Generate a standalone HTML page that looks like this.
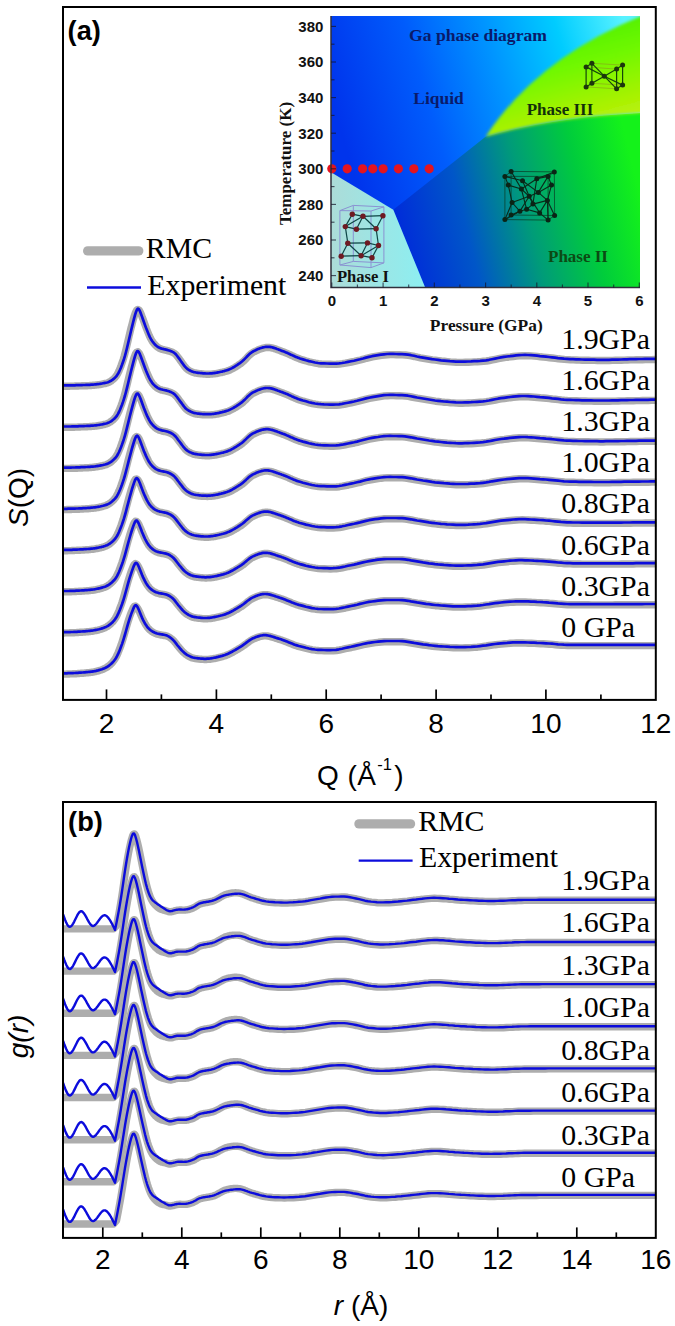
<!DOCTYPE html>
<html><head><meta charset="utf-8"><title>Ga S(Q) and g(r)</title>
<style>html,body{margin:0;padding:0;background:#fff}body{width:675px;height:1326px;overflow:hidden;position:relative;font-family:"Liberation Sans",sans-serif}svg{display:block}.sans{font-family:"Liberation Sans",sans-serif}.serif{font-family:"Liberation Serif",serif}</style></head><body>
<svg width="675" height="1326" viewBox="0 0 675 1326">
<defs>
<linearGradient id="gliq" gradientUnits="userSpaceOnUse" x1="335" y1="110" x2="625" y2="25"><stop offset="0" stop-color="#0034ec"/><stop offset="0.3" stop-color="#005cfc"/><stop offset="0.55" stop-color="#0094ff"/><stop offset="0.78" stop-color="#00ccff"/><stop offset="1" stop-color="#58f2ff"/></linearGradient>
<linearGradient id="gp2" gradientUnits="userSpaceOnUse" x1="395" y1="255" x2="640" y2="195"><stop offset="0" stop-color="#0026dc"/><stop offset="0.3" stop-color="#0056c8"/><stop offset="0.55" stop-color="#009c78"/><stop offset="0.78" stop-color="#00cc3c"/><stop offset="1" stop-color="#14f21a"/></linearGradient>
<linearGradient id="gp3" gradientUnits="userSpaceOnUse" x1="560" y1="20" x2="590" y2="135"><stop offset="0" stop-color="#48ee00"/><stop offset="0.4" stop-color="#70f804"/><stop offset="0.75" stop-color="#a4f200"/><stop offset="1" stop-color="#c4f014"/></linearGradient>
<linearGradient id="gp1" gradientUnits="userSpaceOnUse" x1="331" y1="240" x2="420" y2="240"><stop offset="0" stop-color="#acdcd8"/><stop offset="1" stop-color="#8eeef0"/></linearGradient>
<filter id="bl" x="-10%" y="-10%" width="120%" height="120%"><feGaussianBlur stdDeviation="1.8"/></filter>
<clipPath id="cpin"><rect x="331" y="16" width="309" height="271.5"/></clipPath>
</defs>
<rect width="675" height="1326" fill="#fff"/>
<g fill="none" stroke-linejoin="round">
<path d="M62.1 674.1L63.1 674.1L64.1 674.1L65.1 674.1L66.1 674.1L67.1 674.0L68.1 674.0L69.1 674.0L70.1 673.9L71.1 673.9L72.1 673.9L73.1 673.8L74.1 673.8L75.1 673.7L76.1 673.7L77.1 673.6L78.1 673.5L79.1 673.5L80.1 673.4L81.1 673.3L82.1 673.3L83.1 673.2L84.1 673.1L85.1 673.0L86.1 672.9L87.1 672.8L88.1 672.7L89.1 672.6L90.1 672.5L91.1 672.4L92.1 672.2L93.1 672.1L94.1 671.9L95.1 671.7L96.1 671.4L97.1 671.2L98.1 670.9L99.1 670.6L100.1 670.3L101.1 670.0L102.1 669.6L103.1 669.2L104.1 668.8L105.1 668.3L106.1 667.8L107.1 667.1L108.1 666.4L109.1 665.6L110.1 664.8L111.1 663.8L112.1 662.8L113.1 661.6L114.1 660.3L115.1 658.8L116.1 657.0L117.1 655.0L118.1 652.7L119.1 650.2L120.1 647.6L121.1 644.9L122.1 641.9L123.1 638.7L124.1 635.3L125.1 631.8L126.1 628.2L127.1 624.7L128.1 621.4L129.1 618.3L130.1 615.4L131.1 612.7L132.2 610.2L133.2 607.9L134.3 606.3L135.4 606.0L136.6 606.9L137.9 608.7L139.1 611.0L140.2 613.4L141.3 615.9L142.3 618.3L143.4 620.5L144.4 622.4L145.4 624.2L146.4 625.8L147.4 627.3L148.4 628.5L149.4 629.6L150.4 630.4L151.4 631.2L152.4 631.9L153.4 632.5L154.4 633.0L155.4 633.5L156.4 633.8L157.4 634.2L158.4 634.4L159.4 634.6L160.4 634.8L161.4 635.0L162.4 635.1L163.4 635.3L164.4 635.5L165.4 635.7L166.4 635.9L167.4 636.3L168.4 636.8L169.4 637.3L170.4 638.0L171.4 638.7L172.4 639.6L173.4 640.5L174.4 641.6L175.4 642.8L176.4 644.1L177.4 645.5L178.4 646.7L179.4 647.9L180.4 649.1L181.4 650.2L182.4 651.3L183.4 652.3L184.4 653.2L185.4 654.1L186.4 654.8L187.4 655.5L188.4 656.1L189.4 656.6L190.4 657.1L191.4 657.6L192.4 657.9L193.4 658.2L194.4 658.4L195.4 658.6L196.4 658.7L197.4 658.9L198.4 659.0L199.4 659.1L200.4 659.2L201.4 659.3L202.4 659.4L203.4 659.4L204.4 659.5L205.4 659.5L206.4 659.5L207.4 659.4L208.4 659.4L209.4 659.3L210.4 659.2L211.4 659.0L212.4 658.9L213.4 658.7L214.4 658.5L215.4 658.3L216.4 658.1L217.4 657.8L218.4 657.6L219.4 657.3L220.4 657.1L221.4 656.8L222.4 656.6L223.4 656.3L224.4 656.0L225.4 655.7L226.4 655.3L227.4 654.9L228.4 654.5L229.4 654.0L230.4 653.5L231.4 653.0L232.4 652.5L233.4 651.9L234.4 651.3L235.4 650.8L236.4 650.2L237.4 649.6L238.4 649.0L239.4 648.4L240.4 647.8L241.4 647.2L242.4 646.5L243.4 645.8L244.4 645.1L245.4 644.4L246.4 643.6L247.4 642.8L248.4 642.1L249.4 641.3L250.4 640.7L251.4 640.1L252.4 639.5L253.4 639.0L254.4 638.6L255.4 638.2L256.4 637.8L257.4 637.4L258.4 637.1L259.4 636.8L260.4 636.5L261.4 636.2L262.4 636.1L263.4 635.9L264.4 635.9L265.4 635.9L266.4 635.9L267.4 636.0L268.4 636.2L269.4 636.4L270.4 636.6L271.4 636.9L272.4 637.2L273.4 637.5L274.4 637.8L275.4 638.1L276.4 638.5L277.4 638.8L278.4 639.1L279.4 639.4L280.4 639.7L281.4 640.0L282.4 640.4L283.4 640.8L284.4 641.1L285.4 641.5L286.4 641.9L287.4 642.3L288.4 642.7L289.4 643.1L290.4 643.5L291.4 643.9L292.4 644.3L293.4 644.7L294.4 645.1L295.4 645.5L296.4 645.8L297.4 646.1L298.4 646.4L299.4 646.7L300.4 646.9L303.4 647.7L306.4 648.5L309.4 649.2L312.4 649.8L315.4 650.2L318.4 650.5L321.4 650.6L324.4 650.7L327.4 650.8L330.4 650.8L333.4 650.7L336.4 650.5L339.4 650.0L342.4 649.4L345.4 648.7L348.4 648.1L351.4 647.5L354.4 646.8L357.4 646.1L360.4 645.4L363.4 644.7L366.4 644.1L369.4 643.5L372.4 643.1L375.4 642.7L378.4 642.3L381.4 642.0L384.4 641.8L387.4 641.7L390.4 641.7L393.4 641.7L396.4 641.7L399.4 641.7L402.4 641.8L405.4 642.1L408.4 642.6L411.4 643.1L414.4 643.6L417.4 644.0L420.4 644.5L423.4 645.0L426.4 645.4L429.4 645.9L432.4 646.2L435.4 646.5L438.4 646.8L441.4 647.0L444.4 647.2L447.4 647.4L450.4 647.6L453.4 647.7L456.4 647.8L459.4 647.9L462.4 647.9L465.4 647.8L468.4 647.7L471.4 647.6L474.4 647.4L477.4 647.2L480.4 646.8L483.4 646.4L486.4 646.0L489.4 645.5L492.4 645.1L495.4 644.7L498.4 644.4L501.4 644.1L504.4 643.8L507.4 643.6L510.4 643.3L513.4 643.1L516.4 643.0L519.4 643.0L522.4 643.0L525.4 643.1L528.4 643.2L531.4 643.3L534.4 643.4L537.4 643.6L540.4 643.7L543.4 643.8L546.4 644.0L549.4 644.2L552.4 644.4L555.4 644.7L558.4 645.0L561.4 645.2L564.4 645.4L567.4 645.5L570.4 645.6L573.4 645.6L576.4 645.6L579.4 645.6L582.4 645.6L585.4 645.6L588.4 645.6L591.4 645.6L594.4 645.6L597.4 645.6L600.4 645.6L603.4 645.6L606.4 645.6L609.4 645.6L612.4 645.6L615.4 645.6L618.4 645.6L621.4 645.6L624.4 645.6L627.4 645.6L630.4 645.6L633.4 645.6L636.4 645.6L639.4 645.6L642.4 645.6L645.4 645.6L648.4 645.6L651.4 645.6L654.4 645.6L656.4 645.6" stroke="#adadad" stroke-width="7.4"/>
<path d="M62.1 633.0L63.1 633.0L64.1 633.0L65.1 632.9L66.1 632.9L67.1 632.9L68.1 632.9L69.1 632.9L70.1 632.8L71.1 632.8L72.1 632.8L73.1 632.7L74.1 632.7L75.1 632.6L76.1 632.6L77.1 632.5L78.1 632.5L79.1 632.4L80.1 632.3L81.1 632.3L82.1 632.2L83.1 632.1L84.1 632.1L85.1 632.0L86.1 631.9L87.1 631.8L88.1 631.7L89.1 631.6L90.1 631.5L91.1 631.4L92.1 631.3L93.1 631.1L94.1 630.9L95.1 630.7L96.1 630.5L97.1 630.3L98.1 630.1L99.1 629.8L100.1 629.5L101.1 629.2L102.1 628.9L103.1 628.5L104.1 628.1L105.1 627.7L106.1 627.2L107.1 626.6L108.1 625.9L109.1 625.2L110.1 624.4L111.1 623.5L112.1 622.5L113.1 621.4L114.1 620.1L115.1 618.7L116.1 617.0L117.1 615.0L118.1 612.7L119.1 610.3L120.1 607.7L121.1 605.0L122.1 602.1L123.1 598.9L124.1 595.5L125.1 591.8L126.1 588.2L127.1 584.5L128.1 581.0L129.1 577.7L130.1 574.6L131.1 571.7L132.2 568.9L133.2 566.4L134.3 564.4L135.4 563.6L136.6 564.1L137.9 565.8L139.1 568.0L140.2 570.4L141.3 573.0L142.3 575.5L143.4 577.8L144.4 580.0L145.4 581.9L146.4 583.7L147.4 585.3L148.4 586.7L149.4 587.9L150.4 589.0L151.4 589.8L152.4 590.6L153.4 591.3L154.4 591.9L155.4 592.4L156.4 592.9L157.4 593.2L158.4 593.5L159.4 593.8L160.4 594.0L161.4 594.1L162.4 594.3L163.4 594.5L164.4 594.7L165.4 594.9L166.4 595.1L167.4 595.5L168.4 595.9L169.4 596.4L170.4 597.0L171.4 597.7L172.4 598.5L173.4 599.3L174.4 600.4L175.4 601.6L176.4 602.9L177.4 604.2L178.4 605.5L179.4 606.7L180.4 607.9L181.4 609.1L182.4 610.2L183.4 611.3L184.4 612.3L185.4 613.2L186.4 613.9L187.4 614.6L188.4 615.2L189.4 615.8L190.4 616.3L191.4 616.7L192.4 617.1L193.4 617.4L194.4 617.6L195.4 617.8L196.4 617.9L197.4 618.1L198.4 618.2L199.4 618.3L200.4 618.4L201.4 618.5L202.4 618.6L203.4 618.7L204.4 618.7L205.4 618.7L206.4 618.7L207.4 618.7L208.4 618.6L209.4 618.6L210.4 618.5L211.4 618.3L212.4 618.2L213.4 618.0L214.4 617.8L215.4 617.6L216.4 617.4L217.4 617.2L218.4 617.0L219.4 616.7L220.4 616.5L221.4 616.2L222.4 616.0L223.4 615.7L224.4 615.4L225.4 615.1L226.4 614.7L227.4 614.3L228.4 613.9L229.4 613.5L230.4 613.0L231.4 612.5L232.4 611.9L233.4 611.4L234.4 610.8L235.4 610.2L236.4 609.6L237.4 609.1L238.4 608.4L239.4 607.8L240.4 607.2L241.4 606.6L242.4 605.9L243.4 605.2L244.4 604.4L245.4 603.6L246.4 602.8L247.4 602.0L248.4 601.2L249.4 600.5L250.4 599.8L251.4 599.1L252.4 598.6L253.4 598.1L254.4 597.6L255.4 597.2L256.4 596.8L257.4 596.4L258.4 596.0L259.4 595.7L260.4 595.4L261.4 595.1L262.4 594.9L263.4 594.8L264.4 594.7L265.4 594.7L266.4 594.7L267.4 594.8L268.4 594.9L269.4 595.1L270.4 595.3L271.4 595.6L272.4 595.9L273.4 596.2L274.4 596.5L275.4 596.8L276.4 597.2L277.4 597.5L278.4 597.8L279.4 598.1L280.4 598.5L281.4 598.8L282.4 599.1L283.4 599.5L284.4 599.9L285.4 600.3L286.4 600.7L287.4 601.1L288.4 601.5L289.4 601.9L290.4 602.3L291.4 602.7L292.4 603.2L293.4 603.5L294.4 603.9L295.4 604.3L296.4 604.6L297.4 605.0L298.4 605.3L299.4 605.6L300.4 605.8L303.4 606.6L306.4 607.4L309.4 608.1L312.4 608.8L315.4 609.2L318.4 609.5L321.4 609.7L324.4 609.8L327.4 609.8L330.4 609.9L333.4 609.8L336.4 609.6L339.4 609.2L342.4 608.6L345.4 608.0L348.4 607.3L351.4 606.7L354.4 606.1L357.4 605.4L360.4 604.6L363.4 603.9L366.4 603.2L369.4 602.6L372.4 602.2L375.4 601.8L378.4 601.4L381.4 601.0L384.4 600.8L387.4 600.7L390.4 600.7L393.4 600.7L396.4 600.7L399.4 600.7L402.4 600.8L405.4 601.1L408.4 601.5L411.4 602.1L414.4 602.6L417.4 603.1L420.4 603.5L423.4 604.0L426.4 604.5L429.4 604.9L432.4 605.3L435.4 605.7L438.4 605.9L441.4 606.2L444.4 606.4L447.4 606.6L450.4 606.8L453.4 607.0L456.4 607.1L459.4 607.1L462.4 607.1L465.4 607.0L468.4 606.9L471.4 606.8L474.4 606.6L477.4 606.4L480.4 606.1L483.4 605.7L486.4 605.2L489.4 604.8L492.4 604.3L495.4 603.9L498.4 603.5L501.4 603.2L504.4 602.9L507.4 602.6L510.4 602.4L513.4 602.2L516.4 602.0L519.4 602.0L522.4 602.0L525.4 602.0L528.4 602.1L531.4 602.3L534.4 602.4L537.4 602.6L540.4 602.7L543.4 602.9L546.4 603.0L549.4 603.3L552.4 603.5L555.4 603.8L558.4 604.1L561.4 604.3L564.4 604.5L567.4 604.7L570.4 604.8L573.4 604.8L576.4 604.8L579.4 604.8L582.4 604.8L585.4 604.8L588.4 604.8L591.4 604.9L594.4 604.9L597.4 604.9L600.4 604.9L603.4 604.9L606.4 604.9L609.4 604.9L612.4 604.9L615.4 604.8L618.4 604.8L621.4 604.8L624.4 604.8L627.4 604.8L630.4 604.8L633.4 604.8L636.4 604.8L639.4 604.8L642.4 604.8L645.4 604.7L648.4 604.7L651.4 604.7L654.4 604.7L656.4 604.7" stroke="#adadad" stroke-width="7.4"/>
<path d="M62.1 591.8L63.1 591.8L64.1 591.8L65.1 591.8L66.1 591.8L67.1 591.8L68.1 591.8L69.1 591.7L70.1 591.7L71.1 591.7L72.1 591.6L73.1 591.6L74.1 591.6L75.1 591.5L76.1 591.5L77.1 591.4L78.1 591.4L79.1 591.3L80.1 591.3L81.1 591.2L82.1 591.1L83.1 591.1L84.1 591.0L85.1 590.9L86.1 590.9L87.1 590.8L88.1 590.7L89.1 590.6L90.1 590.5L91.1 590.4L92.1 590.3L93.1 590.2L94.1 590.0L95.1 589.8L96.1 589.6L97.1 589.4L98.1 589.2L99.1 589.0L100.1 588.7L101.1 588.4L102.1 588.1L103.1 587.8L104.1 587.5L105.1 587.1L106.1 586.6L107.1 586.1L108.1 585.5L109.1 584.7L110.1 584.0L111.1 583.1L112.1 582.1L113.1 581.1L114.1 579.9L115.1 578.5L116.1 576.9L117.1 574.9L118.1 572.8L119.1 570.4L120.1 567.8L121.1 565.1L122.1 562.2L123.1 559.0L124.1 555.6L125.1 551.9L126.1 548.2L127.1 544.4L128.1 540.8L129.1 537.3L130.1 533.9L131.1 530.8L132.2 527.7L133.2 524.9L134.3 522.6L135.4 521.3L136.6 521.4L137.9 522.8L139.1 524.9L140.2 527.4L141.3 530.0L142.3 532.6L143.4 535.1L144.4 537.4L145.4 539.5L146.4 541.4L147.4 543.2L148.4 544.9L149.4 546.2L150.4 547.4L151.4 548.4L152.4 549.3L153.4 550.1L154.4 550.8L155.4 551.4L156.4 551.9L157.4 552.3L158.4 552.6L159.4 552.9L160.4 553.1L161.4 553.3L162.4 553.5L163.4 553.7L164.4 553.9L165.4 554.1L166.4 554.3L167.4 554.6L168.4 555.0L169.4 555.5L170.4 556.0L171.4 556.7L172.4 557.4L173.4 558.2L174.4 559.2L175.4 560.3L176.4 561.6L177.4 562.9L178.4 564.2L179.4 565.5L180.4 566.7L181.4 567.9L182.4 569.1L183.4 570.2L184.4 571.3L185.4 572.2L186.4 573.0L187.4 573.7L188.4 574.4L189.4 574.9L190.4 575.4L191.4 575.9L192.4 576.2L193.4 576.6L194.4 576.8L195.4 577.0L196.4 577.1L197.4 577.3L198.4 577.4L199.4 577.5L200.4 577.6L201.4 577.7L202.4 577.8L203.4 577.9L204.4 577.9L205.4 578.0L206.4 578.0L207.4 577.9L208.4 577.9L209.4 577.8L210.4 577.8L211.4 577.6L212.4 577.5L213.4 577.3L214.4 577.2L215.4 577.0L216.4 576.8L217.4 576.6L218.4 576.3L219.4 576.1L220.4 575.9L221.4 575.6L222.4 575.3L223.4 575.1L224.4 574.8L225.4 574.5L226.4 574.2L227.4 573.8L228.4 573.4L229.4 572.9L230.4 572.5L231.4 571.9L232.4 571.4L233.4 570.9L234.4 570.3L235.4 569.7L236.4 569.1L237.4 568.5L238.4 567.9L239.4 567.3L240.4 566.6L241.4 566.0L242.4 565.3L243.4 564.6L244.4 563.8L245.4 562.9L246.4 562.1L247.4 561.2L248.4 560.4L249.4 559.6L250.4 558.8L251.4 558.2L252.4 557.6L253.4 557.1L254.4 556.6L255.4 556.2L256.4 555.8L257.4 555.4L258.4 555.0L259.4 554.6L260.4 554.3L261.4 554.1L262.4 553.8L263.4 553.6L264.4 553.5L265.4 553.5L266.4 553.5L267.4 553.5L268.4 553.7L269.4 553.8L270.4 554.0L271.4 554.3L272.4 554.6L273.4 554.9L274.4 555.2L275.4 555.5L276.4 555.9L277.4 556.2L278.4 556.6L279.4 556.9L280.4 557.2L281.4 557.5L282.4 557.9L283.4 558.2L284.4 558.6L285.4 559.0L286.4 559.4L287.4 559.8L288.4 560.3L289.4 560.7L290.4 561.1L291.4 561.5L292.4 562.0L293.4 562.4L294.4 562.8L295.4 563.1L296.4 563.5L297.4 563.8L298.4 564.2L299.4 564.5L300.4 564.8L303.4 565.6L306.4 566.4L309.4 567.1L312.4 567.7L315.4 568.2L318.4 568.6L321.4 568.7L324.4 568.8L327.4 568.9L330.4 569.0L333.4 568.9L336.4 568.7L339.4 568.4L342.4 567.8L345.4 567.2L348.4 566.5L351.4 565.9L354.4 565.3L357.4 564.6L360.4 563.8L363.4 563.1L366.4 562.4L369.4 561.8L372.4 561.3L375.4 560.9L378.4 560.4L381.4 560.1L384.4 559.8L387.4 559.7L390.4 559.7L393.4 559.7L396.4 559.7L399.4 559.7L402.4 559.8L405.4 560.1L408.4 560.5L411.4 561.1L414.4 561.6L417.4 562.1L420.4 562.6L423.4 563.1L426.4 563.5L429.4 564.0L432.4 564.4L435.4 564.8L438.4 565.1L441.4 565.3L444.4 565.6L447.4 565.8L450.4 566.0L453.4 566.2L456.4 566.3L459.4 566.3L462.4 566.3L465.4 566.2L468.4 566.1L471.4 566.0L474.4 565.8L477.4 565.6L480.4 565.3L483.4 565.0L486.4 564.5L489.4 564.0L492.4 563.5L495.4 563.0L498.4 562.6L501.4 562.3L504.4 562.0L507.4 561.7L510.4 561.4L513.4 561.2L516.4 561.0L519.4 560.9L522.4 560.9L525.4 561.0L528.4 561.1L531.4 561.2L534.4 561.4L537.4 561.5L540.4 561.7L543.4 561.9L546.4 562.1L549.4 562.3L552.4 562.6L555.4 562.9L558.4 563.2L561.4 563.4L564.4 563.7L567.4 563.8L570.4 563.9L573.4 564.0L576.4 564.0L579.4 564.0L582.4 564.1L585.4 564.1L588.4 564.1L591.4 564.1L594.4 564.1L597.4 564.1L600.4 564.1L603.4 564.1L606.4 564.1L609.4 564.1L612.4 564.1L615.4 564.1L618.4 564.1L621.4 564.0L624.4 564.0L627.4 564.0L630.4 564.0L633.4 564.0L636.4 563.9L639.4 563.9L642.4 563.9L645.4 563.9L648.4 563.9L651.4 563.9L654.4 563.9L656.4 563.9" stroke="#adadad" stroke-width="7.4"/>
<path d="M62.1 550.7L63.1 550.7L64.1 550.7L65.1 550.7L66.1 550.7L67.1 550.7L68.1 550.6L69.1 550.6L70.1 550.6L71.1 550.6L72.1 550.5L73.1 550.5L74.1 550.5L75.1 550.4L76.1 550.4L77.1 550.3L78.1 550.3L79.1 550.2L80.1 550.2L81.1 550.1L82.1 550.1L83.1 550.0L84.1 550.0L85.1 549.9L86.1 549.8L87.1 549.8L88.1 549.7L89.1 549.6L90.1 549.5L91.1 549.4L92.1 549.3L93.1 549.2L94.1 549.1L95.1 548.9L96.1 548.7L97.1 548.5L98.1 548.3L99.1 548.1L100.1 547.9L101.1 547.6L102.1 547.4L103.1 547.1L104.1 546.8L105.1 546.4L106.1 546.0L107.1 545.5L108.1 544.9L109.1 544.3L110.1 543.5L111.1 542.7L112.1 541.8L113.1 540.8L114.1 539.7L115.1 538.3L116.1 536.8L117.1 534.9L118.1 532.8L119.1 530.4L120.1 527.9L121.1 525.2L122.1 522.3L123.1 519.2L124.1 515.8L125.1 512.1L126.1 508.2L127.1 504.4L128.1 500.6L129.1 496.9L130.1 493.4L131.1 489.9L132.2 486.7L133.2 483.6L134.3 481.0L135.4 479.3L136.6 478.9L137.9 479.9L139.1 481.9L140.2 484.3L141.3 486.9L142.3 489.6L143.4 492.2L144.4 494.7L145.4 496.9L146.4 499.1L147.4 501.0L148.4 502.8L149.4 504.4L150.4 505.8L151.4 506.9L152.4 507.9L153.4 508.8L154.4 509.6L155.4 510.3L156.4 510.8L157.4 511.3L158.4 511.7L159.4 512.0L160.4 512.3L161.4 512.5L162.4 512.7L163.4 512.9L164.4 513.1L165.4 513.3L166.4 513.5L167.4 513.8L168.4 514.2L169.4 514.6L170.4 515.1L171.4 515.7L172.4 516.3L173.4 517.1L174.4 518.0L175.4 519.1L176.4 520.3L177.4 521.6L178.4 522.9L179.4 524.2L180.4 525.5L181.4 526.7L182.4 528.0L183.4 529.2L184.4 530.3L185.4 531.3L186.4 532.1L187.4 532.9L188.4 533.5L189.4 534.1L190.4 534.6L191.4 535.0L192.4 535.4L193.4 535.7L194.4 536.0L195.4 536.2L196.4 536.4L197.4 536.5L198.4 536.6L199.4 536.8L200.4 536.9L201.4 537.0L202.4 537.0L203.4 537.1L204.4 537.2L205.4 537.2L206.4 537.2L207.4 537.2L208.4 537.2L209.4 537.1L210.4 537.0L211.4 536.9L212.4 536.8L213.4 536.7L214.4 536.5L215.4 536.3L216.4 536.1L217.4 535.9L218.4 535.7L219.4 535.5L220.4 535.2L221.4 535.0L222.4 534.7L223.4 534.5L224.4 534.2L225.4 533.9L226.4 533.6L227.4 533.2L228.4 532.8L229.4 532.4L230.4 531.9L231.4 531.4L232.4 530.9L233.4 530.3L234.4 529.8L235.4 529.2L236.4 528.6L237.4 528.0L238.4 527.3L239.4 526.7L240.4 526.1L241.4 525.4L242.4 524.7L243.4 523.9L244.4 523.1L245.4 522.2L246.4 521.3L247.4 520.4L248.4 519.6L249.4 518.7L250.4 517.9L251.4 517.2L252.4 516.6L253.4 516.1L254.4 515.6L255.4 515.2L256.4 514.8L257.4 514.3L258.4 514.0L259.4 513.6L260.4 513.3L261.4 513.0L262.4 512.7L263.4 512.5L264.4 512.4L265.4 512.3L266.4 512.3L267.4 512.3L268.4 512.4L269.4 512.5L270.4 512.7L271.4 513.0L272.4 513.3L273.4 513.6L274.4 513.9L275.4 514.2L276.4 514.6L277.4 514.9L278.4 515.3L279.4 515.6L280.4 515.9L281.4 516.3L282.4 516.6L283.4 517.0L284.4 517.4L285.4 517.8L286.4 518.2L287.4 518.6L288.4 519.0L289.4 519.5L290.4 519.9L291.4 520.3L292.4 520.7L293.4 521.2L294.4 521.6L295.4 522.0L296.4 522.3L297.4 522.7L298.4 523.0L299.4 523.4L300.4 523.7L303.4 524.5L306.4 525.3L309.4 526.0L312.4 526.7L315.4 527.2L318.4 527.6L321.4 527.8L324.4 527.9L327.4 528.0L330.4 528.0L333.4 528.0L336.4 527.9L339.4 527.5L342.4 527.0L345.4 526.4L348.4 525.7L351.4 525.1L354.4 524.5L357.4 523.8L360.4 523.1L363.4 522.3L366.4 521.6L369.4 520.9L372.4 520.4L375.4 519.9L378.4 519.5L381.4 519.1L384.4 518.8L387.4 518.7L390.4 518.7L393.4 518.7L396.4 518.7L399.4 518.8L402.4 518.8L405.4 519.1L408.4 519.5L411.4 520.0L414.4 520.6L417.4 521.2L420.4 521.6L423.4 522.1L426.4 522.6L429.4 523.1L432.4 523.5L435.4 523.9L438.4 524.2L441.4 524.5L444.4 524.7L447.4 525.0L450.4 525.2L453.4 525.3L456.4 525.5L459.4 525.5L462.4 525.5L465.4 525.5L468.4 525.4L471.4 525.2L474.4 525.0L477.4 524.9L480.4 524.6L483.4 524.2L486.4 523.8L489.4 523.3L492.4 522.8L495.4 522.3L498.4 521.8L501.4 521.4L504.4 521.1L507.4 520.8L510.4 520.5L513.4 520.2L516.4 520.0L519.4 519.9L522.4 519.8L525.4 519.9L528.4 520.0L531.4 520.2L534.4 520.3L537.4 520.5L540.4 520.7L543.4 520.9L546.4 521.2L549.4 521.4L552.4 521.7L555.4 522.0L558.4 522.3L561.4 522.6L564.4 522.8L567.4 523.0L570.4 523.1L573.4 523.2L576.4 523.2L579.4 523.2L582.4 523.3L585.4 523.3L588.4 523.3L591.4 523.4L594.4 523.4L597.4 523.4L600.4 523.4L603.4 523.4L606.4 523.4L609.4 523.4L612.4 523.4L615.4 523.3L618.4 523.3L621.4 523.3L624.4 523.2L627.4 523.2L630.4 523.2L633.4 523.1L636.4 523.1L639.4 523.1L642.4 523.1L645.4 523.0L648.4 523.0L651.4 523.0L654.4 523.0L656.4 523.0" stroke="#adadad" stroke-width="7.4"/>
<path d="M62.1 509.6L63.1 509.6L64.1 509.6L65.1 509.6L66.1 509.6L67.1 509.5L68.1 509.5L69.1 509.5L70.1 509.5L71.1 509.5L72.1 509.4L73.1 509.4L74.1 509.4L75.1 509.3L76.1 509.3L77.1 509.3L78.1 509.2L79.1 509.2L80.1 509.1L81.1 509.1L82.1 509.0L83.1 509.0L84.1 508.9L85.1 508.9L86.1 508.8L87.1 508.7L88.1 508.7L89.1 508.6L90.1 508.5L91.1 508.4L92.1 508.3L93.1 508.2L94.1 508.1L95.1 508.0L96.1 507.8L97.1 507.6L98.1 507.5L99.1 507.3L100.1 507.0L101.1 506.8L102.1 506.6L103.1 506.3L104.1 506.0L105.1 505.7L106.1 505.4L107.1 504.9L108.1 504.4L109.1 503.8L110.1 503.1L111.1 502.3L112.1 501.4L113.1 500.5L114.1 499.4L115.1 498.2L116.1 496.7L117.1 494.9L118.1 492.8L119.1 490.5L120.1 488.0L121.1 485.3L122.1 482.4L123.1 479.3L124.1 475.9L125.1 472.2L126.1 468.3L127.1 464.4L128.1 460.4L129.1 456.6L130.1 452.9L131.1 449.2L132.2 445.7L133.2 442.5L134.3 439.5L135.4 437.4L136.6 436.5L137.9 437.1L139.1 438.9L140.2 441.3L141.3 443.9L142.3 446.6L143.4 449.3L144.4 451.9L145.4 454.3L146.4 456.6L147.4 458.7L148.4 460.7L149.4 462.5L150.4 464.0L151.4 465.3L152.4 466.4L153.4 467.4L154.4 468.3L155.4 469.1L156.4 469.8L157.4 470.3L158.4 470.8L159.4 471.1L160.4 471.4L161.4 471.7L162.4 471.9L163.4 472.1L164.4 472.3L165.4 472.5L166.4 472.7L167.4 473.0L168.4 473.3L169.4 473.7L170.4 474.2L171.4 474.7L172.4 475.3L173.4 476.0L174.4 476.8L175.4 477.8L176.4 479.0L177.4 480.3L178.4 481.7L179.4 483.0L180.4 484.3L181.4 485.5L182.4 486.8L183.4 488.1L184.4 489.3L185.4 490.3L186.4 491.2L187.4 492.0L188.4 492.6L189.4 493.2L190.4 493.7L191.4 494.2L192.4 494.6L193.4 494.9L194.4 495.2L195.4 495.4L196.4 495.6L197.4 495.7L198.4 495.8L199.4 496.0L200.4 496.1L201.4 496.2L202.4 496.3L203.4 496.3L204.4 496.4L205.4 496.4L206.4 496.4L207.4 496.5L208.4 496.4L209.4 496.4L210.4 496.3L211.4 496.2L212.4 496.1L213.4 496.0L214.4 495.8L215.4 495.7L216.4 495.5L217.4 495.3L218.4 495.1L219.4 494.8L220.4 494.6L221.4 494.4L222.4 494.1L223.4 493.9L224.4 493.6L225.4 493.3L226.4 493.0L227.4 492.7L228.4 492.3L229.4 491.9L230.4 491.4L231.4 490.9L232.4 490.4L233.4 489.8L234.4 489.2L235.4 488.7L236.4 488.0L237.4 487.4L238.4 486.8L239.4 486.1L240.4 485.5L241.4 484.8L242.4 484.1L243.4 483.3L244.4 482.4L245.4 481.5L246.4 480.6L247.4 479.6L248.4 478.7L249.4 477.8L250.4 477.0L251.4 476.3L252.4 475.7L253.4 475.1L254.4 474.6L255.4 474.2L256.4 473.7L257.4 473.3L258.4 472.9L259.4 472.5L260.4 472.2L261.4 471.9L262.4 471.6L263.4 471.4L264.4 471.2L265.4 471.1L266.4 471.1L267.4 471.1L268.4 471.1L269.4 471.3L270.4 471.5L271.4 471.7L272.4 471.9L273.4 472.2L274.4 472.6L275.4 472.9L276.4 473.3L277.4 473.6L278.4 474.0L279.4 474.3L280.4 474.7L281.4 475.0L282.4 475.4L283.4 475.7L284.4 476.1L285.4 476.5L286.4 476.9L287.4 477.3L288.4 477.8L289.4 478.2L290.4 478.6L291.4 479.1L292.4 479.5L293.4 480.0L294.4 480.4L295.4 480.8L296.4 481.2L297.4 481.6L298.4 481.9L299.4 482.2L300.4 482.5L303.4 483.4L306.4 484.2L309.4 485.0L312.4 485.7L315.4 486.2L318.4 486.6L321.4 486.8L324.4 486.9L327.4 487.0L330.4 487.1L333.4 487.1L336.4 487.0L339.4 486.7L342.4 486.2L345.4 485.6L348.4 485.0L351.4 484.3L354.4 483.7L357.4 483.0L360.4 482.3L363.4 481.5L366.4 480.7L369.4 480.1L372.4 479.5L375.4 479.0L378.4 478.6L381.4 478.2L384.4 477.9L387.4 477.7L390.4 477.6L393.4 477.7L396.4 477.7L399.4 477.8L402.4 477.8L405.4 478.1L408.4 478.5L411.4 479.0L414.4 479.6L417.4 480.2L420.4 480.7L423.4 481.2L426.4 481.6L429.4 482.1L432.4 482.6L435.4 483.0L438.4 483.3L441.4 483.6L444.4 483.9L447.4 484.1L450.4 484.4L453.4 484.5L456.4 484.7L459.4 484.7L462.4 484.7L465.4 484.7L468.4 484.6L471.4 484.4L474.4 484.3L477.4 484.1L480.4 483.9L483.4 483.5L486.4 483.1L489.4 482.6L492.4 482.0L495.4 481.5L498.4 481.0L501.4 480.6L504.4 480.2L507.4 479.9L510.4 479.6L513.4 479.3L516.4 479.0L519.4 478.8L522.4 478.8L525.4 478.8L528.4 478.9L531.4 479.1L534.4 479.3L537.4 479.5L540.4 479.8L543.4 480.0L546.4 480.2L549.4 480.5L552.4 480.8L555.4 481.1L558.4 481.4L561.4 481.7L564.4 482.0L567.4 482.2L570.4 482.3L573.4 482.3L576.4 482.4L579.4 482.5L582.4 482.5L585.4 482.6L588.4 482.6L591.4 482.6L594.4 482.7L597.4 482.7L600.4 482.7L603.4 482.7L606.4 482.7L609.4 482.7L612.4 482.6L615.4 482.6L618.4 482.5L621.4 482.5L624.4 482.4L627.4 482.4L630.4 482.4L633.4 482.3L636.4 482.3L639.4 482.3L642.4 482.2L645.4 482.2L648.4 482.2L651.4 482.1L654.4 482.1L656.4 482.1" stroke="#adadad" stroke-width="7.4"/>
<path d="M62.1 468.5L63.1 468.5L64.1 468.4L65.1 468.4L66.1 468.4L67.1 468.4L68.1 468.4L69.1 468.4L70.1 468.4L71.1 468.3L72.1 468.3L73.1 468.3L74.1 468.3L75.1 468.2L76.1 468.2L77.1 468.2L78.1 468.1L79.1 468.1L80.1 468.0L81.1 468.0L82.1 468.0L83.1 467.9L84.1 467.9L85.1 467.8L86.1 467.8L87.1 467.7L88.1 467.7L89.1 467.6L90.1 467.5L91.1 467.5L92.1 467.4L93.1 467.3L94.1 467.2L95.1 467.0L96.1 466.9L97.1 466.7L98.1 466.6L99.1 466.4L100.1 466.2L101.1 466.0L102.1 465.8L103.1 465.5L104.1 465.3L105.1 465.0L106.1 464.7L107.1 464.3L108.1 463.8L109.1 463.3L110.1 462.6L111.1 461.9L112.1 461.0L113.1 460.1L114.1 459.1L115.1 457.9L116.1 456.5L117.1 454.8L118.1 452.8L119.1 450.5L120.1 448.1L121.1 445.4L122.1 442.6L123.1 439.5L124.1 436.1L125.1 432.4L126.1 428.5L127.1 424.4L128.1 420.3L129.1 416.3L130.1 412.4L131.1 408.6L132.2 404.9L133.2 401.4L134.3 398.2L135.4 395.6L136.6 394.2L137.9 394.4L139.1 395.9L140.2 398.2L141.3 400.8L142.3 403.5L143.4 406.3L144.4 409.0L145.4 411.5L146.4 414.0L147.4 416.3L148.4 418.4L149.4 420.4L150.4 422.1L151.4 423.6L152.4 424.9L153.4 426.0L154.4 427.0L155.4 427.8L156.4 428.6L157.4 429.3L158.4 429.8L159.4 430.2L160.4 430.5L161.4 430.8L162.4 431.1L163.4 431.3L164.4 431.5L165.4 431.7L166.4 431.9L167.4 432.2L168.4 432.5L169.4 432.9L170.4 433.3L171.4 433.7L172.4 434.3L173.4 434.9L174.4 435.7L175.4 436.6L176.4 437.7L177.4 439.0L178.4 440.4L179.4 441.7L180.4 443.0L181.4 444.3L182.4 445.7L183.4 447.0L184.4 448.2L185.4 449.4L186.4 450.3L187.4 451.1L188.4 451.8L189.4 452.4L190.4 452.9L191.4 453.3L192.4 453.8L193.4 454.1L194.4 454.4L195.4 454.6L196.4 454.8L197.4 454.9L198.4 455.1L199.4 455.2L200.4 455.3L201.4 455.4L202.4 455.5L203.4 455.6L204.4 455.6L205.4 455.7L206.4 455.7L207.4 455.7L208.4 455.7L209.4 455.7L210.4 455.6L211.4 455.5L212.4 455.4L213.4 455.3L214.4 455.1L215.4 455.0L216.4 454.8L217.4 454.6L218.4 454.4L219.4 454.2L220.4 454.0L221.4 453.7L222.4 453.5L223.4 453.3L224.4 453.0L225.4 452.7L226.4 452.4L227.4 452.1L228.4 451.7L229.4 451.3L230.4 450.9L231.4 450.4L232.4 449.8L233.4 449.3L234.4 448.7L235.4 448.1L236.4 447.5L237.4 446.9L238.4 446.2L239.4 445.6L240.4 444.9L241.4 444.2L242.4 443.5L243.4 442.6L244.4 441.7L245.4 440.8L246.4 439.8L247.4 438.8L248.4 437.9L249.4 437.0L250.4 436.1L251.4 435.4L252.4 434.7L253.4 434.1L254.4 433.6L255.4 433.2L256.4 432.7L257.4 432.3L258.4 431.9L259.4 431.5L260.4 431.1L261.4 430.8L262.4 430.5L263.4 430.3L264.4 430.1L265.4 430.0L266.4 429.9L267.4 429.9L268.4 429.9L269.4 430.0L270.4 430.2L271.4 430.4L272.4 430.6L273.4 430.9L274.4 431.2L275.4 431.6L276.4 431.9L277.4 432.3L278.4 432.7L279.4 433.0L280.4 433.4L281.4 433.8L282.4 434.1L283.4 434.5L284.4 434.8L285.4 435.2L286.4 435.6L287.4 436.1L288.4 436.5L289.4 437.0L290.4 437.4L291.4 437.9L292.4 438.3L293.4 438.7L294.4 439.2L295.4 439.6L296.4 440.0L297.4 440.4L298.4 440.8L299.4 441.1L300.4 441.4L303.4 442.3L306.4 443.1L309.4 443.9L312.4 444.6L315.4 445.2L318.4 445.6L321.4 445.9L324.4 446.0L327.4 446.1L330.4 446.2L333.4 446.2L336.4 446.1L339.4 445.8L342.4 445.4L345.4 444.8L348.4 444.2L351.4 443.6L354.4 443.0L357.4 442.3L360.4 441.5L363.4 440.7L366.4 439.9L369.4 439.2L372.4 438.6L375.4 438.1L378.4 437.7L381.4 437.2L384.4 436.9L387.4 436.7L390.4 436.6L393.4 436.7L396.4 436.7L399.4 436.8L402.4 436.9L405.4 437.1L408.4 437.5L411.4 438.0L414.4 438.6L417.4 439.2L420.4 439.7L423.4 440.2L426.4 440.7L429.4 441.2L432.4 441.6L435.4 442.1L438.4 442.4L441.4 442.7L444.4 443.0L447.4 443.3L450.4 443.5L453.4 443.7L456.4 443.9L459.4 444.0L462.4 444.0L465.4 443.9L468.4 443.8L471.4 443.7L474.4 443.5L477.4 443.3L480.4 443.1L483.4 442.8L486.4 442.4L489.4 441.9L492.4 441.3L495.4 440.7L498.4 440.2L501.4 439.7L504.4 439.4L507.4 439.0L510.4 438.6L513.4 438.3L516.4 438.0L519.4 437.8L522.4 437.7L525.4 437.7L528.4 437.9L531.4 438.0L534.4 438.2L537.4 438.5L540.4 438.8L543.4 439.0L546.4 439.3L549.4 439.5L552.4 439.9L555.4 440.2L558.4 440.5L561.4 440.8L564.4 441.1L567.4 441.3L570.4 441.4L573.4 441.5L576.4 441.6L579.4 441.7L582.4 441.7L585.4 441.8L588.4 441.8L591.4 441.9L594.4 441.9L597.4 441.9L600.4 442.0L603.4 442.0L606.4 441.9L609.4 441.9L612.4 441.9L615.4 441.8L618.4 441.8L621.4 441.7L624.4 441.7L627.4 441.6L630.4 441.5L633.4 441.5L636.4 441.5L639.4 441.4L642.4 441.4L645.4 441.3L648.4 441.3L651.4 441.3L654.4 441.3L656.4 441.2" stroke="#adadad" stroke-width="7.4"/>
<path d="M62.1 427.3L63.1 427.3L64.1 427.3L65.1 427.3L66.1 427.3L67.1 427.3L68.1 427.3L69.1 427.3L70.1 427.3L71.1 427.2L72.1 427.2L73.1 427.2L74.1 427.2L75.1 427.1L76.1 427.1L77.1 427.1L78.1 427.0L79.1 427.0L80.1 427.0L81.1 426.9L82.1 426.9L83.1 426.9L84.1 426.8L85.1 426.8L86.1 426.7L87.1 426.7L88.1 426.6L89.1 426.6L90.1 426.5L91.1 426.5L92.1 426.4L93.1 426.3L94.1 426.2L95.1 426.1L96.1 426.0L97.1 425.8L98.1 425.7L99.1 425.5L100.1 425.3L101.1 425.2L102.1 425.0L103.1 424.7L104.1 424.5L105.1 424.3L106.1 424.0L107.1 423.6L108.1 423.2L109.1 422.7L110.1 422.1L111.1 421.4L112.1 420.6L113.1 419.8L114.1 418.8L115.1 417.7L116.1 416.4L117.1 414.7L118.1 412.8L119.1 410.6L120.1 408.1L121.1 405.5L122.1 402.7L123.1 399.6L124.1 396.3L125.1 392.6L126.1 388.6L127.1 384.5L128.1 380.3L129.1 376.2L130.1 372.1L131.1 368.1L132.2 364.2L133.2 360.4L134.3 357.0L135.4 354.1L136.6 352.2L137.9 351.8L139.1 353.0L140.2 355.1L141.3 357.7L142.3 360.5L143.4 363.3L144.4 366.0L145.4 368.7L146.4 371.3L147.4 373.7L148.4 376.0L149.4 378.2L150.4 380.2L151.4 381.8L152.4 383.3L153.4 384.5L154.4 385.6L155.4 386.6L156.4 387.4L157.4 388.1L158.4 388.8L159.4 389.3L160.4 389.6L161.4 390.0L162.4 390.2L163.4 390.5L164.4 390.7L165.4 390.9L166.4 391.1L167.4 391.4L168.4 391.7L169.4 392.0L170.4 392.4L171.4 392.8L172.4 393.3L173.4 393.8L174.4 394.5L175.4 395.4L176.4 396.5L177.4 397.7L178.4 399.1L179.4 400.4L180.4 401.8L181.4 403.1L182.4 404.5L183.4 405.8L184.4 407.2L185.4 408.4L186.4 409.4L187.4 410.2L188.4 410.9L189.4 411.5L190.4 412.0L191.4 412.5L192.4 412.9L193.4 413.3L194.4 413.6L195.4 413.8L196.4 414.0L197.4 414.2L198.4 414.3L199.4 414.4L200.4 414.5L201.4 414.6L202.4 414.7L203.4 414.8L204.4 414.8L205.4 414.9L206.4 414.9L207.4 414.9L208.4 414.9L209.4 414.9L210.4 414.9L211.4 414.8L212.4 414.7L213.4 414.6L214.4 414.5L215.4 414.3L216.4 414.1L217.4 414.0L218.4 413.8L219.4 413.6L220.4 413.3L221.4 413.1L222.4 412.9L223.4 412.6L224.4 412.4L225.4 412.1L226.4 411.8L227.4 411.5L228.4 411.2L229.4 410.8L230.4 410.3L231.4 409.8L232.4 409.3L233.4 408.8L234.4 408.2L235.4 407.6L236.4 407.0L237.4 406.3L238.4 405.7L239.4 405.0L240.4 404.3L241.4 403.6L242.4 402.8L243.4 402.0L244.4 401.0L245.4 400.1L246.4 399.1L247.4 398.0L248.4 397.0L249.4 396.1L250.4 395.2L251.4 394.4L252.4 393.7L253.4 393.1L254.4 392.6L255.4 392.2L256.4 391.7L257.4 391.3L258.4 390.8L259.4 390.4L260.4 390.1L261.4 389.7L262.4 389.4L263.4 389.2L264.4 389.0L265.4 388.8L266.4 388.7L267.4 388.7L268.4 388.7L269.4 388.8L270.4 388.9L271.4 389.1L272.4 389.3L273.4 389.6L274.4 389.9L275.4 390.3L276.4 390.6L277.4 391.0L278.4 391.4L279.4 391.7L280.4 392.1L281.4 392.5L282.4 392.8L283.4 393.2L284.4 393.6L285.4 394.0L286.4 394.4L287.4 394.8L288.4 395.2L289.4 395.7L290.4 396.1L291.4 396.6L292.4 397.1L293.4 397.5L294.4 398.0L295.4 398.4L296.4 398.8L297.4 399.2L298.4 399.6L299.4 400.0L300.4 400.3L303.4 401.2L306.4 402.0L309.4 402.9L312.4 403.6L315.4 404.2L318.4 404.6L321.4 404.9L324.4 405.1L327.4 405.2L330.4 405.3L333.4 405.3L336.4 405.2L339.4 405.0L342.4 404.6L345.4 404.0L348.4 403.4L351.4 402.8L354.4 402.2L357.4 401.5L360.4 400.7L363.4 399.9L366.4 399.1L369.4 398.4L372.4 397.8L375.4 397.3L378.4 396.8L381.4 396.3L384.4 395.9L387.4 395.7L390.4 395.6L393.4 395.6L396.4 395.7L399.4 395.8L402.4 395.9L405.4 396.1L408.4 396.4L411.4 397.0L414.4 397.6L417.4 398.2L420.4 398.7L423.4 399.2L426.4 399.7L429.4 400.2L432.4 400.7L435.4 401.2L438.4 401.5L441.4 401.9L444.4 402.2L447.4 402.4L450.4 402.7L453.4 402.9L456.4 403.1L459.4 403.2L462.4 403.2L465.4 403.1L468.4 403.0L471.4 402.9L474.4 402.7L477.4 402.5L480.4 402.3L483.4 402.1L486.4 401.7L489.4 401.2L492.4 400.6L495.4 400.0L498.4 399.4L501.4 398.9L504.4 398.5L507.4 398.1L510.4 397.7L513.4 397.4L516.4 397.1L519.4 396.8L522.4 396.7L525.4 396.7L528.4 396.8L531.4 397.0L534.4 397.2L537.4 397.5L540.4 397.8L543.4 398.0L546.4 398.3L549.4 398.6L552.4 399.0L555.4 399.3L558.4 399.6L561.4 400.0L564.4 400.3L567.4 400.5L570.4 400.6L573.4 400.7L576.4 400.8L579.4 400.9L582.4 401.0L585.4 401.0L588.4 401.1L591.4 401.1L594.4 401.2L597.4 401.2L600.4 401.2L603.4 401.2L606.4 401.2L609.4 401.2L612.4 401.1L615.4 401.1L618.4 401.0L621.4 400.9L624.4 400.9L627.4 400.8L630.4 400.7L633.4 400.7L636.4 400.6L639.4 400.6L642.4 400.5L645.4 400.5L648.4 400.5L651.4 400.4L654.4 400.4L656.4 400.4" stroke="#adadad" stroke-width="7.4"/>
<path d="M62.1 386.2L63.1 386.2L64.1 386.2L65.1 386.2L66.1 386.2L67.1 386.2L68.1 386.2L69.1 386.2L70.1 386.1L71.1 386.1L72.1 386.1L73.1 386.1L74.1 386.1L75.1 386.0L76.1 386.0L77.1 386.0L78.1 386.0L79.1 385.9L80.1 385.9L81.1 385.9L82.1 385.8L83.1 385.8L84.1 385.8L85.1 385.7L86.1 385.7L87.1 385.7L88.1 385.6L89.1 385.6L90.1 385.5L91.1 385.5L92.1 385.4L93.1 385.3L94.1 385.2L95.1 385.1L96.1 385.0L97.1 384.9L98.1 384.8L99.1 384.6L100.1 384.5L101.1 384.3L102.1 384.1L103.1 383.9L104.1 383.7L105.1 383.5L106.1 383.3L107.1 383.0L108.1 382.6L109.1 382.1L110.1 381.6L111.1 381.0L112.1 380.2L113.1 379.4L114.1 378.5L115.1 377.4L116.1 376.2L117.1 374.6L118.1 372.8L119.1 370.6L120.1 368.2L121.1 365.6L122.1 362.8L123.1 359.8L124.1 356.5L125.1 352.8L126.1 348.8L127.1 344.6L128.1 340.3L129.1 336.0L130.1 331.8L131.1 327.7L132.2 323.6L133.2 319.6L134.3 315.9L135.4 312.7L136.6 310.3L137.9 309.4L139.1 310.1L140.2 312.1L141.3 314.6L142.3 317.4L143.4 320.2L144.4 323.0L145.4 325.8L146.4 328.5L147.4 331.0L148.4 333.5L149.4 335.9L150.4 338.0L151.4 339.9L152.4 341.5L153.4 342.9L154.4 344.1L155.4 345.2L156.4 346.2L157.4 347.0L158.4 347.7L159.4 348.3L160.4 348.7L161.4 349.1L162.4 349.4L163.4 349.6L164.4 349.9L165.4 350.1L166.4 350.3L167.4 350.6L168.4 350.9L169.4 351.2L170.4 351.5L171.4 351.9L172.4 352.3L173.4 352.8L174.4 353.4L175.4 354.2L176.4 355.2L177.4 356.5L178.4 357.8L179.4 359.1L180.4 360.5L181.4 361.9L182.4 363.3L183.4 364.7L184.4 366.1L185.4 367.3L186.4 368.4L187.4 369.3L188.4 370.1L189.4 370.7L190.4 371.2L191.4 371.7L192.4 372.1L193.4 372.5L194.4 372.8L195.4 373.0L196.4 373.2L197.4 373.4L198.4 373.5L199.4 373.6L200.4 373.7L201.4 373.8L202.4 373.9L203.4 374.0L204.4 374.1L205.4 374.1L206.4 374.2L207.4 374.2L208.4 374.2L209.4 374.2L210.4 374.1L211.4 374.1L212.4 374.0L213.4 373.9L214.4 373.8L215.4 373.6L216.4 373.5L217.4 373.3L218.4 373.1L219.4 372.9L220.4 372.7L221.4 372.5L222.4 372.3L223.4 372.0L224.4 371.8L225.4 371.5L226.4 371.2L227.4 370.9L228.4 370.6L229.4 370.2L230.4 369.8L231.4 369.3L232.4 368.8L233.4 368.2L234.4 367.7L235.4 367.1L236.4 366.4L237.4 365.8L238.4 365.1L239.4 364.4L240.4 363.8L241.4 363.0L242.4 362.2L243.4 361.3L244.4 360.4L245.4 359.3L246.4 358.3L247.4 357.2L248.4 356.2L249.4 355.2L250.4 354.3L251.4 353.5L252.4 352.8L253.4 352.2L254.4 351.6L255.4 351.2L256.4 350.7L257.4 350.2L258.4 349.8L259.4 349.4L260.4 349.0L261.4 348.7L262.4 348.4L263.4 348.1L264.4 347.9L265.4 347.7L266.4 347.5L267.4 347.5L268.4 347.5L269.4 347.5L270.4 347.6L271.4 347.8L272.4 348.0L273.4 348.3L274.4 348.6L275.4 348.9L276.4 349.3L277.4 349.7L278.4 350.0L279.4 350.4L280.4 350.8L281.4 351.2L282.4 351.6L283.4 351.9L284.4 352.3L285.4 352.7L286.4 353.1L287.4 353.5L288.4 354.0L289.4 354.4L290.4 354.9L291.4 355.4L292.4 355.8L293.4 356.3L294.4 356.7L295.4 357.2L296.4 357.6L297.4 358.0L298.4 358.4L299.4 358.8L300.4 359.2L303.4 360.1L306.4 361.0L309.4 361.8L312.4 362.5L315.4 363.2L318.4 363.7L321.4 364.0L324.4 364.1L327.4 364.2L330.4 364.3L333.4 364.4L336.4 364.3L339.4 364.1L342.4 363.7L345.4 363.2L348.4 362.6L351.4 362.0L354.4 361.4L357.4 360.7L360.4 360.0L363.4 359.2L366.4 358.3L369.4 357.6L372.4 356.9L375.4 356.4L378.4 355.9L381.4 355.4L384.4 355.0L387.4 354.7L390.4 354.6L393.4 354.6L396.4 354.7L399.4 354.8L402.4 354.9L405.4 355.0L408.4 355.4L411.4 355.9L414.4 356.5L417.4 357.2L420.4 357.8L423.4 358.3L426.4 358.8L429.4 359.3L432.4 359.8L435.4 360.2L438.4 360.6L441.4 361.0L444.4 361.3L447.4 361.6L450.4 361.9L453.4 362.1L456.4 362.3L459.4 362.4L462.4 362.4L465.4 362.3L468.4 362.2L471.4 362.1L474.4 361.9L477.4 361.8L480.4 361.6L483.4 361.3L486.4 361.0L489.4 360.5L492.4 359.9L495.4 359.3L498.4 358.7L501.4 358.1L504.4 357.6L507.4 357.2L510.4 356.9L513.4 356.5L516.4 356.1L519.4 355.9L522.4 355.7L525.4 355.6L528.4 355.7L531.4 355.9L534.4 356.1L537.4 356.4L540.4 356.8L543.4 357.1L546.4 357.4L549.4 357.7L552.4 358.0L555.4 358.4L558.4 358.8L561.4 359.1L564.4 359.4L567.4 359.6L570.4 359.8L573.4 359.9L576.4 360.0L579.4 360.1L582.4 360.2L585.4 360.3L588.4 360.3L591.4 360.4L594.4 360.4L597.4 360.5L600.4 360.5L603.4 360.5L606.4 360.5L609.4 360.5L612.4 360.4L615.4 360.3L618.4 360.3L621.4 360.2L624.4 360.1L627.4 360.0L630.4 359.9L633.4 359.9L636.4 359.8L639.4 359.7L642.4 359.7L645.4 359.6L648.4 359.6L651.4 359.6L654.4 359.5L656.4 359.5" stroke="#adadad" stroke-width="7.4"/>
<path d="M63.0 673.3L64.0 673.3L65.0 673.3L66.0 673.3L67.0 673.3L68.0 673.2L69.0 673.2L70.0 673.2L71.0 673.1L72.0 673.1L73.0 673.1L74.0 673.0L75.0 673.0L76.0 672.9L77.0 672.9L78.0 672.8L79.0 672.7L80.0 672.7L81.0 672.6L82.0 672.5L83.0 672.5L84.0 672.4L85.0 672.3L86.0 672.2L87.0 672.1L88.0 672.0L89.0 671.9L90.0 671.8L91.0 671.7L92.0 671.6L93.0 671.4L94.0 671.3L95.0 671.1L96.0 670.9L97.0 670.6L98.0 670.4L99.0 670.1L100.0 669.8L101.0 669.5L102.0 669.2L103.0 668.8L104.0 668.4L105.0 668.0L106.0 667.5L107.0 667.0L108.0 666.3L109.0 665.6L110.0 664.8L111.0 664.0L112.0 663.0L113.0 662.0L114.0 660.8L115.0 659.5L116.0 658.0L117.0 656.2L118.0 654.2L119.0 651.9L120.0 649.4L121.0 646.8L122.0 644.1L123.0 641.1L124.0 637.9L125.0 634.5L126.0 631.0L127.0 627.4L128.0 623.9L129.0 620.6L130.0 617.5L131.0 614.6L132.0 611.9L133.0 609.4L134.0 607.1L135.0 605.6L136.0 605.2L137.0 606.2L138.0 608.0L139.0 610.3L140.0 612.7L141.0 615.2L142.0 617.6L143.0 619.8L144.0 621.7L145.0 623.5L146.0 625.1L147.0 626.6L148.0 627.8L149.0 628.8L150.0 629.7L151.0 630.5L152.0 631.2L153.0 631.8L154.0 632.3L155.0 632.8L156.0 633.1L157.0 633.5L158.0 633.7L159.0 633.9L160.0 634.1L161.0 634.3L162.0 634.4L163.0 634.6L164.0 634.8L165.0 635.0L166.0 635.2L167.0 635.6L168.0 636.1L169.0 636.6L170.0 637.3L171.0 638.0L172.0 638.9L173.0 639.8L174.0 640.9L175.0 642.1L176.0 643.4L177.0 644.8L178.0 646.0L179.0 647.2L180.0 648.4L181.0 649.5L182.0 650.6L183.0 651.6L184.0 652.5L185.0 653.4L186.0 654.1L187.0 654.8L188.0 655.4L189.0 655.9L190.0 656.4L191.0 656.9L192.0 657.2L193.0 657.5L194.0 657.7L195.0 657.9L196.0 658.0L197.0 658.2L198.0 658.3L199.0 658.4L200.0 658.5L201.0 658.6L202.0 658.7L203.0 658.7L204.0 658.8L205.0 658.8L206.0 658.8L207.0 658.7L208.0 658.7L209.0 658.6L210.0 658.5L211.0 658.3L212.0 658.2L213.0 658.0L214.0 657.8L215.0 657.6L216.0 657.4L217.0 657.1L218.0 656.9L219.0 656.6L220.0 656.4L221.0 656.1L222.0 655.9L223.0 655.6L224.0 655.3L225.0 655.0L226.0 654.6L227.0 654.2L228.0 653.8L229.0 653.3L230.0 652.8L231.0 652.3L232.0 651.8L233.0 651.2L234.0 650.6L235.0 650.1L236.0 649.5L237.0 648.9L238.0 648.3L239.0 647.7L240.0 647.1L241.0 646.5L242.0 645.8L243.0 645.1L244.0 644.4L245.0 643.7L246.0 642.9L247.0 642.1L248.0 641.4L249.0 640.6L250.0 640.0L251.0 639.4L252.0 638.8L253.0 638.3L254.0 637.9L255.0 637.5L256.0 637.1L257.0 636.7L258.0 636.4L259.0 636.1L260.0 635.8L261.0 635.5L262.0 635.4L263.0 635.2L264.0 635.2L265.0 635.2L266.0 635.2L267.0 635.3L268.0 635.5L269.0 635.7L270.0 635.9L271.0 636.2L272.0 636.5L273.0 636.8L274.0 637.1L275.0 637.4L276.0 637.8L277.0 638.1L278.0 638.4L279.0 638.7L280.0 639.0L281.0 639.3L282.0 639.7L283.0 640.1L284.0 640.4L285.0 640.8L286.0 641.2L287.0 641.6L288.0 642.0L289.0 642.4L290.0 642.8L291.0 643.2L292.0 643.6L293.0 644.0L294.0 644.4L295.0 644.8L296.0 645.1L297.0 645.4L298.0 645.7L299.0 646.0L300.0 646.2L303.0 647.0L306.0 647.8L309.0 648.5L312.0 649.1L315.0 649.5L318.0 649.8L321.0 649.9L324.0 650.0L327.0 650.1L330.0 650.1L333.0 650.0L336.0 649.8L339.0 649.3L342.0 648.7L345.0 648.0L348.0 647.4L351.0 646.8L354.0 646.1L357.0 645.4L360.0 644.7L363.0 644.0L366.0 643.4L369.0 642.8L372.0 642.4L375.0 642.0L378.0 641.6L381.0 641.3L384.0 641.1L387.0 641.0L390.0 641.0L393.0 641.0L396.0 641.0L399.0 641.0L402.0 641.1L405.0 641.4L408.0 641.9L411.0 642.4L414.0 642.9L417.0 643.3L420.0 643.8L423.0 644.3L426.0 644.7L429.0 645.2L432.0 645.5L435.0 645.8L438.0 646.1L441.0 646.3L444.0 646.5L447.0 646.7L450.0 646.9L453.0 647.0L456.0 647.1L459.0 647.2L462.0 647.2L465.0 647.1L468.0 647.0L471.0 646.9L474.0 646.7L477.0 646.5L480.0 646.1L483.0 645.7L486.0 645.3L489.0 644.8L492.0 644.4L495.0 644.0L498.0 643.7L501.0 643.4L504.0 643.1L507.0 642.9L510.0 642.6L513.0 642.4L516.0 642.3L519.0 642.3L522.0 642.3L525.0 642.4L528.0 642.5L531.0 642.6L534.0 642.7L537.0 642.9L540.0 643.0L543.0 643.1L546.0 643.3L549.0 643.5L552.0 643.7L555.0 644.0L558.0 644.3L561.0 644.5L564.0 644.7L567.0 644.8L570.0 644.9L573.0 644.9L576.0 644.9L579.0 644.9L582.0 644.9L585.0 644.9L588.0 644.9L591.0 644.9L594.0 644.9L597.0 644.9L600.0 644.9L603.0 644.9L606.0 644.9L609.0 644.9L612.0 644.9L615.0 644.9L618.0 644.9L621.0 644.9L624.0 644.9L627.0 644.9L630.0 644.9L633.0 644.9L636.0 644.9L639.0 644.9L642.0 644.9L645.0 644.9L648.0 644.9L651.0 644.9L654.0 644.9L656.0 644.9" stroke="#0c0cdc" stroke-width="2.7"/>
<path d="M63.0 632.2L64.0 632.2L65.0 632.2L66.0 632.1L67.0 632.1L68.0 632.1L69.0 632.1L70.0 632.1L71.0 632.0L72.0 632.0L73.0 632.0L74.0 631.9L75.0 631.9L76.0 631.8L77.0 631.8L78.0 631.7L79.0 631.7L80.0 631.6L81.0 631.5L82.0 631.5L83.0 631.4L84.0 631.3L85.0 631.3L86.0 631.2L87.0 631.1L88.0 631.0L89.0 630.9L90.0 630.8L91.0 630.7L92.0 630.6L93.0 630.5L94.0 630.3L95.0 630.1L96.0 629.9L97.0 629.7L98.0 629.5L99.0 629.3L100.0 629.0L101.0 628.7L102.0 628.4L103.0 628.1L104.0 627.7L105.0 627.3L106.0 626.9L107.0 626.4L108.0 625.8L109.0 625.1L110.0 624.4L111.0 623.6L112.0 622.7L113.0 621.7L114.0 620.6L115.0 619.3L116.0 617.9L117.0 616.2L118.0 614.2L119.0 611.9L120.0 609.5L121.0 606.9L122.0 604.2L123.0 601.3L124.0 598.1L125.0 594.7L126.0 591.0L127.0 587.4L128.0 583.7L129.0 580.2L130.0 576.9L131.0 573.8L132.0 570.9L133.0 568.1L134.0 565.6L135.0 563.6L136.0 562.8L137.0 563.4L138.0 565.0L139.0 567.2L140.0 569.7L141.0 572.2L142.0 574.8L143.0 577.1L144.0 579.2L145.0 581.2L146.0 583.0L147.0 584.6L148.0 586.0L149.0 587.2L150.0 588.3L151.0 589.1L152.0 589.9L153.0 590.6L154.0 591.2L155.0 591.7L156.0 592.2L157.0 592.5L158.0 592.8L159.0 593.1L160.0 593.3L161.0 593.4L162.0 593.6L163.0 593.8L164.0 594.0L165.0 594.2L166.0 594.4L167.0 594.8L168.0 595.2L169.0 595.7L170.0 596.3L171.0 597.0L172.0 597.8L173.0 598.6L174.0 599.7L175.0 600.9L176.0 602.2L177.0 603.5L178.0 604.8L179.0 606.0L180.0 607.2L181.0 608.4L182.0 609.5L183.0 610.6L184.0 611.6L185.0 612.5L186.0 613.2L187.0 613.9L188.0 614.5L189.0 615.1L190.0 615.6L191.0 616.0L192.0 616.4L193.0 616.7L194.0 616.9L195.0 617.1L196.0 617.2L197.0 617.4L198.0 617.5L199.0 617.6L200.0 617.7L201.0 617.8L202.0 617.9L203.0 618.0L204.0 618.0L205.0 618.0L206.0 618.0L207.0 618.0L208.0 617.9L209.0 617.9L210.0 617.8L211.0 617.6L212.0 617.5L213.0 617.3L214.0 617.1L215.0 616.9L216.0 616.7L217.0 616.5L218.0 616.3L219.0 616.0L220.0 615.8L221.0 615.5L222.0 615.3L223.0 615.0L224.0 614.7L225.0 614.4L226.0 614.0L227.0 613.6L228.0 613.2L229.0 612.8L230.0 612.3L231.0 611.8L232.0 611.2L233.0 610.7L234.0 610.1L235.0 609.5L236.0 608.9L237.0 608.4L238.0 607.7L239.0 607.1L240.0 606.5L241.0 605.9L242.0 605.2L243.0 604.5L244.0 603.7L245.0 602.9L246.0 602.1L247.0 601.3L248.0 600.5L249.0 599.8L250.0 599.1L251.0 598.4L252.0 597.9L253.0 597.4L254.0 596.9L255.0 596.5L256.0 596.1L257.0 595.7L258.0 595.3L259.0 595.0L260.0 594.7L261.0 594.4L262.0 594.2L263.0 594.1L264.0 594.0L265.0 594.0L266.0 594.0L267.0 594.1L268.0 594.2L269.0 594.4L270.0 594.6L271.0 594.9L272.0 595.2L273.0 595.5L274.0 595.8L275.0 596.1L276.0 596.5L277.0 596.8L278.0 597.1L279.0 597.4L280.0 597.8L281.0 598.1L282.0 598.4L283.0 598.8L284.0 599.2L285.0 599.6L286.0 600.0L287.0 600.4L288.0 600.8L289.0 601.2L290.0 601.6L291.0 602.0L292.0 602.5L293.0 602.8L294.0 603.2L295.0 603.6L296.0 603.9L297.0 604.3L298.0 604.6L299.0 604.9L300.0 605.1L303.0 605.9L306.0 606.7L309.0 607.4L312.0 608.1L315.0 608.5L318.0 608.8L321.0 609.0L324.0 609.1L327.0 609.1L330.0 609.2L333.0 609.1L336.0 608.9L339.0 608.5L342.0 607.9L345.0 607.3L348.0 606.6L351.0 606.0L354.0 605.4L357.0 604.7L360.0 603.9L363.0 603.2L366.0 602.5L369.0 601.9L372.0 601.5L375.0 601.1L378.0 600.7L381.0 600.3L384.0 600.1L387.0 600.0L390.0 600.0L393.0 600.0L396.0 600.0L399.0 600.0L402.0 600.1L405.0 600.4L408.0 600.8L411.0 601.4L414.0 601.9L417.0 602.4L420.0 602.8L423.0 603.3L426.0 603.8L429.0 604.2L432.0 604.6L435.0 605.0L438.0 605.2L441.0 605.5L444.0 605.7L447.0 605.9L450.0 606.1L453.0 606.3L456.0 606.4L459.0 606.4L462.0 606.4L465.0 606.3L468.0 606.2L471.0 606.1L474.0 605.9L477.0 605.7L480.0 605.4L483.0 605.0L486.0 604.5L489.0 604.1L492.0 603.6L495.0 603.2L498.0 602.8L501.0 602.5L504.0 602.2L507.0 601.9L510.0 601.7L513.0 601.5L516.0 601.3L519.0 601.3L522.0 601.3L525.0 601.3L528.0 601.4L531.0 601.6L534.0 601.7L537.0 601.9L540.0 602.0L543.0 602.2L546.0 602.3L549.0 602.6L552.0 602.8L555.0 603.1L558.0 603.4L561.0 603.6L564.0 603.8L567.0 604.0L570.0 604.1L573.0 604.1L576.0 604.1L579.0 604.1L582.0 604.1L585.0 604.1L588.0 604.1L591.0 604.2L594.0 604.2L597.0 604.2L600.0 604.2L603.0 604.2L606.0 604.2L609.0 604.2L612.0 604.2L615.0 604.1L618.0 604.1L621.0 604.1L624.0 604.1L627.0 604.1L630.0 604.1L633.0 604.1L636.0 604.1L639.0 604.1L642.0 604.1L645.0 604.0L648.0 604.0L651.0 604.0L654.0 604.0L656.0 604.0" stroke="#0c0cdc" stroke-width="2.7"/>
<path d="M63.0 591.0L64.0 591.0L65.0 591.0L66.0 591.0L67.0 591.0L68.0 591.0L69.0 591.0L70.0 590.9L71.0 590.9L72.0 590.9L73.0 590.8L74.0 590.8L75.0 590.8L76.0 590.7L77.0 590.7L78.0 590.6L79.0 590.6L80.0 590.5L81.0 590.5L82.0 590.4L83.0 590.3L84.0 590.3L85.0 590.2L86.0 590.1L87.0 590.1L88.0 590.0L89.0 589.9L90.0 589.8L91.0 589.7L92.0 589.6L93.0 589.5L94.0 589.4L95.0 589.2L96.0 589.0L97.0 588.8L98.0 588.6L99.0 588.4L100.0 588.2L101.0 587.9L102.0 587.6L103.0 587.3L104.0 587.0L105.0 586.7L106.0 586.3L107.0 585.8L108.0 585.3L109.0 584.7L110.0 583.9L111.0 583.2L112.0 582.3L113.0 581.3L114.0 580.3L115.0 579.1L116.0 577.7L117.0 576.1L118.0 574.1L119.0 572.0L120.0 569.6L121.0 567.0L122.0 564.3L123.0 561.4L124.0 558.2L125.0 554.8L126.0 551.2L127.0 547.4L128.0 543.6L129.0 540.0L130.0 536.5L131.0 533.2L132.0 530.0L133.0 526.9L134.0 524.2L135.0 521.9L136.0 520.6L137.0 520.7L138.0 522.1L139.0 524.2L140.0 526.7L141.0 529.3L142.0 531.9L143.0 534.3L144.0 536.6L145.0 538.8L146.0 540.7L147.0 542.5L148.0 544.1L149.0 545.5L150.0 546.7L151.0 547.7L152.0 548.6L153.0 549.4L154.0 550.1L155.0 550.7L156.0 551.2L157.0 551.6L158.0 551.9L159.0 552.2L160.0 552.4L161.0 552.6L162.0 552.8L163.0 553.0L164.0 553.2L165.0 553.4L166.0 553.6L167.0 553.9L168.0 554.3L169.0 554.8L170.0 555.3L171.0 556.0L172.0 556.7L173.0 557.5L174.0 558.5L175.0 559.6L176.0 560.9L177.0 562.2L178.0 563.5L179.0 564.8L180.0 566.0L181.0 567.2L182.0 568.4L183.0 569.5L184.0 570.6L185.0 571.5L186.0 572.3L187.0 573.0L188.0 573.7L189.0 574.2L190.0 574.7L191.0 575.2L192.0 575.5L193.0 575.9L194.0 576.1L195.0 576.3L196.0 576.4L197.0 576.6L198.0 576.7L199.0 576.8L200.0 576.9L201.0 577.0L202.0 577.1L203.0 577.2L204.0 577.2L205.0 577.3L206.0 577.3L207.0 577.2L208.0 577.2L209.0 577.1L210.0 577.1L211.0 576.9L212.0 576.8L213.0 576.6L214.0 576.5L215.0 576.3L216.0 576.1L217.0 575.9L218.0 575.6L219.0 575.4L220.0 575.2L221.0 574.9L222.0 574.6L223.0 574.4L224.0 574.1L225.0 573.8L226.0 573.5L227.0 573.1L228.0 572.7L229.0 572.2L230.0 571.8L231.0 571.2L232.0 570.7L233.0 570.2L234.0 569.6L235.0 569.0L236.0 568.4L237.0 567.8L238.0 567.2L239.0 566.6L240.0 565.9L241.0 565.3L242.0 564.6L243.0 563.9L244.0 563.1L245.0 562.2L246.0 561.4L247.0 560.5L248.0 559.7L249.0 558.9L250.0 558.1L251.0 557.5L252.0 556.9L253.0 556.4L254.0 555.9L255.0 555.5L256.0 555.1L257.0 554.7L258.0 554.3L259.0 553.9L260.0 553.6L261.0 553.4L262.0 553.1L263.0 552.9L264.0 552.8L265.0 552.8L266.0 552.8L267.0 552.8L268.0 553.0L269.0 553.1L270.0 553.3L271.0 553.6L272.0 553.9L273.0 554.2L274.0 554.5L275.0 554.8L276.0 555.2L277.0 555.5L278.0 555.9L279.0 556.2L280.0 556.5L281.0 556.8L282.0 557.2L283.0 557.5L284.0 557.9L285.0 558.3L286.0 558.7L287.0 559.1L288.0 559.6L289.0 560.0L290.0 560.4L291.0 560.8L292.0 561.3L293.0 561.7L294.0 562.1L295.0 562.4L296.0 562.8L297.0 563.1L298.0 563.5L299.0 563.8L300.0 564.1L303.0 564.9L306.0 565.7L309.0 566.4L312.0 567.0L315.0 567.5L318.0 567.9L321.0 568.0L324.0 568.1L327.0 568.2L330.0 568.3L333.0 568.2L336.0 568.0L339.0 567.7L342.0 567.1L345.0 566.5L348.0 565.8L351.0 565.2L354.0 564.6L357.0 563.9L360.0 563.1L363.0 562.4L366.0 561.7L369.0 561.1L372.0 560.6L375.0 560.2L378.0 559.7L381.0 559.4L384.0 559.1L387.0 559.0L390.0 559.0L393.0 559.0L396.0 559.0L399.0 559.0L402.0 559.1L405.0 559.4L408.0 559.8L411.0 560.4L414.0 560.9L417.0 561.4L420.0 561.9L423.0 562.4L426.0 562.8L429.0 563.3L432.0 563.7L435.0 564.1L438.0 564.4L441.0 564.6L444.0 564.9L447.0 565.1L450.0 565.3L453.0 565.5L456.0 565.6L459.0 565.6L462.0 565.6L465.0 565.5L468.0 565.4L471.0 565.3L474.0 565.1L477.0 564.9L480.0 564.6L483.0 564.3L486.0 563.8L489.0 563.3L492.0 562.8L495.0 562.3L498.0 561.9L501.0 561.6L504.0 561.3L507.0 561.0L510.0 560.7L513.0 560.5L516.0 560.3L519.0 560.2L522.0 560.2L525.0 560.3L528.0 560.4L531.0 560.5L534.0 560.7L537.0 560.8L540.0 561.0L543.0 561.2L546.0 561.4L549.0 561.6L552.0 561.9L555.0 562.2L558.0 562.5L561.0 562.7L564.0 563.0L567.0 563.1L570.0 563.2L573.0 563.3L576.0 563.3L579.0 563.3L582.0 563.4L585.0 563.4L588.0 563.4L591.0 563.4L594.0 563.4L597.0 563.4L600.0 563.4L603.0 563.4L606.0 563.4L609.0 563.4L612.0 563.4L615.0 563.4L618.0 563.4L621.0 563.3L624.0 563.3L627.0 563.3L630.0 563.3L633.0 563.3L636.0 563.2L639.0 563.2L642.0 563.2L645.0 563.2L648.0 563.2L651.0 563.2L654.0 563.2L656.0 563.2" stroke="#0c0cdc" stroke-width="2.7"/>
<path d="M63.0 549.9L64.0 549.9L65.0 549.9L66.0 549.9L67.0 549.9L68.0 549.9L69.0 549.8L70.0 549.8L71.0 549.8L72.0 549.8L73.0 549.7L74.0 549.7L75.0 549.7L76.0 549.6L77.0 549.6L78.0 549.5L79.0 549.5L80.0 549.4L81.0 549.4L82.0 549.3L83.0 549.3L84.0 549.2L85.0 549.2L86.0 549.1L87.0 549.0L88.0 549.0L89.0 548.9L90.0 548.8L91.0 548.7L92.0 548.6L93.0 548.5L94.0 548.4L95.0 548.3L96.0 548.1L97.0 547.9L98.0 547.7L99.0 547.5L100.0 547.3L101.0 547.1L102.0 546.8L103.0 546.6L104.0 546.3L105.0 546.0L106.0 545.6L107.0 545.2L108.0 544.7L109.0 544.1L110.0 543.5L111.0 542.7L112.0 541.9L113.0 541.0L114.0 540.0L115.0 538.9L116.0 537.5L117.0 536.0L118.0 534.1L119.0 532.0L120.0 529.6L121.0 527.1L122.0 524.4L123.0 521.5L124.0 518.4L125.0 515.0L126.0 511.3L127.0 507.4L128.0 503.6L129.0 499.8L130.0 496.1L131.0 492.6L132.0 489.2L133.0 485.9L134.0 482.9L135.0 480.2L136.0 478.5L137.0 478.1L138.0 479.2L139.0 481.2L140.0 483.6L141.0 486.2L142.0 488.9L143.0 491.5L144.0 493.9L145.0 496.2L146.0 498.3L147.0 500.3L148.0 502.1L149.0 503.7L150.0 505.1L151.0 506.2L152.0 507.2L153.0 508.1L154.0 508.9L155.0 509.6L156.0 510.1L157.0 510.6L158.0 511.0L159.0 511.3L160.0 511.6L161.0 511.8L162.0 512.0L163.0 512.2L164.0 512.4L165.0 512.6L166.0 512.8L167.0 513.1L168.0 513.5L169.0 513.9L170.0 514.4L171.0 515.0L172.0 515.6L173.0 516.4L174.0 517.3L175.0 518.4L176.0 519.6L177.0 520.9L178.0 522.2L179.0 523.5L180.0 524.8L181.0 526.0L182.0 527.3L183.0 528.5L184.0 529.6L185.0 530.6L186.0 531.4L187.0 532.2L188.0 532.8L189.0 533.4L190.0 533.9L191.0 534.3L192.0 534.7L193.0 535.0L194.0 535.3L195.0 535.5L196.0 535.7L197.0 535.8L198.0 535.9L199.0 536.1L200.0 536.2L201.0 536.3L202.0 536.3L203.0 536.4L204.0 536.5L205.0 536.5L206.0 536.5L207.0 536.5L208.0 536.5L209.0 536.4L210.0 536.3L211.0 536.2L212.0 536.1L213.0 536.0L214.0 535.8L215.0 535.6L216.0 535.4L217.0 535.2L218.0 535.0L219.0 534.8L220.0 534.5L221.0 534.3L222.0 534.0L223.0 533.8L224.0 533.5L225.0 533.2L226.0 532.9L227.0 532.5L228.0 532.1L229.0 531.7L230.0 531.2L231.0 530.7L232.0 530.2L233.0 529.6L234.0 529.1L235.0 528.5L236.0 527.9L237.0 527.3L238.0 526.6L239.0 526.0L240.0 525.4L241.0 524.7L242.0 524.0L243.0 523.2L244.0 522.4L245.0 521.5L246.0 520.6L247.0 519.7L248.0 518.9L249.0 518.0L250.0 517.2L251.0 516.5L252.0 515.9L253.0 515.4L254.0 514.9L255.0 514.5L256.0 514.1L257.0 513.6L258.0 513.3L259.0 512.9L260.0 512.6L261.0 512.3L262.0 512.0L263.0 511.8L264.0 511.7L265.0 511.6L266.0 511.6L267.0 511.6L268.0 511.7L269.0 511.8L270.0 512.0L271.0 512.3L272.0 512.6L273.0 512.9L274.0 513.2L275.0 513.5L276.0 513.9L277.0 514.2L278.0 514.6L279.0 514.9L280.0 515.2L281.0 515.6L282.0 515.9L283.0 516.3L284.0 516.7L285.0 517.1L286.0 517.5L287.0 517.9L288.0 518.3L289.0 518.8L290.0 519.2L291.0 519.6L292.0 520.0L293.0 520.5L294.0 520.9L295.0 521.3L296.0 521.6L297.0 522.0L298.0 522.3L299.0 522.7L300.0 523.0L303.0 523.8L306.0 524.6L309.0 525.3L312.0 526.0L315.0 526.5L318.0 526.9L321.0 527.1L324.0 527.2L327.0 527.3L330.0 527.3L333.0 527.3L336.0 527.2L339.0 526.8L342.0 526.3L345.0 525.7L348.0 525.0L351.0 524.4L354.0 523.8L357.0 523.1L360.0 522.4L363.0 521.6L366.0 520.9L369.0 520.2L372.0 519.7L375.0 519.2L378.0 518.8L381.0 518.4L384.0 518.1L387.0 518.0L390.0 518.0L393.0 518.0L396.0 518.0L399.0 518.1L402.0 518.1L405.0 518.4L408.0 518.8L411.0 519.3L414.0 519.9L417.0 520.5L420.0 520.9L423.0 521.4L426.0 521.9L429.0 522.4L432.0 522.8L435.0 523.2L438.0 523.5L441.0 523.8L444.0 524.0L447.0 524.3L450.0 524.5L453.0 524.6L456.0 524.8L459.0 524.8L462.0 524.8L465.0 524.8L468.0 524.7L471.0 524.5L474.0 524.3L477.0 524.2L480.0 523.9L483.0 523.5L486.0 523.1L489.0 522.6L492.0 522.1L495.0 521.6L498.0 521.1L501.0 520.7L504.0 520.4L507.0 520.1L510.0 519.8L513.0 519.5L516.0 519.3L519.0 519.2L522.0 519.1L525.0 519.2L528.0 519.3L531.0 519.5L534.0 519.6L537.0 519.8L540.0 520.0L543.0 520.2L546.0 520.5L549.0 520.7L552.0 521.0L555.0 521.3L558.0 521.6L561.0 521.9L564.0 522.1L567.0 522.3L570.0 522.4L573.0 522.5L576.0 522.5L579.0 522.5L582.0 522.6L585.0 522.6L588.0 522.6L591.0 522.7L594.0 522.7L597.0 522.7L600.0 522.7L603.0 522.7L606.0 522.7L609.0 522.7L612.0 522.7L615.0 522.6L618.0 522.6L621.0 522.6L624.0 522.5L627.0 522.5L630.0 522.5L633.0 522.4L636.0 522.4L639.0 522.4L642.0 522.4L645.0 522.3L648.0 522.3L651.0 522.3L654.0 522.3L656.0 522.3" stroke="#0c0cdc" stroke-width="2.7"/>
<path d="M63.0 508.8L64.0 508.8L65.0 508.8L66.0 508.8L67.0 508.8L68.0 508.7L69.0 508.7L70.0 508.7L71.0 508.7L72.0 508.7L73.0 508.6L74.0 508.6L75.0 508.6L76.0 508.5L77.0 508.5L78.0 508.5L79.0 508.4L80.0 508.4L81.0 508.3L82.0 508.3L83.0 508.2L84.0 508.2L85.0 508.1L86.0 508.1L87.0 508.0L88.0 507.9L89.0 507.9L90.0 507.8L91.0 507.7L92.0 507.6L93.0 507.5L94.0 507.4L95.0 507.3L96.0 507.2L97.0 507.0L98.0 506.8L99.0 506.7L100.0 506.5L101.0 506.2L102.0 506.0L103.0 505.8L104.0 505.5L105.0 505.2L106.0 504.9L107.0 504.6L108.0 504.1L109.0 503.6L110.0 503.0L111.0 502.3L112.0 501.5L113.0 500.6L114.0 499.7L115.0 498.6L116.0 497.4L117.0 495.9L118.0 494.1L119.0 492.0L120.0 489.7L121.0 487.2L122.0 484.5L123.0 481.6L124.0 478.5L125.0 475.1L126.0 471.4L127.0 467.5L128.0 463.6L129.0 459.6L130.0 455.8L131.0 452.1L132.0 448.4L133.0 445.0L134.0 441.7L135.0 438.8L136.0 436.6L137.0 435.7L138.0 436.4L139.0 438.2L140.0 440.6L141.0 443.2L142.0 445.9L143.0 448.6L144.0 451.2L145.0 453.6L146.0 455.9L147.0 458.0L148.0 460.0L149.0 461.8L150.0 463.3L151.0 464.6L152.0 465.7L153.0 466.7L154.0 467.6L155.0 468.4L156.0 469.1L157.0 469.6L158.0 470.1L159.0 470.4L160.0 470.7L161.0 471.0L162.0 471.2L163.0 471.4L164.0 471.6L165.0 471.8L166.0 472.0L167.0 472.3L168.0 472.6L169.0 473.0L170.0 473.5L171.0 474.0L172.0 474.6L173.0 475.3L174.0 476.1L175.0 477.1L176.0 478.3L177.0 479.6L178.0 481.0L179.0 482.3L180.0 483.6L181.0 484.8L182.0 486.1L183.0 487.4L184.0 488.6L185.0 489.6L186.0 490.5L187.0 491.3L188.0 491.9L189.0 492.5L190.0 493.0L191.0 493.5L192.0 493.9L193.0 494.2L194.0 494.5L195.0 494.7L196.0 494.9L197.0 495.0L198.0 495.1L199.0 495.3L200.0 495.4L201.0 495.5L202.0 495.6L203.0 495.6L204.0 495.7L205.0 495.7L206.0 495.7L207.0 495.8L208.0 495.7L209.0 495.7L210.0 495.6L211.0 495.5L212.0 495.4L213.0 495.3L214.0 495.1L215.0 495.0L216.0 494.8L217.0 494.6L218.0 494.4L219.0 494.1L220.0 493.9L221.0 493.7L222.0 493.4L223.0 493.2L224.0 492.9L225.0 492.6L226.0 492.3L227.0 492.0L228.0 491.6L229.0 491.2L230.0 490.7L231.0 490.2L232.0 489.7L233.0 489.1L234.0 488.5L235.0 488.0L236.0 487.3L237.0 486.7L238.0 486.1L239.0 485.4L240.0 484.8L241.0 484.1L242.0 483.4L243.0 482.6L244.0 481.7L245.0 480.8L246.0 479.9L247.0 478.9L248.0 478.0L249.0 477.1L250.0 476.3L251.0 475.6L252.0 475.0L253.0 474.4L254.0 473.9L255.0 473.5L256.0 473.0L257.0 472.6L258.0 472.2L259.0 471.8L260.0 471.5L261.0 471.2L262.0 470.9L263.0 470.7L264.0 470.5L265.0 470.4L266.0 470.4L267.0 470.4L268.0 470.4L269.0 470.6L270.0 470.8L271.0 471.0L272.0 471.2L273.0 471.5L274.0 471.9L275.0 472.2L276.0 472.6L277.0 472.9L278.0 473.3L279.0 473.6L280.0 474.0L281.0 474.3L282.0 474.7L283.0 475.0L284.0 475.4L285.0 475.8L286.0 476.2L287.0 476.6L288.0 477.1L289.0 477.5L290.0 477.9L291.0 478.4L292.0 478.8L293.0 479.3L294.0 479.7L295.0 480.1L296.0 480.5L297.0 480.9L298.0 481.2L299.0 481.5L300.0 481.8L303.0 482.7L306.0 483.5L309.0 484.3L312.0 485.0L315.0 485.5L318.0 485.9L321.0 486.1L324.0 486.2L327.0 486.3L330.0 486.4L333.0 486.4L336.0 486.3L339.0 486.0L342.0 485.5L345.0 484.9L348.0 484.3L351.0 483.6L354.0 483.0L357.0 482.3L360.0 481.6L363.0 480.8L366.0 480.0L369.0 479.4L372.0 478.8L375.0 478.3L378.0 477.9L381.0 477.5L384.0 477.2L387.0 477.0L390.0 476.9L393.0 477.0L396.0 477.0L399.0 477.1L402.0 477.1L405.0 477.4L408.0 477.8L411.0 478.3L414.0 478.9L417.0 479.5L420.0 480.0L423.0 480.5L426.0 480.9L429.0 481.4L432.0 481.9L435.0 482.3L438.0 482.6L441.0 482.9L444.0 483.2L447.0 483.4L450.0 483.7L453.0 483.8L456.0 484.0L459.0 484.0L462.0 484.0L465.0 484.0L468.0 483.9L471.0 483.7L474.0 483.6L477.0 483.4L480.0 483.2L483.0 482.8L486.0 482.4L489.0 481.9L492.0 481.3L495.0 480.8L498.0 480.3L501.0 479.9L504.0 479.5L507.0 479.2L510.0 478.9L513.0 478.6L516.0 478.3L519.0 478.1L522.0 478.1L525.0 478.1L528.0 478.2L531.0 478.4L534.0 478.6L537.0 478.8L540.0 479.1L543.0 479.3L546.0 479.5L549.0 479.8L552.0 480.1L555.0 480.4L558.0 480.7L561.0 481.0L564.0 481.3L567.0 481.5L570.0 481.6L573.0 481.6L576.0 481.7L579.0 481.8L582.0 481.8L585.0 481.9L588.0 481.9L591.0 481.9L594.0 482.0L597.0 482.0L600.0 482.0L603.0 482.0L606.0 482.0L609.0 482.0L612.0 481.9L615.0 481.9L618.0 481.8L621.0 481.8L624.0 481.7L627.0 481.7L630.0 481.7L633.0 481.6L636.0 481.6L639.0 481.6L642.0 481.5L645.0 481.5L648.0 481.5L651.0 481.4L654.0 481.4L656.0 481.4" stroke="#0c0cdc" stroke-width="2.7"/>
<path d="M63.0 467.7L64.0 467.7L65.0 467.6L66.0 467.6L67.0 467.6L68.0 467.6L69.0 467.6L70.0 467.6L71.0 467.6L72.0 467.5L73.0 467.5L74.0 467.5L75.0 467.5L76.0 467.4L77.0 467.4L78.0 467.4L79.0 467.3L80.0 467.3L81.0 467.2L82.0 467.2L83.0 467.2L84.0 467.1L85.0 467.1L86.0 467.0L87.0 467.0L88.0 466.9L89.0 466.9L90.0 466.8L91.0 466.7L92.0 466.7L93.0 466.6L94.0 466.5L95.0 466.4L96.0 466.2L97.0 466.1L98.0 465.9L99.0 465.8L100.0 465.6L101.0 465.4L102.0 465.2L103.0 465.0L104.0 464.7L105.0 464.5L106.0 464.2L107.0 463.9L108.0 463.5L109.0 463.0L110.0 462.5L111.0 461.8L112.0 461.1L113.0 460.2L114.0 459.3L115.0 458.3L116.0 457.1L117.0 455.7L118.0 454.0L119.0 452.0L120.0 449.7L121.0 447.3L122.0 444.6L123.0 441.8L124.0 438.7L125.0 435.3L126.0 431.6L127.0 427.7L128.0 423.6L129.0 419.5L130.0 415.5L131.0 411.6L132.0 407.8L133.0 404.1L134.0 400.6L135.0 397.4L136.0 394.9L137.0 393.5L138.0 393.6L139.0 395.2L140.0 397.5L141.0 400.1L142.0 402.8L143.0 405.6L144.0 408.3L145.0 410.8L146.0 413.3L147.0 415.6L148.0 417.7L149.0 419.7L150.0 421.4L151.0 422.9L152.0 424.2L153.0 425.3L154.0 426.3L155.0 427.1L156.0 427.9L157.0 428.6L158.0 429.1L159.0 429.5L160.0 429.8L161.0 430.1L162.0 430.4L163.0 430.6L164.0 430.8L165.0 431.0L166.0 431.2L167.0 431.5L168.0 431.8L169.0 432.2L170.0 432.6L171.0 433.0L172.0 433.6L173.0 434.2L174.0 435.0L175.0 435.9L176.0 437.0L177.0 438.3L178.0 439.7L179.0 441.0L180.0 442.3L181.0 443.6L182.0 445.0L183.0 446.3L184.0 447.5L185.0 448.7L186.0 449.6L187.0 450.4L188.0 451.1L189.0 451.7L190.0 452.2L191.0 452.6L192.0 453.1L193.0 453.4L194.0 453.7L195.0 453.9L196.0 454.1L197.0 454.2L198.0 454.4L199.0 454.5L200.0 454.6L201.0 454.7L202.0 454.8L203.0 454.9L204.0 454.9L205.0 455.0L206.0 455.0L207.0 455.0L208.0 455.0L209.0 455.0L210.0 454.9L211.0 454.8L212.0 454.7L213.0 454.6L214.0 454.4L215.0 454.3L216.0 454.1L217.0 453.9L218.0 453.7L219.0 453.5L220.0 453.3L221.0 453.0L222.0 452.8L223.0 452.6L224.0 452.3L225.0 452.0L226.0 451.7L227.0 451.4L228.0 451.0L229.0 450.6L230.0 450.2L231.0 449.7L232.0 449.1L233.0 448.6L234.0 448.0L235.0 447.4L236.0 446.8L237.0 446.2L238.0 445.5L239.0 444.9L240.0 444.2L241.0 443.5L242.0 442.8L243.0 441.9L244.0 441.0L245.0 440.1L246.0 439.1L247.0 438.1L248.0 437.2L249.0 436.3L250.0 435.4L251.0 434.7L252.0 434.0L253.0 433.4L254.0 432.9L255.0 432.5L256.0 432.0L257.0 431.6L258.0 431.2L259.0 430.8L260.0 430.4L261.0 430.1L262.0 429.8L263.0 429.6L264.0 429.4L265.0 429.3L266.0 429.2L267.0 429.2L268.0 429.2L269.0 429.3L270.0 429.5L271.0 429.7L272.0 429.9L273.0 430.2L274.0 430.5L275.0 430.9L276.0 431.2L277.0 431.6L278.0 432.0L279.0 432.3L280.0 432.7L281.0 433.1L282.0 433.4L283.0 433.8L284.0 434.1L285.0 434.5L286.0 434.9L287.0 435.4L288.0 435.8L289.0 436.3L290.0 436.7L291.0 437.2L292.0 437.6L293.0 438.0L294.0 438.5L295.0 438.9L296.0 439.3L297.0 439.7L298.0 440.1L299.0 440.4L300.0 440.7L303.0 441.6L306.0 442.4L309.0 443.2L312.0 443.9L315.0 444.5L318.0 444.9L321.0 445.2L324.0 445.3L327.0 445.4L330.0 445.5L333.0 445.5L336.0 445.4L339.0 445.1L342.0 444.7L345.0 444.1L348.0 443.5L351.0 442.9L354.0 442.3L357.0 441.6L360.0 440.8L363.0 440.0L366.0 439.2L369.0 438.5L372.0 437.9L375.0 437.4L378.0 437.0L381.0 436.5L384.0 436.2L387.0 436.0L390.0 435.9L393.0 436.0L396.0 436.0L399.0 436.1L402.0 436.2L405.0 436.4L408.0 436.8L411.0 437.3L414.0 437.9L417.0 438.5L420.0 439.0L423.0 439.5L426.0 440.0L429.0 440.5L432.0 440.9L435.0 441.4L438.0 441.7L441.0 442.0L444.0 442.3L447.0 442.6L450.0 442.8L453.0 443.0L456.0 443.2L459.0 443.3L462.0 443.3L465.0 443.2L468.0 443.1L471.0 443.0L474.0 442.8L477.0 442.6L480.0 442.4L483.0 442.1L486.0 441.7L489.0 441.2L492.0 440.6L495.0 440.0L498.0 439.5L501.0 439.0L504.0 438.7L507.0 438.3L510.0 437.9L513.0 437.6L516.0 437.3L519.0 437.1L522.0 437.0L525.0 437.0L528.0 437.2L531.0 437.3L534.0 437.5L537.0 437.8L540.0 438.1L543.0 438.3L546.0 438.6L549.0 438.8L552.0 439.2L555.0 439.5L558.0 439.8L561.0 440.1L564.0 440.4L567.0 440.6L570.0 440.7L573.0 440.8L576.0 440.9L579.0 441.0L582.0 441.0L585.0 441.1L588.0 441.1L591.0 441.2L594.0 441.2L597.0 441.2L600.0 441.3L603.0 441.3L606.0 441.2L609.0 441.2L612.0 441.2L615.0 441.1L618.0 441.1L621.0 441.0L624.0 441.0L627.0 440.9L630.0 440.8L633.0 440.8L636.0 440.8L639.0 440.7L642.0 440.7L645.0 440.6L648.0 440.6L651.0 440.6L654.0 440.6L656.0 440.5" stroke="#0c0cdc" stroke-width="2.7"/>
<path d="M63.0 426.5L64.0 426.5L65.0 426.5L66.0 426.5L67.0 426.5L68.0 426.5L69.0 426.5L70.0 426.5L71.0 426.5L72.0 426.4L73.0 426.4L74.0 426.4L75.0 426.4L76.0 426.3L77.0 426.3L78.0 426.3L79.0 426.2L80.0 426.2L81.0 426.2L82.0 426.1L83.0 426.1L84.0 426.1L85.0 426.0L86.0 426.0L87.0 425.9L88.0 425.9L89.0 425.8L90.0 425.8L91.0 425.7L92.0 425.7L93.0 425.6L94.0 425.5L95.0 425.4L96.0 425.3L97.0 425.2L98.0 425.0L99.0 424.9L100.0 424.7L101.0 424.5L102.0 424.4L103.0 424.2L104.0 423.9L105.0 423.7L106.0 423.5L107.0 423.2L108.0 422.8L109.0 422.4L110.0 421.9L111.0 421.3L112.0 420.6L113.0 419.8L114.0 419.0L115.0 418.0L116.0 416.9L117.0 415.6L118.0 413.9L119.0 412.0L120.0 409.8L121.0 407.3L122.0 404.7L123.0 401.9L124.0 398.8L125.0 395.5L126.0 391.8L127.0 387.8L128.0 383.7L129.0 379.5L130.0 375.4L131.0 371.3L132.0 367.3L133.0 363.4L134.0 359.7L135.0 356.2L136.0 353.3L137.0 351.4L138.0 351.1L139.0 352.2L140.0 354.4L141.0 357.0L142.0 359.7L143.0 362.5L144.0 365.3L145.0 368.0L146.0 370.6L147.0 373.0L148.0 375.3L149.0 377.5L150.0 379.5L151.0 381.1L152.0 382.6L153.0 383.8L154.0 384.9L155.0 385.9L156.0 386.7L157.0 387.4L158.0 388.1L159.0 388.6L160.0 388.9L161.0 389.3L162.0 389.5L163.0 389.8L164.0 390.0L165.0 390.2L166.0 390.4L167.0 390.7L168.0 391.0L169.0 391.3L170.0 391.7L171.0 392.1L172.0 392.6L173.0 393.1L174.0 393.8L175.0 394.7L176.0 395.8L177.0 397.0L178.0 398.4L179.0 399.7L180.0 401.1L181.0 402.4L182.0 403.8L183.0 405.1L184.0 406.5L185.0 407.7L186.0 408.7L187.0 409.5L188.0 410.2L189.0 410.8L190.0 411.3L191.0 411.8L192.0 412.2L193.0 412.6L194.0 412.9L195.0 413.1L196.0 413.3L197.0 413.5L198.0 413.6L199.0 413.7L200.0 413.8L201.0 413.9L202.0 414.0L203.0 414.1L204.0 414.1L205.0 414.2L206.0 414.2L207.0 414.2L208.0 414.2L209.0 414.2L210.0 414.2L211.0 414.1L212.0 414.0L213.0 413.9L214.0 413.8L215.0 413.6L216.0 413.4L217.0 413.3L218.0 413.1L219.0 412.9L220.0 412.6L221.0 412.4L222.0 412.2L223.0 411.9L224.0 411.7L225.0 411.4L226.0 411.1L227.0 410.8L228.0 410.5L229.0 410.1L230.0 409.6L231.0 409.1L232.0 408.6L233.0 408.1L234.0 407.5L235.0 406.9L236.0 406.3L237.0 405.6L238.0 405.0L239.0 404.3L240.0 403.6L241.0 402.9L242.0 402.1L243.0 401.3L244.0 400.3L245.0 399.4L246.0 398.4L247.0 397.3L248.0 396.3L249.0 395.4L250.0 394.5L251.0 393.7L252.0 393.0L253.0 392.4L254.0 391.9L255.0 391.5L256.0 391.0L257.0 390.6L258.0 390.1L259.0 389.7L260.0 389.4L261.0 389.0L262.0 388.7L263.0 388.5L264.0 388.3L265.0 388.1L266.0 388.0L267.0 388.0L268.0 388.0L269.0 388.1L270.0 388.2L271.0 388.4L272.0 388.6L273.0 388.9L274.0 389.2L275.0 389.6L276.0 389.9L277.0 390.3L278.0 390.7L279.0 391.0L280.0 391.4L281.0 391.8L282.0 392.1L283.0 392.5L284.0 392.9L285.0 393.3L286.0 393.7L287.0 394.1L288.0 394.5L289.0 395.0L290.0 395.4L291.0 395.9L292.0 396.4L293.0 396.8L294.0 397.3L295.0 397.7L296.0 398.1L297.0 398.5L298.0 398.9L299.0 399.3L300.0 399.6L303.0 400.5L306.0 401.3L309.0 402.2L312.0 402.9L315.0 403.5L318.0 403.9L321.0 404.2L324.0 404.4L327.0 404.5L330.0 404.6L333.0 404.6L336.0 404.5L339.0 404.3L342.0 403.9L345.0 403.3L348.0 402.7L351.0 402.1L354.0 401.5L357.0 400.8L360.0 400.0L363.0 399.2L366.0 398.4L369.0 397.7L372.0 397.1L375.0 396.6L378.0 396.1L381.0 395.6L384.0 395.2L387.0 395.0L390.0 394.9L393.0 394.9L396.0 395.0L399.0 395.1L402.0 395.2L405.0 395.4L408.0 395.7L411.0 396.3L414.0 396.9L417.0 397.5L420.0 398.0L423.0 398.5L426.0 399.0L429.0 399.5L432.0 400.0L435.0 400.5L438.0 400.8L441.0 401.2L444.0 401.5L447.0 401.7L450.0 402.0L453.0 402.2L456.0 402.4L459.0 402.5L462.0 402.5L465.0 402.4L468.0 402.3L471.0 402.2L474.0 402.0L477.0 401.8L480.0 401.6L483.0 401.4L486.0 401.0L489.0 400.5L492.0 399.9L495.0 399.3L498.0 398.7L501.0 398.2L504.0 397.8L507.0 397.4L510.0 397.0L513.0 396.7L516.0 396.4L519.0 396.1L522.0 396.0L525.0 396.0L528.0 396.1L531.0 396.3L534.0 396.5L537.0 396.8L540.0 397.1L543.0 397.3L546.0 397.6L549.0 397.9L552.0 398.3L555.0 398.6L558.0 398.9L561.0 399.3L564.0 399.6L567.0 399.8L570.0 399.9L573.0 400.0L576.0 400.1L579.0 400.2L582.0 400.3L585.0 400.3L588.0 400.4L591.0 400.4L594.0 400.5L597.0 400.5L600.0 400.5L603.0 400.5L606.0 400.5L609.0 400.5L612.0 400.4L615.0 400.4L618.0 400.3L621.0 400.2L624.0 400.2L627.0 400.1L630.0 400.0L633.0 400.0L636.0 399.9L639.0 399.9L642.0 399.8L645.0 399.8L648.0 399.8L651.0 399.7L654.0 399.7L656.0 399.7" stroke="#0c0cdc" stroke-width="2.7"/>
<path d="M63.0 385.4L64.0 385.4L65.0 385.4L66.0 385.4L67.0 385.4L68.0 385.4L69.0 385.4L70.0 385.4L71.0 385.3L72.0 385.3L73.0 385.3L74.0 385.3L75.0 385.3L76.0 385.2L77.0 385.2L78.0 385.2L79.0 385.2L80.0 385.1L81.0 385.1L82.0 385.1L83.0 385.0L84.0 385.0L85.0 385.0L86.0 384.9L87.0 384.9L88.0 384.9L89.0 384.8L90.0 384.8L91.0 384.7L92.0 384.7L93.0 384.6L94.0 384.5L95.0 384.4L96.0 384.3L97.0 384.2L98.0 384.1L99.0 384.0L100.0 383.8L101.0 383.7L102.0 383.5L103.0 383.3L104.0 383.1L105.0 382.9L106.0 382.7L107.0 382.5L108.0 382.2L109.0 381.8L110.0 381.3L111.0 380.8L112.0 380.2L113.0 379.4L114.0 378.6L115.0 377.7L116.0 376.6L117.0 375.4L118.0 373.8L119.0 372.0L120.0 369.8L121.0 367.4L122.0 364.8L123.0 362.0L124.0 359.0L125.0 355.7L126.0 352.0L127.0 348.0L128.0 343.8L129.0 339.5L130.0 335.2L131.0 331.0L132.0 326.9L133.0 322.8L134.0 318.8L135.0 315.1L136.0 311.9L137.0 309.5L138.0 308.6L139.0 309.4L140.0 311.3L141.0 313.9L142.0 316.6L143.0 319.5L144.0 322.3L145.0 325.1L146.0 327.8L147.0 330.3L148.0 332.8L149.0 335.2L150.0 337.3L151.0 339.2L152.0 340.8L153.0 342.2L154.0 343.4L155.0 344.5L156.0 345.5L157.0 346.3L158.0 347.0L159.0 347.6L160.0 348.0L161.0 348.4L162.0 348.7L163.0 348.9L164.0 349.2L165.0 349.4L166.0 349.6L167.0 349.9L168.0 350.2L169.0 350.5L170.0 350.8L171.0 351.2L172.0 351.6L173.0 352.1L174.0 352.7L175.0 353.5L176.0 354.5L177.0 355.8L178.0 357.1L179.0 358.4L180.0 359.8L181.0 361.2L182.0 362.6L183.0 364.0L184.0 365.4L185.0 366.6L186.0 367.7L187.0 368.6L188.0 369.4L189.0 370.0L190.0 370.5L191.0 371.0L192.0 371.4L193.0 371.8L194.0 372.1L195.0 372.3L196.0 372.5L197.0 372.7L198.0 372.8L199.0 372.9L200.0 373.0L201.0 373.1L202.0 373.2L203.0 373.3L204.0 373.4L205.0 373.4L206.0 373.5L207.0 373.5L208.0 373.5L209.0 373.5L210.0 373.4L211.0 373.4L212.0 373.3L213.0 373.2L214.0 373.1L215.0 372.9L216.0 372.8L217.0 372.6L218.0 372.4L219.0 372.2L220.0 372.0L221.0 371.8L222.0 371.6L223.0 371.3L224.0 371.1L225.0 370.8L226.0 370.5L227.0 370.2L228.0 369.9L229.0 369.5L230.0 369.1L231.0 368.6L232.0 368.1L233.0 367.5L234.0 367.0L235.0 366.4L236.0 365.7L237.0 365.1L238.0 364.4L239.0 363.7L240.0 363.1L241.0 362.3L242.0 361.5L243.0 360.6L244.0 359.7L245.0 358.6L246.0 357.6L247.0 356.5L248.0 355.5L249.0 354.5L250.0 353.6L251.0 352.8L252.0 352.1L253.0 351.5L254.0 350.9L255.0 350.5L256.0 350.0L257.0 349.5L258.0 349.1L259.0 348.7L260.0 348.3L261.0 348.0L262.0 347.7L263.0 347.4L264.0 347.2L265.0 347.0L266.0 346.8L267.0 346.8L268.0 346.8L269.0 346.8L270.0 346.9L271.0 347.1L272.0 347.3L273.0 347.6L274.0 347.9L275.0 348.2L276.0 348.6L277.0 349.0L278.0 349.3L279.0 349.7L280.0 350.1L281.0 350.5L282.0 350.9L283.0 351.2L284.0 351.6L285.0 352.0L286.0 352.4L287.0 352.8L288.0 353.3L289.0 353.7L290.0 354.2L291.0 354.7L292.0 355.1L293.0 355.6L294.0 356.0L295.0 356.5L296.0 356.9L297.0 357.3L298.0 357.7L299.0 358.1L300.0 358.5L303.0 359.4L306.0 360.3L309.0 361.1L312.0 361.8L315.0 362.5L318.0 363.0L321.0 363.3L324.0 363.4L327.0 363.5L330.0 363.6L333.0 363.7L336.0 363.6L339.0 363.4L342.0 363.0L345.0 362.5L348.0 361.9L351.0 361.3L354.0 360.7L357.0 360.0L360.0 359.3L363.0 358.5L366.0 357.6L369.0 356.9L372.0 356.2L375.0 355.7L378.0 355.2L381.0 354.7L384.0 354.3L387.0 354.0L390.0 353.9L393.0 353.9L396.0 354.0L399.0 354.1L402.0 354.2L405.0 354.3L408.0 354.7L411.0 355.2L414.0 355.8L417.0 356.5L420.0 357.1L423.0 357.6L426.0 358.1L429.0 358.6L432.0 359.1L435.0 359.5L438.0 359.9L441.0 360.3L444.0 360.6L447.0 360.9L450.0 361.2L453.0 361.4L456.0 361.6L459.0 361.7L462.0 361.7L465.0 361.6L468.0 361.5L471.0 361.4L474.0 361.2L477.0 361.1L480.0 360.9L483.0 360.6L486.0 360.3L489.0 359.8L492.0 359.2L495.0 358.6L498.0 358.0L501.0 357.4L504.0 356.9L507.0 356.5L510.0 356.2L513.0 355.8L516.0 355.4L519.0 355.2L522.0 355.0L525.0 354.9L528.0 355.0L531.0 355.2L534.0 355.4L537.0 355.7L540.0 356.1L543.0 356.4L546.0 356.7L549.0 357.0L552.0 357.3L555.0 357.7L558.0 358.1L561.0 358.4L564.0 358.7L567.0 358.9L570.0 359.1L573.0 359.2L576.0 359.3L579.0 359.4L582.0 359.5L585.0 359.6L588.0 359.6L591.0 359.7L594.0 359.7L597.0 359.8L600.0 359.8L603.0 359.8L606.0 359.8L609.0 359.8L612.0 359.7L615.0 359.6L618.0 359.6L621.0 359.5L624.0 359.4L627.0 359.3L630.0 359.2L633.0 359.2L636.0 359.1L639.0 359.0L642.0 359.0L645.0 358.9L648.0 358.9L651.0 358.9L654.0 358.8L656.0 358.8" stroke="#0c0cdc" stroke-width="2.7"/>
<path d="M63.1 1224.0L113.5 1224.0L116.5 1220.6L117.5 1215.5L118.5 1210.3L119.5 1204.9L120.5 1199.3L121.5 1193.4L122.5 1187.3L123.5 1180.9L124.5 1174.6L125.5 1168.4L126.5 1162.6L127.5 1157.2L128.5 1152.1L129.5 1147.4L130.5 1143.2L131.5 1139.4L132.5 1136.3L133.5 1134.4L134.5 1134.2L135.5 1135.8L136.5 1138.7L137.5 1142.3L138.5 1146.3L139.5 1150.6L140.5 1155.2L141.5 1159.8L142.5 1164.3L143.5 1168.7L144.5 1173.1L145.5 1177.3L146.5 1181.1L147.5 1184.6L148.5 1187.7L149.5 1190.4L150.5 1192.9L151.5 1194.9L152.5 1196.5L153.5 1197.9L154.5 1199.1L155.5 1200.1L156.5 1201.1L157.5 1201.9L158.5 1202.6L159.5 1203.2L160.5 1203.7L161.5 1204.1L162.5 1204.3L163.5 1204.5L164.5 1204.7L165.5 1205.0L166.5 1205.3L167.5 1205.6L168.5 1205.8L169.5 1206.0L170.5 1206.0L171.5 1205.9L172.5 1205.7L173.5 1205.5L174.5 1205.2L175.5 1204.9L176.5 1204.7L177.5 1204.5L178.5 1204.4L179.5 1204.3L180.5 1204.3L181.5 1204.4L182.5 1204.4L183.5 1204.4L184.5 1204.4L185.5 1204.4L186.5 1204.3L187.5 1204.1L188.5 1203.9L189.5 1203.6L190.5 1203.4L191.5 1203.0L192.5 1202.7L193.5 1202.3L194.5 1201.8L195.5 1201.3L196.5 1200.7L197.5 1200.0L198.5 1199.5L199.5 1199.0L200.5 1198.6L201.5 1198.4L202.5 1198.1L203.5 1197.9L204.5 1197.7L205.5 1197.6L206.5 1197.4L207.5 1197.2L208.5 1197.1L209.5 1196.9L210.5 1196.7L211.5 1196.5L212.5 1196.2L213.5 1195.9L214.5 1195.6L215.5 1195.1L216.5 1194.7L217.5 1194.1L218.5 1193.6L219.5 1193.0L220.5 1192.5L221.5 1191.9L222.5 1191.4L223.5 1190.9L224.5 1190.4L225.5 1190.1L226.5 1189.8L227.5 1189.5L228.5 1189.3L229.5 1189.0L230.5 1188.9L231.5 1188.7L232.5 1188.6L233.5 1188.5L234.5 1188.4L235.5 1188.4L236.5 1188.4L237.5 1188.5L238.5 1188.6L239.5 1188.7L240.5 1188.9L241.5 1189.1L242.5 1189.5L243.5 1189.8L244.5 1190.2L245.5 1190.6L246.5 1191.0L247.5 1191.5L248.5 1191.9L249.5 1192.3L250.5 1192.6L251.5 1193.0L252.5 1193.3L253.5 1193.6L254.5 1193.9L255.5 1194.2L256.5 1194.5L257.5 1194.7L258.5 1195.0L259.5 1195.3L260.5 1195.6L263.5 1196.3L266.5 1196.9L269.5 1197.2L272.5 1197.5L275.5 1197.7L278.5 1197.8L281.5 1197.9L284.5 1198.0L287.5 1197.9L290.5 1197.8L293.5 1197.7L296.5 1197.5L299.5 1197.3L302.5 1197.0L305.5 1196.7L308.5 1196.2L311.5 1195.7L314.5 1195.2L317.5 1194.7L320.5 1194.3L323.5 1193.8L326.5 1193.3L329.5 1192.9L332.5 1192.6L335.5 1192.5L338.5 1192.4L341.5 1192.4L344.5 1192.4L347.5 1192.7L350.5 1193.1L353.5 1193.7L356.5 1194.2L359.5 1194.8L362.5 1195.5L365.5 1196.2L368.5 1196.7L371.5 1197.1L374.5 1197.4L377.5 1197.6L380.5 1197.8L383.5 1197.8L386.5 1197.7L389.5 1197.6L392.5 1197.4L395.5 1197.2L398.5 1196.9L401.5 1196.7L404.5 1196.4L407.5 1196.1L410.5 1195.8L413.5 1195.4L416.5 1195.1L419.5 1194.8L422.5 1194.4L425.5 1194.1L428.5 1193.8L431.5 1193.6L434.5 1193.6L437.5 1193.6L440.5 1193.7L443.5 1193.9L446.5 1194.1L449.5 1194.4L452.5 1194.6L455.5 1194.9L458.5 1195.1L461.5 1195.3L464.5 1195.4L467.5 1195.6L470.5 1195.8L473.5 1195.9L476.5 1196.1L479.5 1196.2L482.5 1196.3L485.5 1196.4L488.5 1196.5L491.5 1196.5L494.5 1196.5L497.5 1196.4L500.5 1196.4L503.5 1196.3L506.5 1196.1L509.5 1196.0L512.5 1195.9L515.5 1195.7L518.5 1195.6L521.5 1195.5L524.5 1195.5L527.5 1195.5L530.5 1195.5L533.5 1195.5L536.5 1195.5L539.5 1195.4L542.5 1195.4L545.5 1195.4L548.5 1195.4L551.5 1195.4L554.5 1195.4L557.5 1195.4L560.5 1195.4L563.5 1195.4L566.5 1195.4L569.5 1195.4L572.5 1195.4L575.5 1195.4L578.5 1195.4L581.5 1195.4L584.5 1195.4L587.5 1195.4L590.5 1195.4L593.5 1195.4L596.5 1195.4L599.5 1195.4L602.5 1195.4L605.5 1195.4L608.5 1195.4L611.5 1195.4L614.5 1195.4L617.5 1195.4L620.5 1195.4L623.5 1195.4L626.5 1195.4L629.5 1195.4L632.5 1195.4L635.5 1195.4L638.5 1195.4L641.5 1195.4L644.5 1195.4L647.5 1195.4L650.5 1195.4L653.5 1195.4L656.5 1195.4" stroke="#adadad" stroke-width="7.4"/>
<path d="M63.1 1181.8L113.5 1181.8L116.5 1178.5L117.5 1173.4L118.5 1168.2L119.5 1162.8L120.5 1157.2L121.5 1151.3L122.5 1145.0L123.5 1138.6L124.5 1132.2L125.5 1125.9L126.5 1120.0L127.5 1114.5L128.5 1109.4L129.5 1104.6L130.5 1100.4L131.5 1096.6L132.5 1093.4L133.5 1091.5L134.5 1091.3L135.5 1092.9L136.5 1095.9L137.5 1099.5L138.5 1103.5L139.5 1107.9L140.5 1112.6L141.5 1117.2L142.5 1121.8L143.5 1126.3L144.5 1130.6L145.5 1134.9L146.5 1138.8L147.5 1142.3L148.5 1145.4L149.5 1148.2L150.5 1150.7L151.5 1152.7L152.5 1154.4L153.5 1155.7L154.5 1156.9L155.5 1158.0L156.5 1158.9L157.5 1159.8L158.5 1160.5L159.5 1161.1L160.5 1161.6L161.5 1162.0L162.5 1162.2L163.5 1162.5L164.5 1162.7L165.5 1162.9L166.5 1163.2L167.5 1163.6L168.5 1163.8L169.5 1164.0L170.5 1164.0L171.5 1163.9L172.5 1163.7L173.5 1163.4L174.5 1163.1L175.5 1162.9L176.5 1162.6L177.5 1162.4L178.5 1162.3L179.5 1162.3L180.5 1162.3L181.5 1162.3L182.5 1162.3L183.5 1162.4L184.5 1162.4L185.5 1162.3L186.5 1162.2L187.5 1162.1L188.5 1161.9L189.5 1161.6L190.5 1161.3L191.5 1161.0L192.5 1160.6L193.5 1160.2L194.5 1159.8L195.5 1159.2L196.5 1158.6L197.5 1157.9L198.5 1157.4L199.5 1156.9L200.5 1156.5L201.5 1156.2L202.5 1156.0L203.5 1155.8L204.5 1155.6L205.5 1155.4L206.5 1155.3L207.5 1155.1L208.5 1154.9L209.5 1154.8L210.5 1154.6L211.5 1154.3L212.5 1154.1L213.5 1153.8L214.5 1153.4L215.5 1153.0L216.5 1152.5L217.5 1152.0L218.5 1151.4L219.5 1150.8L220.5 1150.3L221.5 1149.7L222.5 1149.2L223.5 1148.7L224.5 1148.2L225.5 1147.9L226.5 1147.6L227.5 1147.3L228.5 1147.0L229.5 1146.8L230.5 1146.6L231.5 1146.5L232.5 1146.4L233.5 1146.3L234.5 1146.2L235.5 1146.2L236.5 1146.2L237.5 1146.3L238.5 1146.4L239.5 1146.5L240.5 1146.7L241.5 1146.9L242.5 1147.2L243.5 1147.6L244.5 1148.0L245.5 1148.4L246.5 1148.8L247.5 1149.3L248.5 1149.7L249.5 1150.1L250.5 1150.4L251.5 1150.8L252.5 1151.1L253.5 1151.4L254.5 1151.7L255.5 1152.0L256.5 1152.3L257.5 1152.6L258.5 1152.9L259.5 1153.2L260.5 1153.4L263.5 1154.2L266.5 1154.8L269.5 1155.1L272.5 1155.3L275.5 1155.5L278.5 1155.7L281.5 1155.8L284.5 1155.8L287.5 1155.8L290.5 1155.7L293.5 1155.6L296.5 1155.4L299.5 1155.1L302.5 1154.9L305.5 1154.5L308.5 1154.1L311.5 1153.6L314.5 1153.0L317.5 1152.6L320.5 1152.1L323.5 1151.6L326.5 1151.1L329.5 1150.7L332.5 1150.4L335.5 1150.3L338.5 1150.2L341.5 1150.2L344.5 1150.2L347.5 1150.5L350.5 1150.9L353.5 1151.5L356.5 1152.0L359.5 1152.6L362.5 1153.4L365.5 1154.1L368.5 1154.6L371.5 1154.9L374.5 1155.2L377.5 1155.5L380.5 1155.6L383.5 1155.7L386.5 1155.6L389.5 1155.4L392.5 1155.2L395.5 1155.0L398.5 1154.8L401.5 1154.6L404.5 1154.3L407.5 1153.9L410.5 1153.6L413.5 1153.3L416.5 1153.0L419.5 1152.6L422.5 1152.3L425.5 1151.9L428.5 1151.7L431.5 1151.5L434.5 1151.4L437.5 1151.4L440.5 1151.5L443.5 1151.7L446.5 1151.9L449.5 1152.2L452.5 1152.4L455.5 1152.7L458.5 1152.9L461.5 1153.1L464.5 1153.3L467.5 1153.4L470.5 1153.6L473.5 1153.8L476.5 1153.9L479.5 1154.0L482.5 1154.2L485.5 1154.3L488.5 1154.3L491.5 1154.4L494.5 1154.3L497.5 1154.3L500.5 1154.2L503.5 1154.1L506.5 1154.0L509.5 1153.8L512.5 1153.7L515.5 1153.6L518.5 1153.5L521.5 1153.4L524.5 1153.3L527.5 1153.3L530.5 1153.3L533.5 1153.3L536.5 1153.3L539.5 1153.3L542.5 1153.3L545.5 1153.3L548.5 1153.3L551.5 1153.3L554.5 1153.3L557.5 1153.2L560.5 1153.2L563.5 1153.2L566.5 1153.2L569.5 1153.2L572.5 1153.2L575.5 1153.2L578.5 1153.2L581.5 1153.2L584.5 1153.2L587.5 1153.2L590.5 1153.2L593.5 1153.2L596.5 1153.2L599.5 1153.2L602.5 1153.2L605.5 1153.2L608.5 1153.2L611.5 1153.2L614.5 1153.2L617.5 1153.2L620.5 1153.2L623.5 1153.2L626.5 1153.2L629.5 1153.2L632.5 1153.2L635.5 1153.2L638.5 1153.2L641.5 1153.2L644.5 1153.2L647.5 1153.2L650.5 1153.2L653.5 1153.2L656.5 1153.2" stroke="#adadad" stroke-width="7.4"/>
<path d="M63.1 1139.7L113.5 1139.7L116.5 1136.4L117.5 1131.3L118.5 1126.1L119.5 1120.7L120.5 1115.0L121.5 1109.1L122.5 1102.8L123.5 1096.3L124.5 1089.8L125.5 1083.4L126.5 1077.5L127.5 1071.9L128.5 1066.7L129.5 1061.9L130.5 1057.5L131.5 1053.7L132.5 1050.6L133.5 1048.6L134.5 1048.4L135.5 1050.1L136.5 1053.0L137.5 1056.7L138.5 1060.7L139.5 1065.2L140.5 1069.9L141.5 1074.6L142.5 1079.2L143.5 1083.8L144.5 1088.2L145.5 1092.5L146.5 1096.5L147.5 1100.0L148.5 1103.2L149.5 1106.0L150.5 1108.5L151.5 1110.5L152.5 1112.2L153.5 1113.6L154.5 1114.8L155.5 1115.9L156.5 1116.8L157.5 1117.7L158.5 1118.4L159.5 1119.0L160.5 1119.5L161.5 1119.9L162.5 1120.2L163.5 1120.4L164.5 1120.6L165.5 1120.9L166.5 1121.2L167.5 1121.5L168.5 1121.8L169.5 1122.0L170.5 1122.0L171.5 1121.9L172.5 1121.7L173.5 1121.4L174.5 1121.1L175.5 1120.8L176.5 1120.6L177.5 1120.4L178.5 1120.3L179.5 1120.3L180.5 1120.3L181.5 1120.3L182.5 1120.3L183.5 1120.3L184.5 1120.3L185.5 1120.3L186.5 1120.2L187.5 1120.0L188.5 1119.8L189.5 1119.5L190.5 1119.2L191.5 1118.9L192.5 1118.6L193.5 1118.2L194.5 1117.7L195.5 1117.1L196.5 1116.5L197.5 1115.8L198.5 1115.3L199.5 1114.8L200.5 1114.4L201.5 1114.1L202.5 1113.9L203.5 1113.7L204.5 1113.5L205.5 1113.3L206.5 1113.1L207.5 1113.0L208.5 1112.8L209.5 1112.6L210.5 1112.4L211.5 1112.2L212.5 1111.9L213.5 1111.6L214.5 1111.2L215.5 1110.8L216.5 1110.3L217.5 1109.8L218.5 1109.2L219.5 1108.7L220.5 1108.1L221.5 1107.5L222.5 1107.0L223.5 1106.5L224.5 1106.0L225.5 1105.7L226.5 1105.3L227.5 1105.1L228.5 1104.8L229.5 1104.6L230.5 1104.4L231.5 1104.3L232.5 1104.1L233.5 1104.1L234.5 1104.0L235.5 1104.0L236.5 1104.0L237.5 1104.0L238.5 1104.1L239.5 1104.3L240.5 1104.4L241.5 1104.7L242.5 1105.0L243.5 1105.4L244.5 1105.8L245.5 1106.2L246.5 1106.6L247.5 1107.1L248.5 1107.5L249.5 1107.9L250.5 1108.3L251.5 1108.6L252.5 1108.9L253.5 1109.2L254.5 1109.5L255.5 1109.8L256.5 1110.1L257.5 1110.4L258.5 1110.7L259.5 1111.0L260.5 1111.3L263.5 1112.0L266.5 1112.6L269.5 1113.0L272.5 1113.2L275.5 1113.4L278.5 1113.6L281.5 1113.7L284.5 1113.7L287.5 1113.7L290.5 1113.6L293.5 1113.4L296.5 1113.2L299.5 1113.0L302.5 1112.7L305.5 1112.4L308.5 1111.9L311.5 1111.4L314.5 1110.9L317.5 1110.4L320.5 1109.9L323.5 1109.4L326.5 1108.9L329.5 1108.5L332.5 1108.2L335.5 1108.1L338.5 1108.0L341.5 1108.0L344.5 1108.0L347.5 1108.3L350.5 1108.7L353.5 1109.3L356.5 1109.9L359.5 1110.5L362.5 1111.2L365.5 1111.9L368.5 1112.5L371.5 1112.8L374.5 1113.1L377.5 1113.3L380.5 1113.5L383.5 1113.5L386.5 1113.5L389.5 1113.3L392.5 1113.1L395.5 1112.9L398.5 1112.7L401.5 1112.4L404.5 1112.1L407.5 1111.8L410.5 1111.4L413.5 1111.1L416.5 1110.8L419.5 1110.5L422.5 1110.1L425.5 1109.8L428.5 1109.5L431.5 1109.3L434.5 1109.2L437.5 1109.2L440.5 1109.4L443.5 1109.5L446.5 1109.8L449.5 1110.0L452.5 1110.3L455.5 1110.5L458.5 1110.8L461.5 1111.0L464.5 1111.1L467.5 1111.3L470.5 1111.4L473.5 1111.6L476.5 1111.8L479.5 1111.9L482.5 1112.0L485.5 1112.1L488.5 1112.2L491.5 1112.2L494.5 1112.2L497.5 1112.2L500.5 1112.1L503.5 1112.0L506.5 1111.8L509.5 1111.7L512.5 1111.6L515.5 1111.4L518.5 1111.3L521.5 1111.2L524.5 1111.2L527.5 1111.2L530.5 1111.2L533.5 1111.1L536.5 1111.1L539.5 1111.1L542.5 1111.1L545.5 1111.1L548.5 1111.1L551.5 1111.1L554.5 1111.1L557.5 1111.1L560.5 1111.1L563.5 1111.1L566.5 1111.1L569.5 1111.1L572.5 1111.1L575.5 1111.1L578.5 1111.1L581.5 1111.1L584.5 1111.1L587.5 1111.1L590.5 1111.1L593.5 1111.1L596.5 1111.1L599.5 1111.1L602.5 1111.1L605.5 1111.1L608.5 1111.1L611.5 1111.1L614.5 1111.1L617.5 1111.1L620.5 1111.1L623.5 1111.1L626.5 1111.1L629.5 1111.1L632.5 1111.1L635.5 1111.1L638.5 1111.1L641.5 1111.1L644.5 1111.1L647.5 1111.1L650.5 1111.1L653.5 1111.1L656.5 1111.1" stroke="#adadad" stroke-width="7.4"/>
<path d="M63.1 1097.5L113.5 1097.5L116.5 1094.3L117.5 1089.2L118.5 1084.0L119.5 1078.6L120.5 1072.9L121.5 1066.9L122.5 1060.6L123.5 1054.0L124.5 1047.4L125.5 1041.0L126.5 1034.9L127.5 1029.3L128.5 1024.0L129.5 1019.1L130.5 1014.7L131.5 1010.9L132.5 1007.7L133.5 1005.7L134.5 1005.5L135.5 1007.2L136.5 1010.2L137.5 1013.9L138.5 1018.0L139.5 1022.5L140.5 1027.2L141.5 1032.0L142.5 1036.7L143.5 1041.3L144.5 1045.8L145.5 1050.1L146.5 1054.1L147.5 1057.7L148.5 1060.9L149.5 1063.8L150.5 1066.3L151.5 1068.4L152.5 1070.0L153.5 1071.5L154.5 1072.7L155.5 1073.7L156.5 1074.7L157.5 1075.5L158.5 1076.3L159.5 1076.9L160.5 1077.4L161.5 1077.8L162.5 1078.1L163.5 1078.3L164.5 1078.6L165.5 1078.8L166.5 1079.2L167.5 1079.5L168.5 1079.8L169.5 1079.9L170.5 1080.0L171.5 1079.8L172.5 1079.6L173.5 1079.4L174.5 1079.1L175.5 1078.8L176.5 1078.5L177.5 1078.3L178.5 1078.2L179.5 1078.2L180.5 1078.2L181.5 1078.2L182.5 1078.2L183.5 1078.3L184.5 1078.3L185.5 1078.2L186.5 1078.1L187.5 1078.0L188.5 1077.8L189.5 1077.5L190.5 1077.2L191.5 1076.9L192.5 1076.5L193.5 1076.1L194.5 1075.6L195.5 1075.0L196.5 1074.4L197.5 1073.7L198.5 1073.2L199.5 1072.7L200.5 1072.3L201.5 1072.0L202.5 1071.7L203.5 1071.5L204.5 1071.3L205.5 1071.2L206.5 1071.0L207.5 1070.8L208.5 1070.7L209.5 1070.5L210.5 1070.3L211.5 1070.1L212.5 1069.8L213.5 1069.5L214.5 1069.1L215.5 1068.7L216.5 1068.2L217.5 1067.6L218.5 1067.1L219.5 1066.5L220.5 1065.9L221.5 1065.3L222.5 1064.8L223.5 1064.3L224.5 1063.8L225.5 1063.5L226.5 1063.1L227.5 1062.9L228.5 1062.6L229.5 1062.4L230.5 1062.2L231.5 1062.0L232.5 1061.9L233.5 1061.8L234.5 1061.8L235.5 1061.8L236.5 1061.8L237.5 1061.8L238.5 1061.9L239.5 1062.0L240.5 1062.2L241.5 1062.5L242.5 1062.8L243.5 1063.1L244.5 1063.5L245.5 1064.0L246.5 1064.4L247.5 1064.8L248.5 1065.3L249.5 1065.7L250.5 1066.1L251.5 1066.4L252.5 1066.7L253.5 1067.0L254.5 1067.3L255.5 1067.6L256.5 1067.9L257.5 1068.3L258.5 1068.6L259.5 1068.8L260.5 1069.1L263.5 1069.9L266.5 1070.5L269.5 1070.8L272.5 1071.1L275.5 1071.3L278.5 1071.4L281.5 1071.6L284.5 1071.6L287.5 1071.6L290.5 1071.5L293.5 1071.3L296.5 1071.1L299.5 1070.9L302.5 1070.6L305.5 1070.2L308.5 1069.8L311.5 1069.2L314.5 1068.7L317.5 1068.2L320.5 1067.8L323.5 1067.2L326.5 1066.7L329.5 1066.3L332.5 1066.0L335.5 1065.9L338.5 1065.8L341.5 1065.8L344.5 1065.8L347.5 1066.1L350.5 1066.5L353.5 1067.1L356.5 1067.7L359.5 1068.3L362.5 1069.1L365.5 1069.8L368.5 1070.3L371.5 1070.7L374.5 1071.0L377.5 1071.2L380.5 1071.4L383.5 1071.4L386.5 1071.3L389.5 1071.2L392.5 1071.0L395.5 1070.8L398.5 1070.5L401.5 1070.3L404.5 1070.0L407.5 1069.6L410.5 1069.3L413.5 1068.9L416.5 1068.6L419.5 1068.3L422.5 1067.9L425.5 1067.6L428.5 1067.3L431.5 1067.1L434.5 1067.0L437.5 1067.1L440.5 1067.2L443.5 1067.4L446.5 1067.6L449.5 1067.8L452.5 1068.1L455.5 1068.4L458.5 1068.6L461.5 1068.8L464.5 1069.0L467.5 1069.1L470.5 1069.3L473.5 1069.5L476.5 1069.6L479.5 1069.7L482.5 1069.9L485.5 1070.0L488.5 1070.0L491.5 1070.1L494.5 1070.1L497.5 1070.0L500.5 1069.9L503.5 1069.8L506.5 1069.7L509.5 1069.5L512.5 1069.4L515.5 1069.3L518.5 1069.2L521.5 1069.1L524.5 1069.0L527.5 1069.0L530.5 1069.0L533.5 1069.0L536.5 1069.0L539.5 1069.0L542.5 1069.0L545.5 1069.0L548.5 1068.9L551.5 1068.9L554.5 1068.9L557.5 1068.9L560.5 1068.9L563.5 1068.9L566.5 1068.9L569.5 1068.9L572.5 1068.9L575.5 1068.9L578.5 1068.9L581.5 1068.9L584.5 1068.9L587.5 1068.9L590.5 1068.9L593.5 1068.9L596.5 1068.9L599.5 1068.9L602.5 1068.9L605.5 1068.9L608.5 1068.9L611.5 1068.9L614.5 1068.9L617.5 1068.9L620.5 1068.9L623.5 1068.9L626.5 1068.9L629.5 1068.9L632.5 1068.9L635.5 1068.9L638.5 1068.9L641.5 1068.9L644.5 1068.9L647.5 1068.9L650.5 1068.9L653.5 1068.9L656.5 1068.9" stroke="#adadad" stroke-width="7.4"/>
<path d="M63.1 1055.4L113.5 1055.4L116.5 1052.1L117.5 1047.1L118.5 1041.9L119.5 1036.5L120.5 1030.8L121.5 1024.8L122.5 1018.4L123.5 1011.7L124.5 1005.0L125.5 998.5L126.5 992.4L127.5 986.6L128.5 981.3L129.5 976.4L130.5 971.9L131.5 968.0L132.5 964.8L133.5 962.8L134.5 962.6L135.5 964.3L136.5 967.3L137.5 971.0L138.5 975.2L139.5 979.8L140.5 984.6L141.5 989.4L142.5 994.2L143.5 998.8L144.5 1003.3L145.5 1007.7L146.5 1011.8L147.5 1015.4L148.5 1018.6L149.5 1021.5L150.5 1024.1L151.5 1026.2L152.5 1027.9L153.5 1029.3L154.5 1030.5L155.5 1031.6L156.5 1032.6L157.5 1033.4L158.5 1034.2L159.5 1034.8L160.5 1035.3L161.5 1035.7L162.5 1036.0L163.5 1036.3L164.5 1036.5L165.5 1036.8L166.5 1037.1L167.5 1037.4L168.5 1037.7L169.5 1037.9L170.5 1037.9L171.5 1037.8L172.5 1037.6L173.5 1037.3L174.5 1037.0L175.5 1036.7L176.5 1036.5L177.5 1036.3L178.5 1036.2L179.5 1036.2L180.5 1036.2L181.5 1036.2L182.5 1036.2L183.5 1036.2L184.5 1036.2L185.5 1036.2L186.5 1036.1L187.5 1035.9L188.5 1035.7L189.5 1035.4L190.5 1035.1L191.5 1034.8L192.5 1034.4L193.5 1034.0L194.5 1033.5L195.5 1032.9L196.5 1032.3L197.5 1031.6L198.5 1031.1L199.5 1030.6L200.5 1030.2L201.5 1029.9L202.5 1029.6L203.5 1029.4L204.5 1029.2L205.5 1029.0L206.5 1028.9L207.5 1028.7L208.5 1028.5L209.5 1028.3L210.5 1028.1L211.5 1027.9L212.5 1027.6L213.5 1027.3L214.5 1026.9L215.5 1026.5L216.5 1026.0L217.5 1025.5L218.5 1024.9L219.5 1024.3L220.5 1023.7L221.5 1023.1L222.5 1022.6L223.5 1022.1L224.5 1021.6L225.5 1021.2L226.5 1020.9L227.5 1020.6L228.5 1020.4L229.5 1020.2L230.5 1020.0L231.5 1019.8L232.5 1019.7L233.5 1019.6L234.5 1019.5L235.5 1019.5L236.5 1019.5L237.5 1019.6L238.5 1019.7L239.5 1019.8L240.5 1020.0L241.5 1020.2L242.5 1020.6L243.5 1020.9L244.5 1021.3L245.5 1021.8L246.5 1022.2L247.5 1022.6L248.5 1023.1L249.5 1023.5L250.5 1023.9L251.5 1024.2L252.5 1024.6L253.5 1024.9L254.5 1025.2L255.5 1025.5L256.5 1025.8L257.5 1026.1L258.5 1026.4L259.5 1026.7L260.5 1027.0L263.5 1027.8L266.5 1028.3L269.5 1028.7L272.5 1028.9L275.5 1029.1L278.5 1029.3L281.5 1029.4L284.5 1029.5L287.5 1029.4L290.5 1029.3L293.5 1029.2L296.5 1029.0L299.5 1028.7L302.5 1028.5L305.5 1028.1L308.5 1027.6L311.5 1027.1L314.5 1026.6L317.5 1026.1L320.5 1025.6L323.5 1025.1L326.5 1024.6L329.5 1024.1L332.5 1023.8L335.5 1023.7L338.5 1023.6L341.5 1023.6L344.5 1023.6L347.5 1023.9L350.5 1024.4L353.5 1024.9L356.5 1025.5L359.5 1026.2L362.5 1026.9L365.5 1027.6L368.5 1028.2L371.5 1028.5L374.5 1028.8L377.5 1029.1L380.5 1029.2L383.5 1029.3L386.5 1029.2L389.5 1029.1L392.5 1028.9L395.5 1028.6L398.5 1028.4L401.5 1028.1L404.5 1027.8L407.5 1027.5L410.5 1027.1L413.5 1026.8L416.5 1026.5L419.5 1026.1L422.5 1025.8L425.5 1025.4L428.5 1025.1L431.5 1024.9L434.5 1024.8L437.5 1024.9L440.5 1025.0L443.5 1025.2L446.5 1025.4L449.5 1025.7L452.5 1025.9L455.5 1026.2L458.5 1026.4L461.5 1026.7L464.5 1026.8L467.5 1027.0L470.5 1027.1L473.5 1027.3L476.5 1027.5L479.5 1027.6L482.5 1027.7L485.5 1027.8L488.5 1027.9L491.5 1027.9L494.5 1027.9L497.5 1027.9L500.5 1027.8L503.5 1027.7L506.5 1027.5L509.5 1027.4L512.5 1027.3L515.5 1027.1L518.5 1027.0L521.5 1026.9L524.5 1026.9L527.5 1026.9L530.5 1026.8L533.5 1026.8L536.5 1026.8L539.5 1026.8L542.5 1026.8L545.5 1026.8L548.5 1026.8L551.5 1026.8L554.5 1026.8L557.5 1026.8L560.5 1026.8L563.5 1026.8L566.5 1026.8L569.5 1026.8L572.5 1026.8L575.5 1026.8L578.5 1026.8L581.5 1026.8L584.5 1026.8L587.5 1026.8L590.5 1026.8L593.5 1026.8L596.5 1026.8L599.5 1026.8L602.5 1026.8L605.5 1026.8L608.5 1026.8L611.5 1026.8L614.5 1026.8L617.5 1026.8L620.5 1026.8L623.5 1026.8L626.5 1026.8L629.5 1026.8L632.5 1026.8L635.5 1026.8L638.5 1026.8L641.5 1026.8L644.5 1026.8L647.5 1026.8L650.5 1026.8L653.5 1026.8L656.5 1026.8" stroke="#adadad" stroke-width="7.4"/>
<path d="M63.1 1013.2L113.5 1013.2L116.5 1010.0L117.5 1005.0L118.5 999.8L119.5 994.4L120.5 988.7L121.5 982.6L122.5 976.1L123.5 969.4L124.5 962.6L125.5 956.0L126.5 949.8L127.5 944.0L128.5 938.6L129.5 933.6L130.5 929.1L131.5 925.2L132.5 921.9L133.5 919.9L134.5 919.7L135.5 921.4L136.5 924.5L137.5 928.2L138.5 932.4L139.5 937.1L140.5 941.9L141.5 946.8L142.5 951.6L143.5 956.3L144.5 960.9L145.5 965.4L146.5 969.5L147.5 973.1L148.5 976.4L149.5 979.3L150.5 981.9L151.5 984.0L152.5 985.7L153.5 987.2L154.5 988.4L155.5 989.5L156.5 990.5L157.5 991.3L158.5 992.1L159.5 992.7L160.5 993.2L161.5 993.6L162.5 994.0L163.5 994.2L164.5 994.5L165.5 994.7L166.5 995.1L167.5 995.4L168.5 995.7L169.5 995.9L170.5 995.9L171.5 995.8L172.5 995.6L173.5 995.3L174.5 995.0L175.5 994.7L176.5 994.4L177.5 994.3L178.5 994.1L179.5 994.1L180.5 994.1L181.5 994.1L182.5 994.2L183.5 994.2L184.5 994.2L185.5 994.1L186.5 994.0L187.5 993.9L188.5 993.6L189.5 993.4L190.5 993.1L191.5 992.7L192.5 992.4L193.5 992.0L194.5 991.5L195.5 990.9L196.5 990.2L197.5 989.5L198.5 988.9L199.5 988.4L200.5 988.1L201.5 987.8L202.5 987.5L203.5 987.3L204.5 987.1L205.5 986.9L206.5 986.7L207.5 986.6L208.5 986.4L209.5 986.2L210.5 986.0L211.5 985.8L212.5 985.5L213.5 985.2L214.5 984.8L215.5 984.3L216.5 983.8L217.5 983.3L218.5 982.7L219.5 982.1L220.5 981.5L221.5 981.0L222.5 980.4L223.5 979.9L224.5 979.4L225.5 979.0L226.5 978.7L227.5 978.4L228.5 978.2L229.5 978.0L230.5 977.8L231.5 977.6L232.5 977.5L233.5 977.4L234.5 977.3L235.5 977.3L236.5 977.3L237.5 977.4L238.5 977.4L239.5 977.6L240.5 977.8L241.5 978.0L242.5 978.3L243.5 978.7L244.5 979.1L245.5 979.5L246.5 980.0L247.5 980.4L248.5 980.9L249.5 981.3L250.5 981.7L251.5 982.0L252.5 982.4L253.5 982.7L254.5 983.0L255.5 983.3L256.5 983.6L257.5 983.9L258.5 984.2L259.5 984.5L260.5 984.8L263.5 985.6L266.5 986.2L269.5 986.6L272.5 986.8L275.5 987.0L278.5 987.2L281.5 987.3L284.5 987.3L287.5 987.3L290.5 987.2L293.5 987.0L296.5 986.8L299.5 986.6L302.5 986.3L305.5 986.0L308.5 985.5L311.5 984.9L314.5 984.4L317.5 983.9L320.5 983.4L323.5 982.9L326.5 982.4L329.5 981.9L332.5 981.7L335.5 981.5L338.5 981.5L341.5 981.4L344.5 981.4L347.5 981.7L350.5 982.2L353.5 982.8L356.5 983.3L359.5 984.0L362.5 984.7L365.5 985.5L368.5 986.0L371.5 986.4L374.5 986.7L377.5 987.0L380.5 987.1L383.5 987.1L386.5 987.1L389.5 986.9L392.5 986.7L395.5 986.5L398.5 986.2L401.5 986.0L404.5 985.7L407.5 985.4L410.5 985.0L413.5 984.6L416.5 984.3L419.5 984.0L422.5 983.6L425.5 983.2L428.5 983.0L431.5 982.7L434.5 982.7L437.5 982.7L440.5 982.8L443.5 983.0L446.5 983.2L449.5 983.5L452.5 983.8L455.5 984.0L458.5 984.3L461.5 984.5L464.5 984.7L467.5 984.8L470.5 985.0L473.5 985.2L476.5 985.3L479.5 985.5L482.5 985.6L485.5 985.7L488.5 985.7L491.5 985.8L494.5 985.8L497.5 985.7L500.5 985.6L503.5 985.5L506.5 985.4L509.5 985.2L512.5 985.1L515.5 985.0L518.5 984.9L521.5 984.8L524.5 984.7L527.5 984.7L530.5 984.7L533.5 984.7L536.5 984.7L539.5 984.7L542.5 984.6L545.5 984.6L548.5 984.6L551.5 984.6L554.5 984.6L557.5 984.6L560.5 984.6L563.5 984.6L566.5 984.6L569.5 984.6L572.5 984.6L575.5 984.6L578.5 984.6L581.5 984.6L584.5 984.6L587.5 984.6L590.5 984.6L593.5 984.6L596.5 984.6L599.5 984.6L602.5 984.6L605.5 984.6L608.5 984.6L611.5 984.6L614.5 984.6L617.5 984.6L620.5 984.6L623.5 984.6L626.5 984.6L629.5 984.6L632.5 984.6L635.5 984.6L638.5 984.6L641.5 984.6L644.5 984.6L647.5 984.6L650.5 984.6L653.5 984.6L656.5 984.6" stroke="#adadad" stroke-width="7.4"/>
<path d="M63.1 971.1L113.5 971.1L116.5 967.9L117.5 962.9L118.5 957.7L119.5 952.3L120.5 946.5L121.5 940.4L122.5 933.9L123.5 927.1L124.5 920.2L125.5 913.5L126.5 907.2L127.5 901.4L128.5 895.9L129.5 890.8L130.5 886.3L131.5 882.3L132.5 879.0L133.5 877.0L134.5 876.8L135.5 878.5L136.5 881.6L137.5 885.4L138.5 889.7L139.5 894.3L140.5 899.3L141.5 904.2L142.5 909.1L143.5 913.8L144.5 918.5L145.5 923.0L146.5 927.1L147.5 930.8L148.5 934.1L149.5 937.1L150.5 939.7L151.5 941.8L152.5 943.6L153.5 945.0L154.5 946.3L155.5 947.4L156.5 948.3L157.5 949.2L158.5 950.0L159.5 950.6L160.5 951.2L161.5 951.6L162.5 951.9L163.5 952.1L164.5 952.4L165.5 952.7L166.5 953.0L167.5 953.4L168.5 953.7L169.5 953.8L170.5 953.9L171.5 953.8L172.5 953.5L173.5 953.3L174.5 953.0L175.5 952.7L176.5 952.4L177.5 952.2L178.5 952.1L179.5 952.1L180.5 952.1L181.5 952.1L182.5 952.1L183.5 952.1L184.5 952.1L185.5 952.1L186.5 952.0L187.5 951.8L188.5 951.6L189.5 951.3L190.5 951.0L191.5 950.7L192.5 950.3L193.5 949.9L194.5 949.4L195.5 948.8L196.5 948.1L197.5 947.4L198.5 946.8L199.5 946.3L200.5 945.9L201.5 945.6L202.5 945.4L203.5 945.2L204.5 945.0L205.5 944.8L206.5 944.6L207.5 944.4L208.5 944.3L209.5 944.1L210.5 943.9L211.5 943.6L212.5 943.4L213.5 943.0L214.5 942.6L215.5 942.2L216.5 941.7L217.5 941.1L218.5 940.5L219.5 940.0L220.5 939.4L221.5 938.8L222.5 938.2L223.5 937.7L224.5 937.2L225.5 936.8L226.5 936.5L227.5 936.2L228.5 936.0L229.5 935.7L230.5 935.5L231.5 935.4L232.5 935.3L233.5 935.2L234.5 935.1L235.5 935.1L236.5 935.1L237.5 935.1L238.5 935.2L239.5 935.3L240.5 935.5L241.5 935.8L242.5 936.1L243.5 936.5L244.5 936.9L245.5 937.3L246.5 937.8L247.5 938.2L248.5 938.7L249.5 939.1L250.5 939.5L251.5 939.9L252.5 940.2L253.5 940.5L254.5 940.8L255.5 941.1L256.5 941.4L257.5 941.8L258.5 942.1L259.5 942.4L260.5 942.7L263.5 943.5L266.5 944.1L269.5 944.4L272.5 944.7L275.5 944.9L278.5 945.1L281.5 945.2L284.5 945.2L287.5 945.2L290.5 945.1L293.5 944.9L296.5 944.7L299.5 944.5L302.5 944.2L305.5 943.8L308.5 943.3L311.5 942.8L314.5 942.2L317.5 941.7L320.5 941.2L323.5 940.7L326.5 940.2L329.5 939.7L332.5 939.5L335.5 939.3L338.5 939.3L341.5 939.2L344.5 939.2L347.5 939.5L350.5 940.0L353.5 940.6L356.5 941.2L359.5 941.8L362.5 942.6L365.5 943.3L368.5 943.9L371.5 944.3L374.5 944.6L377.5 944.8L380.5 945.0L383.5 945.0L386.5 944.9L389.5 944.8L392.5 944.6L395.5 944.4L398.5 944.1L401.5 943.9L404.5 943.6L407.5 943.2L410.5 942.8L413.5 942.5L416.5 942.2L419.5 941.8L422.5 941.4L425.5 941.1L428.5 940.8L431.5 940.6L434.5 940.5L437.5 940.5L440.5 940.7L443.5 940.8L446.5 941.1L449.5 941.3L452.5 941.6L455.5 941.9L458.5 942.1L461.5 942.3L464.5 942.5L467.5 942.7L470.5 942.8L473.5 943.0L476.5 943.2L479.5 943.3L482.5 943.4L485.5 943.5L488.5 943.6L491.5 943.6L494.5 943.6L497.5 943.6L500.5 943.5L503.5 943.4L506.5 943.2L509.5 943.1L512.5 943.0L515.5 942.8L518.5 942.7L521.5 942.6L524.5 942.6L527.5 942.5L530.5 942.5L533.5 942.5L536.5 942.5L539.5 942.5L542.5 942.5L545.5 942.5L548.5 942.5L551.5 942.5L554.5 942.5L557.5 942.5L560.5 942.5L563.5 942.5L566.5 942.5L569.5 942.5L572.5 942.5L575.5 942.5L578.5 942.5L581.5 942.5L584.5 942.5L587.5 942.5L590.5 942.5L593.5 942.5L596.5 942.5L599.5 942.5L602.5 942.5L605.5 942.5L608.5 942.5L611.5 942.5L614.5 942.5L617.5 942.5L620.5 942.5L623.5 942.5L626.5 942.5L629.5 942.5L632.5 942.5L635.5 942.5L638.5 942.5L641.5 942.5L644.5 942.5L647.5 942.5L650.5 942.5L653.5 942.5L656.5 942.5" stroke="#adadad" stroke-width="7.4"/>
<path d="M63.1 928.9L113.5 928.9L116.5 925.8L117.5 920.8L118.5 915.6L119.5 910.1L120.5 904.4L121.5 898.3L122.5 891.7L123.5 884.8L124.5 877.8L125.5 871.1L126.5 864.7L127.5 858.7L128.5 853.2L129.5 848.1L130.5 843.5L131.5 839.5L132.5 836.2L133.5 834.1L134.5 833.9L135.5 835.6L136.5 838.8L137.5 842.6L138.5 846.9L139.5 851.6L140.5 856.6L141.5 861.6L142.5 866.5L143.5 871.3L144.5 876.0L145.5 880.6L146.5 884.8L147.5 888.5L148.5 891.9L149.5 894.9L150.5 897.5L151.5 899.7L152.5 901.4L153.5 902.9L154.5 904.1L155.5 905.2L156.5 906.2L157.5 907.1L158.5 907.9L159.5 908.5L160.5 909.1L161.5 909.5L162.5 909.8L163.5 910.1L164.5 910.3L165.5 910.6L166.5 911.0L167.5 911.3L168.5 911.6L169.5 911.8L170.5 911.8L171.5 911.7L172.5 911.5L173.5 911.2L174.5 910.9L175.5 910.6L176.5 910.4L177.5 910.2L178.5 910.1L179.5 910.0L180.5 910.0L181.5 910.0L182.5 910.1L183.5 910.1L184.5 910.1L185.5 910.0L186.5 909.9L187.5 909.8L188.5 909.5L189.5 909.3L190.5 908.9L191.5 908.6L192.5 908.2L193.5 907.8L194.5 907.3L195.5 906.7L196.5 906.0L197.5 905.4L198.5 904.7L199.5 904.2L200.5 903.8L201.5 903.5L202.5 903.3L203.5 903.0L204.5 902.8L205.5 902.6L206.5 902.5L207.5 902.3L208.5 902.1L209.5 901.9L210.5 901.7L211.5 901.5L212.5 901.2L213.5 900.9L214.5 900.5L215.5 900.0L216.5 899.5L217.5 899.0L218.5 898.4L219.5 897.8L220.5 897.2L221.5 896.6L222.5 896.0L223.5 895.5L224.5 895.0L225.5 894.6L226.5 894.3L227.5 894.0L228.5 893.8L229.5 893.5L230.5 893.3L231.5 893.2L232.5 893.0L233.5 892.9L234.5 892.9L235.5 892.8L236.5 892.9L237.5 892.9L238.5 893.0L239.5 893.1L240.5 893.3L241.5 893.6L242.5 893.9L243.5 894.3L244.5 894.7L245.5 895.1L246.5 895.6L247.5 896.0L248.5 896.5L249.5 896.9L250.5 897.3L251.5 897.7L252.5 898.0L253.5 898.3L254.5 898.6L255.5 899.0L256.5 899.3L257.5 899.6L258.5 899.9L259.5 900.2L260.5 900.5L263.5 901.3L266.5 901.9L269.5 902.3L272.5 902.5L275.5 902.8L278.5 902.9L281.5 903.0L284.5 903.1L287.5 903.1L290.5 902.9L293.5 902.8L296.5 902.6L299.5 902.3L302.5 902.1L305.5 901.7L308.5 901.2L311.5 900.6L314.5 900.1L317.5 899.6L320.5 899.1L323.5 898.5L326.5 898.0L329.5 897.6L332.5 897.3L335.5 897.1L338.5 897.1L341.5 897.0L344.5 897.0L347.5 897.3L350.5 897.8L353.5 898.4L356.5 899.0L359.5 899.7L362.5 900.4L365.5 901.2L368.5 901.7L371.5 902.1L374.5 902.4L377.5 902.7L380.5 902.9L383.5 902.9L386.5 902.8L389.5 902.7L392.5 902.5L395.5 902.2L398.5 902.0L401.5 901.7L404.5 901.4L407.5 901.1L410.5 900.7L413.5 900.3L416.5 900.0L419.5 899.6L422.5 899.3L425.5 898.9L428.5 898.6L431.5 898.4L434.5 898.3L437.5 898.4L440.5 898.5L443.5 898.7L446.5 898.9L449.5 899.2L452.5 899.4L455.5 899.7L458.5 900.0L461.5 900.2L464.5 900.4L467.5 900.5L470.5 900.7L473.5 900.9L476.5 901.0L479.5 901.2L482.5 901.3L485.5 901.4L488.5 901.5L491.5 901.5L494.5 901.5L497.5 901.4L500.5 901.3L503.5 901.2L506.5 901.1L509.5 900.9L512.5 900.8L515.5 900.7L518.5 900.5L521.5 900.5L524.5 900.4L527.5 900.4L530.5 900.4L533.5 900.4L536.5 900.4L539.5 900.3L542.5 900.3L545.5 900.3L548.5 900.3L551.5 900.3L554.5 900.3L557.5 900.3L560.5 900.3L563.5 900.3L566.5 900.3L569.5 900.3L572.5 900.3L575.5 900.3L578.5 900.3L581.5 900.3L584.5 900.3L587.5 900.3L590.5 900.3L593.5 900.3L596.5 900.3L599.5 900.3L602.5 900.3L605.5 900.3L608.5 900.3L611.5 900.3L614.5 900.3L617.5 900.3L620.5 900.3L623.5 900.3L626.5 900.3L629.5 900.3L632.5 900.3L635.5 900.3L638.5 900.3L641.5 900.3L644.5 900.3L647.5 900.3L650.5 900.3L653.5 900.3L656.5 900.3" stroke="#adadad" stroke-width="7.4"/>
<path d="M63.1 1209.5L64.1 1212.3L65.1 1215.0L66.1 1217.4L67.1 1219.4L68.1 1220.9L69.1 1221.8L70.1 1221.9L71.1 1221.4L72.1 1220.3L73.1 1218.7L74.1 1216.9L75.1 1214.8L76.1 1212.8L77.1 1210.8L78.1 1209.0L79.1 1207.6L80.1 1206.7L81.1 1206.3L82.1 1206.6L83.1 1207.5L84.1 1208.7L85.1 1210.3L86.1 1212.0L87.1 1213.9L88.1 1215.7L89.1 1217.5L90.1 1219.0L91.1 1220.1L92.1 1220.9L93.1 1221.1L94.1 1220.8L95.1 1220.1L96.1 1219.1L97.1 1217.9L98.1 1216.5L99.1 1215.1L100.1 1213.7L101.1 1212.5L102.1 1211.5L103.1 1210.7L104.1 1210.4L105.1 1210.4L106.1 1210.9L107.1 1211.6L108.1 1212.7L109.1 1214.0L110.1 1215.5L111.1 1217.2L112.1 1219.1L113.1 1221.1L114.1 1223.1L115.0 1225.0L116.0 1220.1L117.0 1215.0L118.0 1209.8L119.0 1204.4L120.0 1198.8L121.0 1192.9L122.0 1186.8L123.0 1180.4L124.0 1174.1L125.0 1167.9L126.0 1162.1L127.0 1156.7L128.0 1151.6L129.0 1146.9L130.0 1142.7L131.0 1138.9L132.0 1135.8L133.0 1133.9L134.0 1133.7L135.0 1135.3L136.0 1138.2L137.0 1141.8L138.0 1145.8L139.0 1150.1L140.0 1154.7L141.0 1159.3L142.0 1163.8L143.0 1168.2L144.0 1172.5L145.0 1176.7L146.0 1180.5L147.0 1183.8L148.0 1186.8L149.0 1189.4L150.0 1191.6L151.0 1193.3L152.0 1194.6L153.0 1195.6L154.0 1196.4L155.0 1197.1L156.0 1197.8L157.0 1198.4L158.0 1199.1L159.0 1199.8L160.0 1200.4L161.0 1201.1L162.0 1201.7L163.0 1202.2L164.0 1202.8L165.0 1203.4L166.0 1204.0L167.0 1204.5L168.0 1205.0L169.0 1205.3L170.0 1205.4L171.0 1205.3L172.0 1205.2L173.0 1204.9L174.0 1204.7L175.0 1204.4L176.0 1204.2L177.0 1204.0L178.0 1203.9L179.0 1203.8L180.0 1203.8L181.0 1203.9L182.0 1203.9L183.0 1203.9L184.0 1203.9L185.0 1203.9L186.0 1203.8L187.0 1203.6L188.0 1203.4L189.0 1203.1L190.0 1202.9L191.0 1202.5L192.0 1202.2L193.0 1201.8L194.0 1201.3L195.0 1200.8L196.0 1200.2L197.0 1199.5L198.0 1199.0L199.0 1198.5L200.0 1198.1L201.0 1197.9L202.0 1197.6L203.0 1197.4L204.0 1197.2L205.0 1197.1L206.0 1196.9L207.0 1196.8L208.0 1196.6L209.0 1196.5L210.0 1196.3L211.0 1196.1L212.0 1195.9L213.0 1195.6L214.0 1195.3L215.0 1194.9L216.0 1194.5L217.0 1194.0L218.0 1193.6L219.0 1193.1L220.0 1192.7L221.0 1192.2L222.0 1191.8L223.0 1191.4L224.0 1191.1L225.0 1190.8L226.0 1190.6L227.0 1190.4L228.0 1190.3L229.0 1190.1L230.0 1189.9L231.0 1189.8L232.0 1189.7L233.0 1189.6L234.0 1189.4L235.0 1189.4L236.0 1189.3L237.0 1189.2L238.0 1189.2L239.0 1189.2L240.0 1189.3L241.0 1189.4L242.0 1189.6L243.0 1189.9L244.0 1190.2L245.0 1190.5L246.0 1190.9L247.0 1191.2L248.0 1191.6L249.0 1191.9L250.0 1192.3L251.0 1192.6L252.0 1192.9L253.0 1193.1L254.0 1193.4L255.0 1193.7L256.0 1194.0L257.0 1194.3L258.0 1194.5L259.0 1194.8L260.0 1195.1L263.0 1195.8L266.0 1196.4L269.0 1196.7L272.0 1197.0L275.0 1197.2L278.0 1197.3L281.0 1197.4L284.0 1197.5L287.0 1197.4L290.0 1197.3L293.0 1197.2L296.0 1197.0L299.0 1196.8L302.0 1196.5L305.0 1196.2L308.0 1195.7L311.0 1195.2L314.0 1194.7L317.0 1194.2L320.0 1193.8L323.0 1193.3L326.0 1192.8L329.0 1192.4L332.0 1192.1L335.0 1192.0L338.0 1191.9L341.0 1191.9L344.0 1191.9L347.0 1192.2L350.0 1192.6L353.0 1193.2L356.0 1193.7L359.0 1194.3L362.0 1195.0L365.0 1195.7L368.0 1196.2L371.0 1196.6L374.0 1196.9L377.0 1197.1L380.0 1197.3L383.0 1197.3L386.0 1197.2L389.0 1197.1L392.0 1196.9L395.0 1196.7L398.0 1196.4L401.0 1196.2L404.0 1195.9L407.0 1195.6L410.0 1195.3L413.0 1194.9L416.0 1194.6L419.0 1194.3L422.0 1193.9L425.0 1193.6L428.0 1193.3L431.0 1193.1L434.0 1193.1L437.0 1193.1L440.0 1193.2L443.0 1193.4L446.0 1193.6L449.0 1193.9L452.0 1194.1L455.0 1194.4L458.0 1194.6L461.0 1194.8L464.0 1194.9L467.0 1195.1L470.0 1195.3L473.0 1195.4L476.0 1195.6L479.0 1195.7L482.0 1195.8L485.0 1195.9L488.0 1196.0L491.0 1196.0L494.0 1196.0L497.0 1195.9L500.0 1195.9L503.0 1195.8L506.0 1195.6L509.0 1195.5L512.0 1195.4L515.0 1195.2L518.0 1195.1L521.0 1195.0L524.0 1195.0L527.0 1195.0L530.0 1195.0L533.0 1195.0L536.0 1195.0L539.0 1194.9L542.0 1194.9L545.0 1194.9L548.0 1194.9L551.0 1194.9L554.0 1194.9L557.0 1194.9L560.0 1194.9L563.0 1194.9L566.0 1194.9L569.0 1194.9L572.0 1194.9L575.0 1194.9L578.0 1194.9L581.0 1194.9L584.0 1194.9L587.0 1194.9L590.0 1194.9L593.0 1194.9L596.0 1194.9L599.0 1194.9L602.0 1194.9L605.0 1194.9L608.0 1194.9L611.0 1194.9L614.0 1194.9L617.0 1194.9L620.0 1194.9L623.0 1194.9L626.0 1194.9L629.0 1194.9L632.0 1194.9L635.0 1194.9L638.0 1194.9L641.0 1194.9L644.0 1194.9L647.0 1194.9L650.0 1194.9L653.0 1194.9L656.0 1194.9" stroke="#0c0cdc" stroke-width="2.4"/>
<path d="M63.1 1167.3L64.1 1170.1L65.1 1172.8L66.1 1175.2L67.1 1177.3L68.1 1178.8L69.1 1179.7L70.1 1179.8L71.1 1179.2L72.1 1178.1L73.1 1176.6L74.1 1174.7L75.1 1172.7L76.1 1170.6L77.1 1168.6L78.1 1166.9L79.1 1165.5L80.1 1164.5L81.1 1164.2L82.1 1164.5L83.1 1165.3L84.1 1166.5L85.1 1168.1L86.1 1169.9L87.1 1171.7L88.1 1173.6L89.1 1175.3L90.1 1176.8L91.1 1178.0L92.1 1178.7L93.1 1178.9L94.1 1178.6L95.1 1177.9L96.1 1176.9L97.1 1175.7L98.1 1174.4L99.1 1173.0L100.1 1171.6L101.1 1170.3L102.1 1169.3L103.1 1168.6L104.1 1168.2L105.1 1168.3L106.1 1168.7L107.1 1169.5L108.1 1170.5L109.1 1171.8L110.1 1173.4L111.1 1175.1L112.1 1176.9L113.1 1178.9L114.1 1181.0L115.0 1182.8L116.0 1178.0L117.0 1172.9L118.0 1167.7L119.0 1162.3L120.0 1156.7L121.0 1150.8L122.0 1144.5L123.0 1138.1L124.0 1131.7L125.0 1125.4L126.0 1119.5L127.0 1114.0L128.0 1108.9L129.0 1104.1L130.0 1099.9L131.0 1096.1L132.0 1092.9L133.0 1091.0L134.0 1090.8L135.0 1092.4L136.0 1095.4L137.0 1099.0L138.0 1103.0L139.0 1107.4L140.0 1112.1L141.0 1116.7L142.0 1121.3L143.0 1125.7L144.0 1130.1L145.0 1134.3L146.0 1138.1L147.0 1141.6L148.0 1144.5L149.0 1147.1L150.0 1149.4L151.0 1151.1L152.0 1152.4L153.0 1153.4L154.0 1154.3L155.0 1155.0L156.0 1155.7L157.0 1156.3L158.0 1157.0L159.0 1157.7L160.0 1158.3L161.0 1159.0L162.0 1159.6L163.0 1160.2L164.0 1160.8L165.0 1161.3L166.0 1161.9L167.0 1162.5L168.0 1162.9L169.0 1163.2L170.0 1163.3L171.0 1163.3L172.0 1163.1L173.0 1162.9L174.0 1162.6L175.0 1162.4L176.0 1162.1L177.0 1161.9L178.0 1161.8L179.0 1161.8L180.0 1161.8L181.0 1161.8L182.0 1161.8L183.0 1161.9L184.0 1161.9L185.0 1161.8L186.0 1161.7L187.0 1161.6L188.0 1161.4L189.0 1161.1L190.0 1160.8L191.0 1160.5L192.0 1160.1L193.0 1159.7L194.0 1159.3L195.0 1158.7L196.0 1158.1L197.0 1157.4L198.0 1156.9L199.0 1156.4L200.0 1156.0L201.0 1155.7L202.0 1155.5L203.0 1155.3L204.0 1155.1L205.0 1154.9L206.0 1154.8L207.0 1154.6L208.0 1154.5L209.0 1154.3L210.0 1154.1L211.0 1153.9L212.0 1153.7L213.0 1153.4L214.0 1153.1L215.0 1152.7L216.0 1152.3L217.0 1151.9L218.0 1151.4L219.0 1150.9L220.0 1150.5L221.0 1150.0L222.0 1149.6L223.0 1149.2L224.0 1148.9L225.0 1148.6L226.0 1148.4L227.0 1148.2L228.0 1148.0L229.0 1147.9L230.0 1147.7L231.0 1147.6L232.0 1147.5L233.0 1147.3L234.0 1147.2L235.0 1147.1L236.0 1147.1L237.0 1147.0L238.0 1147.0L239.0 1147.0L240.0 1147.1L241.0 1147.2L242.0 1147.4L243.0 1147.7L244.0 1148.0L245.0 1148.3L246.0 1148.7L247.0 1149.0L248.0 1149.4L249.0 1149.7L250.0 1150.1L251.0 1150.4L252.0 1150.7L253.0 1151.0L254.0 1151.2L255.0 1151.5L256.0 1151.8L257.0 1152.1L258.0 1152.4L259.0 1152.7L260.0 1152.9L263.0 1153.7L266.0 1154.3L269.0 1154.6L272.0 1154.8L275.0 1155.0L278.0 1155.2L281.0 1155.3L284.0 1155.3L287.0 1155.3L290.0 1155.2L293.0 1155.1L296.0 1154.9L299.0 1154.6L302.0 1154.4L305.0 1154.0L308.0 1153.6L311.0 1153.1L314.0 1152.5L317.0 1152.1L320.0 1151.6L323.0 1151.1L326.0 1150.6L329.0 1150.2L332.0 1149.9L335.0 1149.8L338.0 1149.7L341.0 1149.7L344.0 1149.7L347.0 1150.0L350.0 1150.4L353.0 1151.0L356.0 1151.5L359.0 1152.1L362.0 1152.9L365.0 1153.6L368.0 1154.1L371.0 1154.4L374.0 1154.7L377.0 1155.0L380.0 1155.1L383.0 1155.2L386.0 1155.1L389.0 1154.9L392.0 1154.7L395.0 1154.5L398.0 1154.3L401.0 1154.1L404.0 1153.8L407.0 1153.4L410.0 1153.1L413.0 1152.8L416.0 1152.5L419.0 1152.1L422.0 1151.8L425.0 1151.4L428.0 1151.2L431.0 1151.0L434.0 1150.9L437.0 1150.9L440.0 1151.0L443.0 1151.2L446.0 1151.4L449.0 1151.7L452.0 1151.9L455.0 1152.2L458.0 1152.4L461.0 1152.6L464.0 1152.8L467.0 1152.9L470.0 1153.1L473.0 1153.3L476.0 1153.4L479.0 1153.5L482.0 1153.7L485.0 1153.8L488.0 1153.8L491.0 1153.9L494.0 1153.8L497.0 1153.8L500.0 1153.7L503.0 1153.6L506.0 1153.5L509.0 1153.3L512.0 1153.2L515.0 1153.1L518.0 1153.0L521.0 1152.9L524.0 1152.8L527.0 1152.8L530.0 1152.8L533.0 1152.8L536.0 1152.8L539.0 1152.8L542.0 1152.8L545.0 1152.8L548.0 1152.8L551.0 1152.8L554.0 1152.8L557.0 1152.7L560.0 1152.7L563.0 1152.7L566.0 1152.7L569.0 1152.7L572.0 1152.7L575.0 1152.7L578.0 1152.7L581.0 1152.7L584.0 1152.7L587.0 1152.7L590.0 1152.7L593.0 1152.7L596.0 1152.7L599.0 1152.7L602.0 1152.7L605.0 1152.7L608.0 1152.7L611.0 1152.7L614.0 1152.7L617.0 1152.7L620.0 1152.7L623.0 1152.7L626.0 1152.7L629.0 1152.7L632.0 1152.7L635.0 1152.7L638.0 1152.7L641.0 1152.7L644.0 1152.7L647.0 1152.7L650.0 1152.7L653.0 1152.7L656.0 1152.7" stroke="#0c0cdc" stroke-width="2.4"/>
<path d="M63.1 1125.2L64.1 1128.0L65.1 1130.7L66.1 1133.1L67.1 1135.1L68.1 1136.6L69.1 1137.5L70.1 1137.6L71.1 1137.1L72.1 1136.0L73.1 1134.4L74.1 1132.6L75.1 1130.5L76.1 1128.5L77.1 1126.5L78.1 1124.7L79.1 1123.3L80.1 1122.4L81.1 1122.0L82.1 1122.3L83.1 1123.1L84.1 1124.4L85.1 1125.9L86.1 1127.7L87.1 1129.6L88.1 1131.4L89.1 1133.1L90.1 1134.6L91.1 1135.8L92.1 1136.5L93.1 1136.7L94.1 1136.5L95.1 1135.8L96.1 1134.8L97.1 1133.6L98.1 1132.2L99.1 1130.8L100.1 1129.4L101.1 1128.2L102.1 1127.2L103.1 1126.4L104.1 1126.1L105.1 1126.1L106.1 1126.5L107.1 1127.3L108.1 1128.4L109.1 1129.7L110.1 1131.2L111.1 1132.9L112.1 1134.8L113.1 1136.8L114.1 1138.8L115.0 1140.7L116.0 1135.9L117.0 1130.8L118.0 1125.6L119.0 1120.2L120.0 1114.5L121.0 1108.6L122.0 1102.3L123.0 1095.8L124.0 1089.3L125.0 1082.9L126.0 1077.0L127.0 1071.4L128.0 1066.2L129.0 1061.4L130.0 1057.0L131.0 1053.2L132.0 1050.1L133.0 1048.1L134.0 1047.9L135.0 1049.6L136.0 1052.5L137.0 1056.2L138.0 1060.2L139.0 1064.7L140.0 1069.4L141.0 1074.1L142.0 1078.7L143.0 1083.2L144.0 1087.7L145.0 1091.9L146.0 1095.8L147.0 1099.3L148.0 1102.3L149.0 1104.9L150.0 1107.2L151.0 1108.9L152.0 1110.3L153.0 1111.3L154.0 1112.1L155.0 1112.9L156.0 1113.5L157.0 1114.2L158.0 1114.9L159.0 1115.6L160.0 1116.2L161.0 1116.9L162.0 1117.5L163.0 1118.1L164.0 1118.7L165.0 1119.3L166.0 1119.9L167.0 1120.4L168.0 1120.9L169.0 1121.2L170.0 1121.3L171.0 1121.3L172.0 1121.1L173.0 1120.9L174.0 1120.6L175.0 1120.3L176.0 1120.1L177.0 1119.9L178.0 1119.8L179.0 1119.8L180.0 1119.8L181.0 1119.8L182.0 1119.8L183.0 1119.8L184.0 1119.8L185.0 1119.8L186.0 1119.7L187.0 1119.5L188.0 1119.3L189.0 1119.0L190.0 1118.7L191.0 1118.4L192.0 1118.1L193.0 1117.7L194.0 1117.2L195.0 1116.6L196.0 1116.0L197.0 1115.3L198.0 1114.8L199.0 1114.3L200.0 1113.9L201.0 1113.6L202.0 1113.4L203.0 1113.2L204.0 1113.0L205.0 1112.8L206.0 1112.7L207.0 1112.5L208.0 1112.3L209.0 1112.2L210.0 1112.0L211.0 1111.8L212.0 1111.6L213.0 1111.3L214.0 1111.0L215.0 1110.6L216.0 1110.2L217.0 1109.7L218.0 1109.2L219.0 1108.8L220.0 1108.3L221.0 1107.8L222.0 1107.4L223.0 1107.0L224.0 1106.7L225.0 1106.4L226.0 1106.2L227.0 1106.0L228.0 1105.8L229.0 1105.7L230.0 1105.5L231.0 1105.4L232.0 1105.2L233.0 1105.1L234.0 1105.0L235.0 1104.9L236.0 1104.8L237.0 1104.8L238.0 1104.8L239.0 1104.8L240.0 1104.9L241.0 1105.0L242.0 1105.2L243.0 1105.5L244.0 1105.8L245.0 1106.1L246.0 1106.5L247.0 1106.8L248.0 1107.2L249.0 1107.6L250.0 1107.9L251.0 1108.2L252.0 1108.5L253.0 1108.8L254.0 1109.1L255.0 1109.3L256.0 1109.6L257.0 1109.9L258.0 1110.2L259.0 1110.5L260.0 1110.8L263.0 1111.5L266.0 1112.1L269.0 1112.5L272.0 1112.7L275.0 1112.9L278.0 1113.1L281.0 1113.2L284.0 1113.2L287.0 1113.2L290.0 1113.1L293.0 1112.9L296.0 1112.7L299.0 1112.5L302.0 1112.2L305.0 1111.9L308.0 1111.4L311.0 1110.9L314.0 1110.4L317.0 1109.9L320.0 1109.4L323.0 1108.9L326.0 1108.4L329.0 1108.0L332.0 1107.7L335.0 1107.6L338.0 1107.5L341.0 1107.5L344.0 1107.5L347.0 1107.8L350.0 1108.2L353.0 1108.8L356.0 1109.4L359.0 1110.0L362.0 1110.7L365.0 1111.4L368.0 1112.0L371.0 1112.3L374.0 1112.6L377.0 1112.8L380.0 1113.0L383.0 1113.0L386.0 1113.0L389.0 1112.8L392.0 1112.6L395.0 1112.4L398.0 1112.2L401.0 1111.9L404.0 1111.6L407.0 1111.3L410.0 1110.9L413.0 1110.6L416.0 1110.3L419.0 1110.0L422.0 1109.6L425.0 1109.3L428.0 1109.0L431.0 1108.8L434.0 1108.7L437.0 1108.7L440.0 1108.9L443.0 1109.0L446.0 1109.3L449.0 1109.5L452.0 1109.8L455.0 1110.0L458.0 1110.3L461.0 1110.5L464.0 1110.6L467.0 1110.8L470.0 1110.9L473.0 1111.1L476.0 1111.3L479.0 1111.4L482.0 1111.5L485.0 1111.6L488.0 1111.7L491.0 1111.7L494.0 1111.7L497.0 1111.7L500.0 1111.6L503.0 1111.5L506.0 1111.3L509.0 1111.2L512.0 1111.1L515.0 1110.9L518.0 1110.8L521.0 1110.7L524.0 1110.7L527.0 1110.7L530.0 1110.7L533.0 1110.6L536.0 1110.6L539.0 1110.6L542.0 1110.6L545.0 1110.6L548.0 1110.6L551.0 1110.6L554.0 1110.6L557.0 1110.6L560.0 1110.6L563.0 1110.6L566.0 1110.6L569.0 1110.6L572.0 1110.6L575.0 1110.6L578.0 1110.6L581.0 1110.6L584.0 1110.6L587.0 1110.6L590.0 1110.6L593.0 1110.6L596.0 1110.6L599.0 1110.6L602.0 1110.6L605.0 1110.6L608.0 1110.6L611.0 1110.6L614.0 1110.6L617.0 1110.6L620.0 1110.6L623.0 1110.6L626.0 1110.6L629.0 1110.6L632.0 1110.6L635.0 1110.6L638.0 1110.6L641.0 1110.6L644.0 1110.6L647.0 1110.6L650.0 1110.6L653.0 1110.6L656.0 1110.6" stroke="#0c0cdc" stroke-width="2.4"/>
<path d="M63.1 1083.0L64.1 1085.8L65.1 1088.5L66.1 1090.9L67.1 1092.9L68.1 1094.5L69.1 1095.3L70.1 1095.5L71.1 1094.9L72.1 1093.8L73.1 1092.3L74.1 1090.4L75.1 1088.4L76.1 1086.3L77.1 1084.3L78.1 1082.6L79.1 1081.2L80.1 1080.2L81.1 1079.9L82.1 1080.2L83.1 1081.0L84.1 1082.2L85.1 1083.8L86.1 1085.5L87.1 1087.4L88.1 1089.3L89.1 1091.0L90.1 1092.5L91.1 1093.7L92.1 1094.4L93.1 1094.6L94.1 1094.3L95.1 1093.6L96.1 1092.6L97.1 1091.4L98.1 1090.0L99.1 1088.6L100.1 1087.3L101.1 1086.0L102.1 1085.0L103.1 1084.3L104.1 1083.9L105.1 1084.0L106.1 1084.4L107.1 1085.1L108.1 1086.2L109.1 1087.5L110.1 1089.0L111.1 1090.8L112.1 1092.6L113.1 1094.6L114.1 1096.7L115.0 1098.5L116.0 1093.8L117.0 1088.7L118.0 1083.5L119.0 1078.1L120.0 1072.4L121.0 1066.4L122.0 1060.1L123.0 1053.5L124.0 1046.9L125.0 1040.5L126.0 1034.4L127.0 1028.8L128.0 1023.5L129.0 1018.6L130.0 1014.2L131.0 1010.4L132.0 1007.2L133.0 1005.2L134.0 1005.0L135.0 1006.7L136.0 1009.7L137.0 1013.4L138.0 1017.5L139.0 1022.0L140.0 1026.7L141.0 1031.5L142.0 1036.2L143.0 1040.7L144.0 1045.2L145.0 1049.5L146.0 1053.5L147.0 1057.0L148.0 1060.0L149.0 1062.7L150.0 1065.0L151.0 1066.8L152.0 1068.1L153.0 1069.2L154.0 1070.0L155.0 1070.7L156.0 1071.4L157.0 1072.1L158.0 1072.8L159.0 1073.5L160.0 1074.2L161.0 1074.8L162.0 1075.4L163.0 1076.0L164.0 1076.6L165.0 1077.2L166.0 1077.8L167.0 1078.4L168.0 1078.9L169.0 1079.2L170.0 1079.3L171.0 1079.2L172.0 1079.1L173.0 1078.8L174.0 1078.6L175.0 1078.3L176.0 1078.0L177.0 1077.8L178.0 1077.7L179.0 1077.7L180.0 1077.7L181.0 1077.7L182.0 1077.7L183.0 1077.8L184.0 1077.8L185.0 1077.7L186.0 1077.6L187.0 1077.5L188.0 1077.3L189.0 1077.0L190.0 1076.7L191.0 1076.4L192.0 1076.0L193.0 1075.6L194.0 1075.1L195.0 1074.5L196.0 1073.9L197.0 1073.2L198.0 1072.7L199.0 1072.2L200.0 1071.8L201.0 1071.5L202.0 1071.3L203.0 1071.0L204.0 1070.9L205.0 1070.7L206.0 1070.5L207.0 1070.4L208.0 1070.2L209.0 1070.0L210.0 1069.9L211.0 1069.7L212.0 1069.4L213.0 1069.1L214.0 1068.8L215.0 1068.4L216.0 1068.0L217.0 1067.5L218.0 1067.1L219.0 1066.6L220.0 1066.1L221.0 1065.6L222.0 1065.2L223.0 1064.8L224.0 1064.5L225.0 1064.2L226.0 1064.0L227.0 1063.8L228.0 1063.6L229.0 1063.5L230.0 1063.3L231.0 1063.1L232.0 1063.0L233.0 1062.9L234.0 1062.8L235.0 1062.7L236.0 1062.6L237.0 1062.6L238.0 1062.5L239.0 1062.6L240.0 1062.6L241.0 1062.8L242.0 1063.0L243.0 1063.2L244.0 1063.5L245.0 1063.9L246.0 1064.2L247.0 1064.6L248.0 1065.0L249.0 1065.4L250.0 1065.7L251.0 1066.0L252.0 1066.3L253.0 1066.6L254.0 1066.9L255.0 1067.2L256.0 1067.5L257.0 1067.8L258.0 1068.1L259.0 1068.4L260.0 1068.6L263.0 1069.4L266.0 1070.0L269.0 1070.3L272.0 1070.6L275.0 1070.8L278.0 1070.9L281.0 1071.1L284.0 1071.1L287.0 1071.1L290.0 1071.0L293.0 1070.8L296.0 1070.6L299.0 1070.4L302.0 1070.1L305.0 1069.7L308.0 1069.3L311.0 1068.7L314.0 1068.2L317.0 1067.7L320.0 1067.3L323.0 1066.7L326.0 1066.2L329.0 1065.8L332.0 1065.5L335.0 1065.4L338.0 1065.3L341.0 1065.3L344.0 1065.3L347.0 1065.6L350.0 1066.0L353.0 1066.6L356.0 1067.2L359.0 1067.8L362.0 1068.6L365.0 1069.3L368.0 1069.8L371.0 1070.2L374.0 1070.5L377.0 1070.7L380.0 1070.9L383.0 1070.9L386.0 1070.8L389.0 1070.7L392.0 1070.5L395.0 1070.3L398.0 1070.0L401.0 1069.8L404.0 1069.5L407.0 1069.1L410.0 1068.8L413.0 1068.4L416.0 1068.1L419.0 1067.8L422.0 1067.4L425.0 1067.1L428.0 1066.8L431.0 1066.6L434.0 1066.5L437.0 1066.6L440.0 1066.7L443.0 1066.9L446.0 1067.1L449.0 1067.3L452.0 1067.6L455.0 1067.9L458.0 1068.1L461.0 1068.3L464.0 1068.5L467.0 1068.6L470.0 1068.8L473.0 1069.0L476.0 1069.1L479.0 1069.2L482.0 1069.4L485.0 1069.5L488.0 1069.5L491.0 1069.6L494.0 1069.6L497.0 1069.5L500.0 1069.4L503.0 1069.3L506.0 1069.2L509.0 1069.0L512.0 1068.9L515.0 1068.8L518.0 1068.7L521.0 1068.6L524.0 1068.5L527.0 1068.5L530.0 1068.5L533.0 1068.5L536.0 1068.5L539.0 1068.5L542.0 1068.5L545.0 1068.5L548.0 1068.4L551.0 1068.4L554.0 1068.4L557.0 1068.4L560.0 1068.4L563.0 1068.4L566.0 1068.4L569.0 1068.4L572.0 1068.4L575.0 1068.4L578.0 1068.4L581.0 1068.4L584.0 1068.4L587.0 1068.4L590.0 1068.4L593.0 1068.4L596.0 1068.4L599.0 1068.4L602.0 1068.4L605.0 1068.4L608.0 1068.4L611.0 1068.4L614.0 1068.4L617.0 1068.4L620.0 1068.4L623.0 1068.4L626.0 1068.4L629.0 1068.4L632.0 1068.4L635.0 1068.4L638.0 1068.4L641.0 1068.4L644.0 1068.4L647.0 1068.4L650.0 1068.4L653.0 1068.4L656.0 1068.4" stroke="#0c0cdc" stroke-width="2.4"/>
<path d="M63.1 1040.9L64.1 1043.7L65.1 1046.3L66.1 1048.8L67.1 1050.8L68.1 1052.3L69.1 1053.2L70.1 1053.3L71.1 1052.8L72.1 1051.6L73.1 1050.1L74.1 1048.2L75.1 1046.2L76.1 1044.2L77.1 1042.2L78.1 1040.4L79.1 1039.0L80.1 1038.1L81.1 1037.7L82.1 1038.0L83.1 1038.8L84.1 1040.1L85.1 1041.6L86.1 1043.4L87.1 1045.2L88.1 1047.1L89.1 1048.8L90.1 1050.3L91.1 1051.5L92.1 1052.2L93.1 1052.4L94.1 1052.1L95.1 1051.5L96.1 1050.5L97.1 1049.2L98.1 1047.9L99.1 1046.5L100.1 1045.1L101.1 1043.9L102.1 1042.8L103.1 1042.1L104.1 1041.7L105.1 1041.8L106.1 1042.2L107.1 1043.0L108.1 1044.0L109.1 1045.4L110.1 1046.9L111.1 1048.6L112.1 1050.5L113.1 1052.5L114.1 1054.5L115.0 1056.4L116.0 1051.6L117.0 1046.6L118.0 1041.4L119.0 1036.0L120.0 1030.3L121.0 1024.3L122.0 1017.9L123.0 1011.2L124.0 1004.5L125.0 998.0L126.0 991.9L127.0 986.1L128.0 980.8L129.0 975.9L130.0 971.4L131.0 967.5L132.0 964.3L133.0 962.3L134.0 962.1L135.0 963.8L136.0 966.8L137.0 970.5L138.0 974.7L139.0 979.3L140.0 984.1L141.0 988.9L142.0 993.6L143.0 998.3L144.0 1002.8L145.0 1007.1L146.0 1011.1L147.0 1014.7L148.0 1017.8L149.0 1020.5L150.0 1022.8L151.0 1024.6L152.0 1025.9L153.0 1027.0L154.0 1027.9L155.0 1028.6L156.0 1029.3L157.0 1030.0L158.0 1030.7L159.0 1031.4L160.0 1032.1L161.0 1032.7L162.0 1033.4L163.0 1034.0L164.0 1034.6L165.0 1035.2L166.0 1035.8L167.0 1036.4L168.0 1036.8L169.0 1037.1L170.0 1037.3L171.0 1037.2L172.0 1037.1L173.0 1036.8L174.0 1036.5L175.0 1036.2L176.0 1036.0L177.0 1035.8L178.0 1035.7L179.0 1035.7L180.0 1035.7L181.0 1035.7L182.0 1035.7L183.0 1035.7L184.0 1035.7L185.0 1035.7L186.0 1035.6L187.0 1035.4L188.0 1035.2L189.0 1034.9L190.0 1034.6L191.0 1034.3L192.0 1033.9L193.0 1033.5L194.0 1033.0L195.0 1032.4L196.0 1031.8L197.0 1031.1L198.0 1030.6L199.0 1030.1L200.0 1029.7L201.0 1029.4L202.0 1029.1L203.0 1028.9L204.0 1028.7L205.0 1028.6L206.0 1028.4L207.0 1028.2L208.0 1028.1L209.0 1027.9L210.0 1027.7L211.0 1027.5L212.0 1027.3L213.0 1027.0L214.0 1026.7L215.0 1026.3L216.0 1025.8L217.0 1025.4L218.0 1024.9L219.0 1024.4L220.0 1023.9L221.0 1023.4L222.0 1023.0L223.0 1022.6L224.0 1022.3L225.0 1022.0L226.0 1021.8L227.0 1021.6L228.0 1021.4L229.0 1021.2L230.0 1021.1L231.0 1020.9L232.0 1020.8L233.0 1020.7L234.0 1020.6L235.0 1020.5L236.0 1020.4L237.0 1020.3L238.0 1020.3L239.0 1020.3L240.0 1020.4L241.0 1020.5L242.0 1020.8L243.0 1021.0L244.0 1021.3L245.0 1021.7L246.0 1022.0L247.0 1022.4L248.0 1022.8L249.0 1023.2L250.0 1023.5L251.0 1023.8L252.0 1024.1L253.0 1024.4L254.0 1024.7L255.0 1025.0L256.0 1025.3L257.0 1025.6L258.0 1025.9L259.0 1026.2L260.0 1026.5L263.0 1027.3L266.0 1027.8L269.0 1028.2L272.0 1028.4L275.0 1028.6L278.0 1028.8L281.0 1028.9L284.0 1029.0L287.0 1028.9L290.0 1028.8L293.0 1028.7L296.0 1028.5L299.0 1028.2L302.0 1028.0L305.0 1027.6L308.0 1027.1L311.0 1026.6L314.0 1026.1L317.0 1025.6L320.0 1025.1L323.0 1024.6L326.0 1024.1L329.0 1023.6L332.0 1023.3L335.0 1023.2L338.0 1023.1L341.0 1023.1L344.0 1023.1L347.0 1023.4L350.0 1023.9L353.0 1024.4L356.0 1025.0L359.0 1025.7L362.0 1026.4L365.0 1027.1L368.0 1027.7L371.0 1028.0L374.0 1028.3L377.0 1028.6L380.0 1028.7L383.0 1028.8L386.0 1028.7L389.0 1028.6L392.0 1028.4L395.0 1028.1L398.0 1027.9L401.0 1027.6L404.0 1027.3L407.0 1027.0L410.0 1026.6L413.0 1026.3L416.0 1026.0L419.0 1025.6L422.0 1025.3L425.0 1024.9L428.0 1024.6L431.0 1024.4L434.0 1024.3L437.0 1024.4L440.0 1024.5L443.0 1024.7L446.0 1024.9L449.0 1025.2L452.0 1025.4L455.0 1025.7L458.0 1025.9L461.0 1026.2L464.0 1026.3L467.0 1026.5L470.0 1026.6L473.0 1026.8L476.0 1027.0L479.0 1027.1L482.0 1027.2L485.0 1027.3L488.0 1027.4L491.0 1027.4L494.0 1027.4L497.0 1027.4L500.0 1027.3L503.0 1027.2L506.0 1027.0L509.0 1026.9L512.0 1026.8L515.0 1026.6L518.0 1026.5L521.0 1026.4L524.0 1026.4L527.0 1026.4L530.0 1026.3L533.0 1026.3L536.0 1026.3L539.0 1026.3L542.0 1026.3L545.0 1026.3L548.0 1026.3L551.0 1026.3L554.0 1026.3L557.0 1026.3L560.0 1026.3L563.0 1026.3L566.0 1026.3L569.0 1026.3L572.0 1026.3L575.0 1026.3L578.0 1026.3L581.0 1026.3L584.0 1026.3L587.0 1026.3L590.0 1026.3L593.0 1026.3L596.0 1026.3L599.0 1026.3L602.0 1026.3L605.0 1026.3L608.0 1026.3L611.0 1026.3L614.0 1026.3L617.0 1026.3L620.0 1026.3L623.0 1026.3L626.0 1026.3L629.0 1026.3L632.0 1026.3L635.0 1026.3L638.0 1026.3L641.0 1026.3L644.0 1026.3L647.0 1026.3L650.0 1026.3L653.0 1026.3L656.0 1026.3" stroke="#0c0cdc" stroke-width="2.4"/>
<path d="M63.1 998.7L64.1 1001.5L65.1 1004.2L66.1 1006.6L67.1 1008.6L68.1 1010.1L69.1 1011.0L70.1 1011.2L71.1 1010.6L72.1 1009.5L73.1 1007.9L74.1 1006.1L75.1 1004.1L76.1 1002.0L77.1 1000.0L78.1 998.3L79.1 996.8L80.1 995.9L81.1 995.6L82.1 995.8L83.1 996.7L84.1 997.9L85.1 999.5L86.1 1001.2L87.1 1003.1L88.1 1004.9L89.1 1006.7L90.1 1008.2L91.1 1009.3L92.1 1010.1L93.1 1010.3L94.1 1010.0L95.1 1009.3L96.1 1008.3L97.1 1007.1L98.1 1005.7L99.1 1004.3L100.1 1003.0L101.1 1001.7L102.1 1000.7L103.1 999.9L104.1 999.6L105.1 999.6L106.1 1000.1L107.1 1000.8L108.1 1001.9L109.1 1003.2L110.1 1004.7L111.1 1006.5L112.1 1008.3L113.1 1010.3L114.1 1012.3L115.0 1014.2L116.0 1009.5L117.0 1004.5L118.0 999.3L119.0 993.9L120.0 988.2L121.0 982.1L122.0 975.6L123.0 968.9L124.0 962.1L125.0 955.5L126.0 949.3L127.0 943.5L128.0 938.1L129.0 933.1L130.0 928.6L131.0 924.7L132.0 921.4L133.0 919.4L134.0 919.2L135.0 920.9L136.0 924.0L137.0 927.7L138.0 931.9L139.0 936.5L140.0 941.4L141.0 946.3L142.0 951.1L143.0 955.8L144.0 960.4L145.0 964.8L146.0 968.8L147.0 972.4L148.0 975.5L149.0 978.2L150.0 980.6L151.0 982.4L152.0 983.8L153.0 984.9L154.0 985.7L155.0 986.5L156.0 987.2L157.0 987.9L158.0 988.6L159.0 989.3L160.0 990.0L161.0 990.7L162.0 991.3L163.0 991.9L164.0 992.5L165.0 993.1L166.0 993.8L167.0 994.3L168.0 994.8L169.0 995.1L170.0 995.2L171.0 995.2L172.0 995.0L173.0 994.8L174.0 994.5L175.0 994.2L176.0 993.9L177.0 993.8L178.0 993.6L179.0 993.6L180.0 993.6L181.0 993.6L182.0 993.7L183.0 993.7L184.0 993.7L185.0 993.6L186.0 993.5L187.0 993.4L188.0 993.1L189.0 992.9L190.0 992.6L191.0 992.2L192.0 991.9L193.0 991.5L194.0 991.0L195.0 990.4L196.0 989.7L197.0 989.0L198.0 988.4L199.0 987.9L200.0 987.6L201.0 987.3L202.0 987.0L203.0 986.8L204.0 986.6L205.0 986.4L206.0 986.3L207.0 986.1L208.0 985.9L209.0 985.8L210.0 985.6L211.0 985.4L212.0 985.1L213.0 984.8L214.0 984.5L215.0 984.1L216.0 983.7L217.0 983.2L218.0 982.7L219.0 982.2L220.0 981.7L221.0 981.3L222.0 980.8L223.0 980.4L224.0 980.1L225.0 979.8L226.0 979.6L227.0 979.4L228.0 979.2L229.0 979.0L230.0 978.9L231.0 978.7L232.0 978.6L233.0 978.4L234.0 978.3L235.0 978.2L236.0 978.2L237.0 978.1L238.0 978.1L239.0 978.1L240.0 978.2L241.0 978.3L242.0 978.5L243.0 978.8L244.0 979.1L245.0 979.5L246.0 979.8L247.0 980.2L248.0 980.6L249.0 981.0L250.0 981.3L251.0 981.6L252.0 981.9L253.0 982.2L254.0 982.5L255.0 982.8L256.0 983.1L257.0 983.4L258.0 983.7L259.0 984.0L260.0 984.3L263.0 985.1L266.0 985.7L269.0 986.1L272.0 986.3L275.0 986.5L278.0 986.7L281.0 986.8L284.0 986.8L287.0 986.8L290.0 986.7L293.0 986.5L296.0 986.3L299.0 986.1L302.0 985.8L305.0 985.5L308.0 985.0L311.0 984.4L314.0 983.9L317.0 983.4L320.0 982.9L323.0 982.4L326.0 981.9L329.0 981.4L332.0 981.2L335.0 981.0L338.0 981.0L341.0 980.9L344.0 980.9L347.0 981.2L350.0 981.7L353.0 982.3L356.0 982.8L359.0 983.5L362.0 984.2L365.0 985.0L368.0 985.5L371.0 985.9L374.0 986.2L377.0 986.5L380.0 986.6L383.0 986.6L386.0 986.6L389.0 986.4L392.0 986.2L395.0 986.0L398.0 985.7L401.0 985.5L404.0 985.2L407.0 984.9L410.0 984.5L413.0 984.1L416.0 983.8L419.0 983.5L422.0 983.1L425.0 982.7L428.0 982.5L431.0 982.2L434.0 982.2L437.0 982.2L440.0 982.3L443.0 982.5L446.0 982.7L449.0 983.0L452.0 983.3L455.0 983.5L458.0 983.8L461.0 984.0L464.0 984.2L467.0 984.3L470.0 984.5L473.0 984.7L476.0 984.8L479.0 985.0L482.0 985.1L485.0 985.2L488.0 985.2L491.0 985.3L494.0 985.3L497.0 985.2L500.0 985.1L503.0 985.0L506.0 984.9L509.0 984.7L512.0 984.6L515.0 984.5L518.0 984.4L521.0 984.3L524.0 984.2L527.0 984.2L530.0 984.2L533.0 984.2L536.0 984.2L539.0 984.2L542.0 984.1L545.0 984.1L548.0 984.1L551.0 984.1L554.0 984.1L557.0 984.1L560.0 984.1L563.0 984.1L566.0 984.1L569.0 984.1L572.0 984.1L575.0 984.1L578.0 984.1L581.0 984.1L584.0 984.1L587.0 984.1L590.0 984.1L593.0 984.1L596.0 984.1L599.0 984.1L602.0 984.1L605.0 984.1L608.0 984.1L611.0 984.1L614.0 984.1L617.0 984.1L620.0 984.1L623.0 984.1L626.0 984.1L629.0 984.1L632.0 984.1L635.0 984.1L638.0 984.1L641.0 984.1L644.0 984.1L647.0 984.1L650.0 984.1L653.0 984.1L656.0 984.1" stroke="#0c0cdc" stroke-width="2.4"/>
<path d="M63.1 956.6L64.1 959.4L65.1 962.0L66.1 964.4L67.1 966.5L68.1 968.0L69.1 968.9L70.1 969.0L71.1 968.4L72.1 967.3L73.1 965.8L74.1 963.9L75.1 961.9L76.1 959.8L77.1 957.9L78.1 956.1L79.1 954.7L80.1 953.7L81.1 953.4L82.1 953.7L83.1 954.5L84.1 955.8L85.1 957.3L86.1 959.1L87.1 960.9L88.1 962.8L89.1 964.5L90.1 966.0L91.1 967.2L92.1 967.9L93.1 968.1L94.1 967.8L95.1 967.1L96.1 966.1L97.1 964.9L98.1 963.6L99.1 962.2L100.1 960.8L101.1 959.6L102.1 958.5L103.1 957.8L104.1 957.4L105.1 957.5L106.1 957.9L107.1 958.7L108.1 959.7L109.1 961.0L110.1 962.6L111.1 964.3L112.1 966.2L113.1 968.1L114.1 970.2L115.0 972.1L116.0 967.4L117.0 962.4L118.0 957.2L119.0 951.8L120.0 946.0L121.0 939.9L122.0 933.4L123.0 926.6L124.0 919.7L125.0 913.0L126.0 906.7L127.0 900.9L128.0 895.4L129.0 890.3L130.0 885.8L131.0 881.8L132.0 878.5L133.0 876.5L134.0 876.3L135.0 878.0L136.0 881.1L137.0 884.9L138.0 889.2L139.0 893.8L140.0 898.8L141.0 903.7L142.0 908.5L143.0 913.3L144.0 917.9L145.0 922.4L146.0 926.5L147.0 930.1L148.0 933.2L149.0 936.0L150.0 938.4L151.0 940.2L152.0 941.6L153.0 942.7L154.0 943.6L155.0 944.4L156.0 945.1L157.0 945.8L158.0 946.5L159.0 947.2L160.0 947.9L161.0 948.6L162.0 949.2L163.0 949.8L164.0 950.5L165.0 951.1L166.0 951.7L167.0 952.3L168.0 952.8L169.0 953.1L170.0 953.2L171.0 953.2L172.0 953.0L173.0 952.7L174.0 952.5L175.0 952.2L176.0 951.9L177.0 951.7L178.0 951.6L179.0 951.6L180.0 951.6L181.0 951.6L182.0 951.6L183.0 951.6L184.0 951.6L185.0 951.6L186.0 951.5L187.0 951.3L188.0 951.1L189.0 950.8L190.0 950.5L191.0 950.2L192.0 949.8L193.0 949.4L194.0 948.9L195.0 948.3L196.0 947.6L197.0 947.0L198.0 946.3L199.0 945.8L200.0 945.4L201.0 945.1L202.0 944.9L203.0 944.7L204.0 944.5L205.0 944.3L206.0 944.1L207.0 944.0L208.0 943.8L209.0 943.6L210.0 943.4L211.0 943.2L212.0 943.0L213.0 942.7L214.0 942.4L215.0 942.0L216.0 941.5L217.0 941.0L218.0 940.5L219.0 940.0L220.0 939.5L221.0 939.1L222.0 938.6L223.0 938.2L224.0 937.9L225.0 937.6L226.0 937.4L227.0 937.2L228.0 937.0L229.0 936.8L230.0 936.6L231.0 936.5L232.0 936.3L233.0 936.2L234.0 936.1L235.0 936.0L236.0 935.9L237.0 935.9L238.0 935.9L239.0 935.9L240.0 935.9L241.0 936.1L242.0 936.3L243.0 936.6L244.0 936.9L245.0 937.2L246.0 937.6L247.0 938.0L248.0 938.4L249.0 938.8L250.0 939.1L251.0 939.5L252.0 939.8L253.0 940.1L254.0 940.4L255.0 940.7L256.0 941.0L257.0 941.3L258.0 941.6L259.0 941.9L260.0 942.2L263.0 943.0L266.0 943.6L269.0 943.9L272.0 944.2L275.0 944.4L278.0 944.6L281.0 944.7L284.0 944.7L287.0 944.7L290.0 944.6L293.0 944.4L296.0 944.2L299.0 944.0L302.0 943.7L305.0 943.3L308.0 942.8L311.0 942.3L314.0 941.7L317.0 941.2L320.0 940.7L323.0 940.2L326.0 939.7L329.0 939.2L332.0 939.0L335.0 938.8L338.0 938.8L341.0 938.7L344.0 938.7L347.0 939.0L350.0 939.5L353.0 940.1L356.0 940.7L359.0 941.3L362.0 942.1L365.0 942.8L368.0 943.4L371.0 943.8L374.0 944.1L377.0 944.3L380.0 944.5L383.0 944.5L386.0 944.4L389.0 944.3L392.0 944.1L395.0 943.9L398.0 943.6L401.0 943.4L404.0 943.1L407.0 942.7L410.0 942.3L413.0 942.0L416.0 941.7L419.0 941.3L422.0 940.9L425.0 940.6L428.0 940.3L431.0 940.1L434.0 940.0L437.0 940.0L440.0 940.2L443.0 940.3L446.0 940.6L449.0 940.8L452.0 941.1L455.0 941.4L458.0 941.6L461.0 941.8L464.0 942.0L467.0 942.2L470.0 942.3L473.0 942.5L476.0 942.7L479.0 942.8L482.0 942.9L485.0 943.0L488.0 943.1L491.0 943.1L494.0 943.1L497.0 943.1L500.0 943.0L503.0 942.9L506.0 942.7L509.0 942.6L512.0 942.5L515.0 942.3L518.0 942.2L521.0 942.1L524.0 942.1L527.0 942.0L530.0 942.0L533.0 942.0L536.0 942.0L539.0 942.0L542.0 942.0L545.0 942.0L548.0 942.0L551.0 942.0L554.0 942.0L557.0 942.0L560.0 942.0L563.0 942.0L566.0 942.0L569.0 942.0L572.0 942.0L575.0 942.0L578.0 942.0L581.0 942.0L584.0 942.0L587.0 942.0L590.0 942.0L593.0 942.0L596.0 942.0L599.0 942.0L602.0 942.0L605.0 942.0L608.0 942.0L611.0 942.0L614.0 942.0L617.0 942.0L620.0 942.0L623.0 942.0L626.0 942.0L629.0 942.0L632.0 942.0L635.0 942.0L638.0 942.0L641.0 942.0L644.0 942.0L647.0 942.0L650.0 942.0L653.0 942.0L656.0 942.0" stroke="#0c0cdc" stroke-width="2.4"/>
<path d="M63.1 914.4L64.1 917.2L65.1 919.9L66.1 922.3L67.1 924.3L68.1 925.8L69.1 926.7L70.1 926.8L71.1 926.3L72.1 925.2L73.1 923.6L74.1 921.8L75.1 919.7L76.1 917.7L77.1 915.7L78.1 913.9L79.1 912.5L80.1 911.6L81.1 911.2L82.1 911.5L83.1 912.4L84.1 913.6L85.1 915.2L86.1 916.9L87.1 918.8L88.1 920.6L89.1 922.4L90.1 923.9L91.1 925.0L92.1 925.8L93.1 926.0L94.1 925.7L95.1 925.0L96.1 924.0L97.1 922.8L98.1 921.4L99.1 920.0L100.1 918.6L101.1 917.4L102.1 916.4L103.1 915.6L104.1 915.3L105.1 915.3L106.1 915.8L107.1 916.5L108.1 917.6L109.1 918.9L110.1 920.4L111.1 922.1L112.1 924.0L113.1 926.0L114.1 928.0L115.0 929.9L116.0 925.3L117.0 920.3L118.0 915.1L119.0 909.6L120.0 903.9L121.0 897.8L122.0 891.2L123.0 884.3L124.0 877.3L125.0 870.6L126.0 864.2L127.0 858.2L128.0 852.7L129.0 847.6L130.0 843.0L131.0 839.0L132.0 835.7L133.0 833.6L134.0 833.4L135.0 835.1L136.0 838.3L137.0 842.1L138.0 846.4L139.0 851.1L140.0 856.1L141.0 861.1L142.0 866.0L143.0 870.8L144.0 875.5L145.0 880.0L146.0 884.1L147.0 887.8L148.0 891.0L149.0 893.8L150.0 896.2L151.0 898.0L152.0 899.5L153.0 900.6L154.0 901.4L155.0 902.2L156.0 902.9L157.0 903.7L158.0 904.4L159.0 905.1L160.0 905.8L161.0 906.5L162.0 907.1L163.0 907.8L164.0 908.4L165.0 909.0L166.0 909.7L167.0 910.3L168.0 910.7L169.0 911.1L170.0 911.2L171.0 911.1L172.0 911.0L173.0 910.7L174.0 910.4L175.0 910.1L176.0 909.9L177.0 909.7L178.0 909.6L179.0 909.5L180.0 909.5L181.0 909.5L182.0 909.6L183.0 909.6L184.0 909.6L185.0 909.5L186.0 909.4L187.0 909.3L188.0 909.0L189.0 908.8L190.0 908.4L191.0 908.1L192.0 907.7L193.0 907.3L194.0 906.8L195.0 906.2L196.0 905.5L197.0 904.9L198.0 904.2L199.0 903.7L200.0 903.3L201.0 903.0L202.0 902.8L203.0 902.5L204.0 902.3L205.0 902.2L206.0 902.0L207.0 901.8L208.0 901.7L209.0 901.5L210.0 901.3L211.0 901.1L212.0 900.8L213.0 900.5L214.0 900.2L215.0 899.8L216.0 899.4L217.0 898.9L218.0 898.4L219.0 897.9L220.0 897.4L221.0 896.9L222.0 896.4L223.0 896.0L224.0 895.7L225.0 895.4L226.0 895.1L227.0 894.9L228.0 894.8L229.0 894.6L230.0 894.4L231.0 894.3L232.0 894.1L233.0 894.0L234.0 893.9L235.0 893.8L236.0 893.7L237.0 893.7L238.0 893.6L239.0 893.6L240.0 893.7L241.0 893.9L242.0 894.1L243.0 894.4L244.0 894.7L245.0 895.0L246.0 895.4L247.0 895.8L248.0 896.2L249.0 896.6L250.0 896.9L251.0 897.3L252.0 897.6L253.0 897.9L254.0 898.2L255.0 898.5L256.0 898.8L257.0 899.1L258.0 899.4L259.0 899.7L260.0 900.0L263.0 900.8L266.0 901.4L269.0 901.8L272.0 902.0L275.0 902.3L278.0 902.4L281.0 902.5L284.0 902.6L287.0 902.6L290.0 902.4L293.0 902.3L296.0 902.1L299.0 901.8L302.0 901.6L305.0 901.2L308.0 900.7L311.0 900.1L314.0 899.6L317.0 899.1L320.0 898.6L323.0 898.0L326.0 897.5L329.0 897.1L332.0 896.8L335.0 896.6L338.0 896.6L341.0 896.5L344.0 896.5L347.0 896.8L350.0 897.3L353.0 897.9L356.0 898.5L359.0 899.2L362.0 899.9L365.0 900.7L368.0 901.2L371.0 901.6L374.0 901.9L377.0 902.2L380.0 902.4L383.0 902.4L386.0 902.3L389.0 902.2L392.0 902.0L395.0 901.7L398.0 901.5L401.0 901.2L404.0 900.9L407.0 900.6L410.0 900.2L413.0 899.8L416.0 899.5L419.0 899.1L422.0 898.8L425.0 898.4L428.0 898.1L431.0 897.9L434.0 897.8L437.0 897.9L440.0 898.0L443.0 898.2L446.0 898.4L449.0 898.7L452.0 898.9L455.0 899.2L458.0 899.5L461.0 899.7L464.0 899.9L467.0 900.0L470.0 900.2L473.0 900.4L476.0 900.5L479.0 900.7L482.0 900.8L485.0 900.9L488.0 901.0L491.0 901.0L494.0 901.0L497.0 900.9L500.0 900.8L503.0 900.7L506.0 900.6L509.0 900.4L512.0 900.3L515.0 900.2L518.0 900.0L521.0 900.0L524.0 899.9L527.0 899.9L530.0 899.9L533.0 899.9L536.0 899.9L539.0 899.8L542.0 899.8L545.0 899.8L548.0 899.8L551.0 899.8L554.0 899.8L557.0 899.8L560.0 899.8L563.0 899.8L566.0 899.8L569.0 899.8L572.0 899.8L575.0 899.8L578.0 899.8L581.0 899.8L584.0 899.8L587.0 899.8L590.0 899.8L593.0 899.8L596.0 899.8L599.0 899.8L602.0 899.8L605.0 899.8L608.0 899.8L611.0 899.8L614.0 899.8L617.0 899.8L620.0 899.8L623.0 899.8L626.0 899.8L629.0 899.8L632.0 899.8L635.0 899.8L638.0 899.8L641.0 899.8L644.0 899.8L647.0 899.8L650.0 899.8L653.0 899.8L656.0 899.8" stroke="#0c0cdc" stroke-width="2.4"/>
</g>
<g clip-path="url(#cpin)">
<rect x="331" y="16" width="309" height="272" fill="url(#gliq)"/>
<path d="M393.3 209.7 L485.6 136.8 Q552.2 117.2 644.4 112.7 L644.4 293.4 L427.6 293.4Z" fill="url(#gp2)"/>
<path d="M485.6 136.8 Q536.8 58.4 641.9 15.7 L659.8 5.0 L659.8 112.2 L644.4 112.7 Q552.2 117.2 485.6 136.8Z" fill="url(#gp3)" filter="url(#bl)"/>
<path d="M326.7 169.7 L393.3 209.7 L427.6 293.4 L326.7 293.4Z" fill="url(#gp1)"/>
</g>
<circle cx="331.8" cy="168.8" r="4.6" fill="#e4141e"/>
<circle cx="347.2" cy="168.8" r="4.6" fill="#e4141e"/>
<circle cx="362.6" cy="168.8" r="4.6" fill="#e4141e"/>
<circle cx="372.8" cy="168.8" r="4.6" fill="#e4141e"/>
<circle cx="383.1" cy="168.8" r="4.6" fill="#e4141e"/>
<circle cx="398.4" cy="168.8" r="4.6" fill="#e4141e"/>
<circle cx="413.8" cy="168.8" r="4.6" fill="#e4141e"/>
<circle cx="429.2" cy="168.8" r="4.6" fill="#e4141e"/>
<path d="M331 16V287.5H640" fill="none" stroke="#30303c" stroke-width="1.5"/>
<g stroke="#15152a" stroke-width="1.1" stroke-opacity="0.75">
<line x1="331" x2="336" y1="275.6" y2="275.6"/>
<line x1="331" x2="334.5" y1="257.8" y2="257.8"/>
<line x1="331" x2="336" y1="240.0" y2="240.0"/>
<line x1="331" x2="334.5" y1="222.2" y2="222.2"/>
<line x1="331" x2="336" y1="204.4" y2="204.4"/>
<line x1="331" x2="334.5" y1="186.6" y2="186.6"/>
<line x1="331" x2="336" y1="168.8" y2="168.8"/>
<line x1="331" x2="334.5" y1="151.0" y2="151.0"/>
<line x1="331" x2="336" y1="133.2" y2="133.2"/>
<line x1="331" x2="334.5" y1="115.4" y2="115.4"/>
<line x1="331" x2="336" y1="97.6" y2="97.6"/>
<line x1="331" x2="334.5" y1="79.8" y2="79.8"/>
<line x1="331" x2="336" y1="62.0" y2="62.0"/>
<line x1="331" x2="334.5" y1="44.2" y2="44.2"/>
<line x1="331" x2="336" y1="26.4" y2="26.4"/>
<line x1="331.8" x2="331.8" y1="287.5" y2="282.5"/>
<line x1="357.4" x2="357.4" y1="287.5" y2="284.5"/>
<line x1="383.1" x2="383.1" y1="287.5" y2="282.5"/>
<line x1="408.7" x2="408.7" y1="287.5" y2="284.5"/>
<line x1="434.3" x2="434.3" y1="287.5" y2="282.5"/>
<line x1="459.9" x2="459.9" y1="287.5" y2="284.5"/>
<line x1="485.6" x2="485.6" y1="287.5" y2="282.5"/>
<line x1="511.2" x2="511.2" y1="287.5" y2="284.5"/>
<line x1="536.8" x2="536.8" y1="287.5" y2="282.5"/>
<line x1="562.4" x2="562.4" y1="287.5" y2="284.5"/>
<line x1="588.0" x2="588.0" y1="287.5" y2="282.5"/>
<line x1="613.7" x2="613.7" y1="287.5" y2="284.5"/>
<line x1="639.3" x2="639.3" y1="287.5" y2="282.5"/>
</g>
<g class="sans" font-weight="bold" font-size="15px" fill="#111">
<text x="323.4" y="280.9" text-anchor="end">240</text>
<text x="323.4" y="245.3" text-anchor="end">260</text>
<text x="323.4" y="209.7" text-anchor="end">280</text>
<text x="323.4" y="174.1" text-anchor="end">300</text>
<text x="323.4" y="138.5" text-anchor="end">320</text>
<text x="323.4" y="102.9" text-anchor="end">340</text>
<text x="323.4" y="67.3" text-anchor="end">360</text>
<text x="323.4" y="31.7" text-anchor="end">380</text>
<text x="331.8" y="306.3" text-anchor="middle">0</text>
<text x="383.1" y="306.3" text-anchor="middle">1</text>
<text x="434.3" y="306.3" text-anchor="middle">2</text>
<text x="485.6" y="306.3" text-anchor="middle">3</text>
<text x="536.8" y="306.3" text-anchor="middle">4</text>
<text x="588.0" y="306.3" text-anchor="middle">5</text>
<text x="639.3" y="306.3" text-anchor="middle">6</text>
</g>
<g class="serif" font-weight="bold" fill="#111">
<text x="486.3" y="331" font-size="17.4px" text-anchor="middle">Pressure (GPa)</text>
<text transform="translate(290.6,163.5) rotate(-90)" font-size="17px" text-anchor="middle">Temperature (K)</text>
<text x="478" y="41" font-size="17.6px" text-anchor="middle" fill="#0a1a6a">Ga phase diagram</text>
<text x="438.5" y="104" font-size="17.4px" text-anchor="middle" fill="#0a1a6a">Liquid</text>
<text x="560" y="115" font-size="17px" text-anchor="middle" fill="#12300a">Phase III</text>
<text x="578" y="262" font-size="17px" text-anchor="middle" fill="#0c4a14">Phase II</text>
<text x="363" y="281.6" font-size="16.6px" text-anchor="middle" fill="#111">Phase I</text>
</g>
<g fill="none" stroke="#8a92d2" stroke-width="1">
<path d="M339.9 210.6L353.3 205.4L383.9 206.9L371 211Z M339.9 265L353.3 261.4L383.9 262.9L371 267.6Z M339.9 210.6V265 M353.3 205.4V261.4 M383.9 206.9V262.9 M371 211V267.6"/>
</g>
<g stroke="#0c4444" stroke-width="1.2">
<line x1="352.3" y1="214.2" x2="363" y2="216.3"/>
<line x1="363" y1="216.3" x2="382.9" y2="215.7"/>
<line x1="352.3" y1="214.2" x2="345.3" y2="226.6"/>
<line x1="363" y1="216.3" x2="345.3" y2="226.6"/>
<line x1="363" y1="216.3" x2="356.4" y2="229.2"/>
<line x1="363" y1="216.3" x2="376.1" y2="228.7"/>
<line x1="382.9" y1="215.7" x2="376.1" y2="228.7"/>
<line x1="345.3" y1="226.6" x2="356.4" y2="229.2"/>
<line x1="356.4" y1="229.2" x2="376.1" y2="228.7"/>
<line x1="345.3" y1="226.6" x2="347.8" y2="243.2"/>
<line x1="376.1" y1="228.7" x2="378.5" y2="245.5"/>
<line x1="347.8" y1="243.2" x2="367.5" y2="242.9"/>
<line x1="367.5" y1="242.9" x2="378.5" y2="245.5"/>
<line x1="347.8" y1="243.2" x2="341.2" y2="256.2"/>
<line x1="347.8" y1="243.2" x2="361.1" y2="255.7"/>
<line x1="367.5" y1="242.9" x2="361.1" y2="255.7"/>
<line x1="378.5" y1="245.5" x2="361.1" y2="255.7"/>
<line x1="378.5" y1="245.5" x2="372" y2="257.7"/>
<line x1="341.2" y1="256.2" x2="361.1" y2="255.7"/>
<line x1="361.1" y1="255.7" x2="372" y2="257.7"/>
</g>
<circle cx="352.3" cy="214.2" r="2.7" fill="#6e1a22"/>
<circle cx="363" cy="216.3" r="2.7" fill="#6e1a22"/>
<circle cx="382.9" cy="215.7" r="2.7" fill="#6e1a22"/>
<circle cx="345.3" cy="226.6" r="2.7" fill="#6e1a22"/>
<circle cx="356.4" cy="229.2" r="2.7" fill="#6e1a22"/>
<circle cx="376.1" cy="228.7" r="2.7" fill="#6e1a22"/>
<circle cx="347.8" cy="243.2" r="2.7" fill="#6e1a22"/>
<circle cx="367.5" cy="242.9" r="2.7" fill="#6e1a22"/>
<circle cx="378.5" cy="245.5" r="2.7" fill="#6e1a22"/>
<circle cx="341.2" cy="256.2" r="2.7" fill="#6e1a22"/>
<circle cx="361.1" cy="255.7" r="2.7" fill="#6e1a22"/>
<circle cx="372" cy="257.7" r="2.7" fill="#6e1a22"/>
<g fill="none" stroke="#0a3a22" stroke-width="0.7"><path d="M504.9 176.4H548.1V220.1L504.9 219.6Z M511.1 171.4L554.3 171.9L554.6 215.5L511.1 215Z M504.9 176.4L511.1 171.4 M548.1 176.4L554.3 171.9 M504.9 219.6L511.1 215 M548.1 220.1L554.6 215.5"/></g>
<g stroke="#0a2a1a" stroke-width="1.1">
<line x1="504.9" y1="176.4" x2="522.5" y2="180.7"/>
<line x1="522.5" y1="180.7" x2="529.2" y2="196.3"/>
<line x1="511.1" y1="171.4" x2="521.4" y2="189"/>
<line x1="521.4" y1="189" x2="529.2" y2="196.3"/>
<line x1="529.2" y1="196.3" x2="539.6" y2="212.9"/>
<line x1="539.6" y1="212.9" x2="548.1" y2="220.1"/>
<line x1="554.3" y1="171.9" x2="536.8" y2="178.7"/>
<line x1="536.8" y1="178.7" x2="521.4" y2="189"/>
<line x1="548.1" y1="176.4" x2="538.3" y2="192.4"/>
<line x1="538.3" y1="192.4" x2="529.2" y2="196.3"/>
<line x1="529.2" y1="196.3" x2="519.9" y2="211.3"/>
<line x1="519.9" y1="211.3" x2="504.9" y2="219.6"/>
<line x1="508.3" y1="185.1" x2="521.4" y2="189"/>
<line x1="508.3" y1="185.1" x2="512.1" y2="202.5"/>
<line x1="551.5" y1="185.1" x2="538.3" y2="192.4"/>
<line x1="551.5" y1="185.1" x2="547.4" y2="200.4"/>
<line x1="512.1" y1="202.5" x2="529.2" y2="196.3"/>
<line x1="512.1" y1="202.5" x2="519.9" y2="211.3"/>
<line x1="512.1" y1="202.5" x2="504.9" y2="219.6"/>
<line x1="547.4" y1="200.4" x2="532.9" y2="204.1"/>
<line x1="547.4" y1="200.4" x2="539.6" y2="212.9"/>
<line x1="547.4" y1="200.4" x2="548.1" y2="220.1"/>
<line x1="532.9" y1="204.1" x2="526.6" y2="209.3"/>
<line x1="526.6" y1="209.3" x2="519.9" y2="211.3"/>
<line x1="526.6" y1="209.3" x2="539.6" y2="212.9"/>
<line x1="522.5" y1="180.7" x2="538.3" y2="192.4"/>
<line x1="536.8" y1="178.7" x2="548.1" y2="176.4"/>
<line x1="538.3" y1="192.4" x2="547.4" y2="200.4"/>
<line x1="532.9" y1="204.1" x2="529.2" y2="196.3"/>
<line x1="511.1" y1="215" x2="519.9" y2="211.3"/>
<line x1="554.6" y1="215.5" x2="547.4" y2="200.4"/>
<line x1="504.9" y1="176.4" x2="508.3" y2="185.1"/>
<line x1="548.1" y1="176.4" x2="551.5" y2="185.1"/>
<line x1="536.8" y1="178.7" x2="532.9" y2="204.1"/>
<line x1="521.4" y1="189" x2="526.6" y2="209.3"/>
</g>
<circle cx="511.1" cy="171.4" r="2.5" fill="#0a2416"/>
<circle cx="504.9" cy="176.4" r="2.5" fill="#0a2416"/>
<circle cx="554.3" cy="171.9" r="2.5" fill="#0a2416"/>
<circle cx="548.1" cy="176.4" r="2.5" fill="#0a2416"/>
<circle cx="522.5" cy="180.7" r="2.5" fill="#0a2416"/>
<circle cx="536.8" cy="178.7" r="2.5" fill="#0a2416"/>
<circle cx="508.3" cy="185.1" r="2.5" fill="#0a2416"/>
<circle cx="551.5" cy="185.1" r="2.5" fill="#0a2416"/>
<circle cx="521.4" cy="189" r="2.5" fill="#0a2416"/>
<circle cx="538.3" cy="192.4" r="2.5" fill="#0a2416"/>
<circle cx="529.2" cy="196.3" r="2.5" fill="#0a2416"/>
<circle cx="512.1" cy="202.5" r="2.5" fill="#0a2416"/>
<circle cx="547.4" cy="200.4" r="2.5" fill="#0a2416"/>
<circle cx="532.9" cy="204.1" r="2.5" fill="#0a2416"/>
<circle cx="526.6" cy="209.3" r="2.5" fill="#0a2416"/>
<circle cx="519.9" cy="211.3" r="2.5" fill="#0a2416"/>
<circle cx="539.6" cy="212.9" r="2.5" fill="#0a2416"/>
<circle cx="511.1" cy="215" r="2.5" fill="#0a2416"/>
<circle cx="504.9" cy="219.6" r="2.5" fill="#0a2416"/>
<circle cx="554.6" cy="215.5" r="2.5" fill="#0a2416"/>
<circle cx="548.1" cy="220.1" r="2.5" fill="#0a2416"/>
<g stroke="#8a9a20" stroke-width="0.6"><line x1="591.9" y1="63.3" x2="622.6" y2="65.1"/><line x1="586.1" y1="66.9" x2="616.6" y2="69.1"/><line x1="591.9" y1="83.3" x2="622.6" y2="85.1"/><line x1="586.1" y1="86.9" x2="616.6" y2="88.8"/></g>
<g stroke="#14460a" stroke-width="1.2">
<line x1="591.9" y1="63.3" x2="586.1" y2="66.9"/>
<line x1="591.9" y1="63.3" x2="591.9" y2="83.3"/>
<line x1="586.1" y1="66.9" x2="586.1" y2="86.9"/>
<line x1="591.9" y1="83.3" x2="586.1" y2="86.9"/>
<line x1="622.6" y1="65.1" x2="616.6" y2="69.1"/>
<line x1="622.6" y1="65.1" x2="622.6" y2="85.1"/>
<line x1="616.6" y1="69.1" x2="616.6" y2="88.8"/>
<line x1="622.6" y1="85.1" x2="616.6" y2="88.8"/>
<line x1="591.9" y1="63.3" x2="604.3" y2="76.2"/>
<line x1="586.1" y1="66.9" x2="604.3" y2="76.2"/>
<line x1="591.9" y1="83.3" x2="604.3" y2="76.2"/>
<line x1="616.6" y1="69.1" x2="604.3" y2="76.2"/>
<line x1="622.6" y1="85.1" x2="604.3" y2="76.2"/>
<line x1="616.6" y1="88.8" x2="604.3" y2="76.2"/>
</g>
<circle cx="591.9" cy="63.3" r="2.5" fill="#1c360c"/>
<circle cx="586.1" cy="66.9" r="2.5" fill="#1c360c"/>
<circle cx="622.6" cy="65.1" r="2.5" fill="#1c360c"/>
<circle cx="616.6" cy="69.1" r="2.5" fill="#1c360c"/>
<circle cx="604.3" cy="76.2" r="2.5" fill="#1c360c"/>
<circle cx="591.9" cy="83.3" r="2.5" fill="#1c360c"/>
<circle cx="586.1" cy="86.9" r="2.5" fill="#1c360c"/>
<circle cx="622.6" cy="85.1" r="2.5" fill="#1c360c"/>
<circle cx="616.6" cy="88.8" r="2.5" fill="#1c360c"/>
<rect x="63.0" y="7.0" width="592.8" height="692.9" fill="none" stroke="#000" stroke-width="2"/>
<rect x="63.0" y="802.0" width="592.8" height="435.9" fill="none" stroke="#000" stroke-width="2"/>
<g stroke="#000" stroke-width="1.7">
<line x1="106.5" y1="699.9" x2="106.5" y2="689.4"/>
<line x1="161.4" y1="699.9" x2="161.4" y2="694.4"/>
<line x1="216.4" y1="699.9" x2="216.4" y2="689.4"/>
<line x1="271.3" y1="699.9" x2="271.3" y2="694.4"/>
<line x1="326.2" y1="699.9" x2="326.2" y2="689.4"/>
<line x1="381.1" y1="699.9" x2="381.1" y2="694.4"/>
<line x1="436.1" y1="699.9" x2="436.1" y2="689.4"/>
<line x1="491.0" y1="699.9" x2="491.0" y2="694.4"/>
<line x1="545.9" y1="699.9" x2="545.9" y2="689.4"/>
<line x1="600.9" y1="699.9" x2="600.9" y2="694.4"/>
<line x1="102.8" y1="1237.9" x2="102.8" y2="1227.4"/>
<line x1="142.3" y1="1237.9" x2="142.3" y2="1232.4"/>
<line x1="181.8" y1="1237.9" x2="181.8" y2="1227.4"/>
<line x1="221.3" y1="1237.9" x2="221.3" y2="1232.4"/>
<line x1="260.8" y1="1237.9" x2="260.8" y2="1227.4"/>
<line x1="300.3" y1="1237.9" x2="300.3" y2="1232.4"/>
<line x1="339.8" y1="1237.9" x2="339.8" y2="1227.4"/>
<line x1="379.3" y1="1237.9" x2="379.3" y2="1232.4"/>
<line x1="418.8" y1="1237.9" x2="418.8" y2="1227.4"/>
<line x1="458.3" y1="1237.9" x2="458.3" y2="1232.4"/>
<line x1="497.8" y1="1237.9" x2="497.8" y2="1227.4"/>
<line x1="537.3" y1="1237.9" x2="537.3" y2="1232.4"/>
<line x1="576.8" y1="1237.9" x2="576.8" y2="1227.4"/>
<line x1="616.3" y1="1237.9" x2="616.3" y2="1232.4"/>
</g>
<g class="sans" font-size="28px" fill="#000" text-anchor="middle">
<text x="106.5" y="732.5">2</text>
<text x="216.4" y="732.5">4</text>
<text x="326.2" y="732.5">6</text>
<text x="436.1" y="732.5">8</text>
<text x="545.9" y="732.5">10</text>
<text x="655.8" y="732.5">12</text>
<text x="102.8" y="1269.2">2</text>
<text x="181.8" y="1269.2">4</text>
<text x="260.8" y="1269.2">6</text>
<text x="339.8" y="1269.2">8</text>
<text x="418.8" y="1269.2">10</text>
<text x="497.8" y="1269.2">12</text>
<text x="576.8" y="1269.2">14</text>
<text x="655.8" y="1269.2">16</text>
<g text-anchor="start"><text x="317" y="784.6">Q</text><text x="347.6" y="784.6">(</text><text x="357.3" y="784.6">Å</text><text x="377.3" y="770" font-size="16.5px">-1</text><text x="394.2" y="784.6">)</text></g>
<text x="361" y="1314.9"><tspan font-style="italic">r</tspan> (Å)</text>
<text transform="translate(28.4,497.4) rotate(-90)"><tspan font-style="italic">S</tspan>(Q)</text>
<text transform="translate(28.4,1036.5) rotate(-90)" font-style="italic">g(r)</text>
</g>
<g class="sans" font-size="27.2px" font-weight="bold" fill="#000"><text x="67.6" y="39.8">(a)</text><text x="68.1" y="831.3">(b)</text></g>
<g class="serif" font-size="29.8px" fill="#000">
<line x1="87.7" y1="250.9" x2="138.7" y2="250.9" stroke="#adadad" stroke-width="9.4" stroke-linecap="round"/>
<line x1="87" y1="287.5" x2="141" y2="287.5" stroke="#0c0cdc" stroke-width="2.4"/>
<text x="145.8" y="258">RMC</text><text x="147.3" y="294.8">Experiment</text>
<line x1="359" y1="823.9" x2="410.5" y2="823.9" stroke="#adadad" stroke-width="9.4" stroke-linecap="round"/>
<line x1="358.7" y1="860.6" x2="412.6" y2="860.6" stroke="#0c0cdc" stroke-width="2.4"/>
<text x="418.2" y="831.3">RMC</text><text x="419" y="867.1">Experiment</text>
<text x="561.3" y="637.0">0 GPa</text>
<text x="561.3" y="1187.0">0 GPa</text>
<text x="561.3" y="595.8">0.3GPa</text>
<text x="561.3" y="1144.5">0.3GPa</text>
<text x="561.3" y="554.6">0.6GPa</text>
<text x="561.3" y="1102.0">0.6GPa</text>
<text x="561.3" y="513.4">0.8GPa</text>
<text x="561.3" y="1059.5">0.8GPa</text>
<text x="561.3" y="472.2">1.0GPa</text>
<text x="561.3" y="1017.0">1.0GPa</text>
<text x="561.3" y="431.1">1.3GPa</text>
<text x="561.3" y="974.5">1.3GPa</text>
<text x="561.3" y="389.9">1.6GPa</text>
<text x="561.3" y="932.0">1.6GPa</text>
<text x="561.3" y="348.7">1.9GPa</text>
<text x="561.3" y="889.5">1.9GPa</text>
</g>
</svg></body></html>
